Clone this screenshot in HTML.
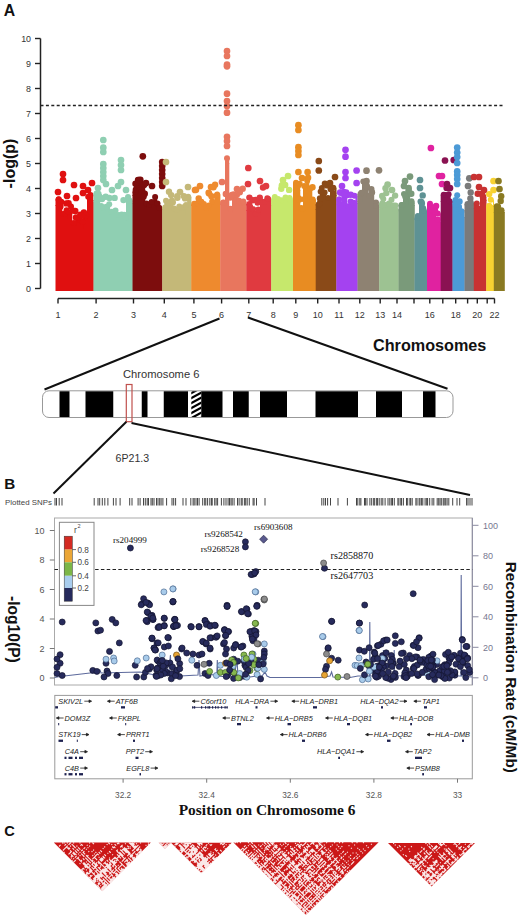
<!DOCTYPE html>
<html><head><meta charset="utf-8"><style>html,body{margin:0;padding:0;background:#fff;}svg{display:block}</style></head>
<body><svg width="520" height="922" viewBox="0 0 520 922">
<rect width="520" height="922" fill="#fff"/>
<text x="3.8" y="16.4" font-family='"Liberation Sans", sans-serif' font-weight="bold" font-size="15.8" fill="#111">A</text>
<line x1="40.5" y1="38.5" x2="40.5" y2="288.5" stroke="#222" stroke-width="1.5"/>
<line x1="35" y1="288.5" x2="40.5" y2="288.5" stroke="#222" stroke-width="1.4"/>
<text x="31" y="291.6" text-anchor="end" font-family='"Liberation Sans", sans-serif' font-size="8.9" fill="#333">0</text>
<line x1="35" y1="263.5" x2="40.5" y2="263.5" stroke="#222" stroke-width="1.4"/>
<text x="31" y="266.6" text-anchor="end" font-family='"Liberation Sans", sans-serif' font-size="8.9" fill="#333">1</text>
<line x1="35" y1="238.5" x2="40.5" y2="238.5" stroke="#222" stroke-width="1.4"/>
<text x="31" y="241.6" text-anchor="end" font-family='"Liberation Sans", sans-serif' font-size="8.9" fill="#333">2</text>
<line x1="35" y1="213.5" x2="40.5" y2="213.5" stroke="#222" stroke-width="1.4"/>
<text x="31" y="216.6" text-anchor="end" font-family='"Liberation Sans", sans-serif' font-size="8.9" fill="#333">3</text>
<line x1="35" y1="188.5" x2="40.5" y2="188.5" stroke="#222" stroke-width="1.4"/>
<text x="31" y="191.6" text-anchor="end" font-family='"Liberation Sans", sans-serif' font-size="8.9" fill="#333">4</text>
<line x1="35" y1="163.5" x2="40.5" y2="163.5" stroke="#222" stroke-width="1.4"/>
<text x="31" y="166.6" text-anchor="end" font-family='"Liberation Sans", sans-serif' font-size="8.9" fill="#333">5</text>
<line x1="35" y1="138.5" x2="40.5" y2="138.5" stroke="#222" stroke-width="1.4"/>
<text x="31" y="141.6" text-anchor="end" font-family='"Liberation Sans", sans-serif' font-size="8.9" fill="#333">6</text>
<line x1="35" y1="113.5" x2="40.5" y2="113.5" stroke="#222" stroke-width="1.4"/>
<text x="31" y="116.6" text-anchor="end" font-family='"Liberation Sans", sans-serif' font-size="8.9" fill="#333">7</text>
<line x1="35" y1="88.5" x2="40.5" y2="88.5" stroke="#222" stroke-width="1.4"/>
<text x="31" y="91.6" text-anchor="end" font-family='"Liberation Sans", sans-serif' font-size="8.9" fill="#333">8</text>
<line x1="35" y1="63.5" x2="40.5" y2="63.5" stroke="#222" stroke-width="1.4"/>
<text x="31" y="66.6" text-anchor="end" font-family='"Liberation Sans", sans-serif' font-size="8.9" fill="#333">9</text>
<line x1="35" y1="38.5" x2="40.5" y2="38.5" stroke="#222" stroke-width="1.4"/>
<text x="31" y="41.6" text-anchor="end" font-family='"Liberation Sans", sans-serif' font-size="8.9" fill="#333">10</text>
<text transform="translate(15,163.5) rotate(-90)" text-anchor="middle" font-family='"Liberation Sans", sans-serif' font-weight="bold" font-size="16" fill="#111">-log(p)</text>
<rect x="55.5" y="205.0" width="1.8" height="86.0" fill="#e01010"/>
<rect x="57.0" y="207.0" width="5.3" height="84.0" fill="#e01010"/>
<rect x="62.0" y="218.0" width="5.3" height="73.0" fill="#e01010"/>
<rect x="67.0" y="213.0" width="5.3" height="78.0" fill="#e01010"/>
<rect x="72.0" y="223.0" width="6.3" height="68.0" fill="#e01010"/>
<rect x="78.0" y="228.0" width="5.3" height="63.0" fill="#e01010"/>
<rect x="83.0" y="219.0" width="4.3" height="72.0" fill="#e01010"/>
<rect x="87.0" y="200.0" width="6.8" height="91.0" fill="#e01010"/>
<path d="M55.5,199.5h1.7V206.0h-1.7zM57.0,199.2h3.8V208.0h-3.8zM60.6,201.8h1.6V208.0h-1.6zM62.0,214.1h2.3V219.0h-2.3zM64.1,213.4h2.3V219.0h-2.3zM66.2,210.3h1.0V219.0h-1.0zM67.0,211.9h3.3V214.0h-3.3zM70.1,206.5h2.1V214.0h-2.1zM72.0,223.0h3.8V224.0h-3.8zM75.6,218.1h2.6V224.0h-2.6zM78.0,219.9h4.6V229.0h-4.6zM82.4,222.1h0.8V229.0h-0.8zM83.0,213.4h2.6V220.0h-2.6zM85.4,215.4h1.8V220.0h-1.8zM87.0,196.7h2.7V201.0h-2.7zM89.5,194.9h3.8V201.0h-3.8z" fill="#e01010"/>
<circle cx="58.5" cy="199.5" r="3" fill="#e01010"/>
<circle cx="58.8" cy="199.2" r="3" fill="#e01010"/>
<circle cx="61.3" cy="201.8" r="3" fill="#e01010"/>
<circle cx="63.1" cy="214.1" r="3" fill="#e01010"/>
<circle cx="65.2" cy="213.4" r="3" fill="#e01010"/>
<circle cx="66.6" cy="210.3" r="3" fill="#e01010"/>
<circle cx="68.5" cy="211.9" r="3" fill="#e01010"/>
<circle cx="71.0" cy="206.5" r="3" fill="#e01010"/>
<circle cx="73.8" cy="223.0" r="3" fill="#e01010"/>
<circle cx="76.8" cy="218.1" r="3" fill="#e01010"/>
<circle cx="80.2" cy="219.9" r="3" fill="#e01010"/>
<circle cx="82.7" cy="222.1" r="3" fill="#e01010"/>
<circle cx="84.2" cy="213.4" r="3" fill="#e01010"/>
<circle cx="86.2" cy="215.4" r="3" fill="#e01010"/>
<circle cx="88.2" cy="196.7" r="3" fill="#e01010"/>
<circle cx="90.5" cy="194.9" r="3" fill="#e01010"/>
<circle cx="76.0" cy="217.5" r="3.2" fill="#e01010"/>
<circle cx="60.4" cy="206.4" r="3.2" fill="#e01010"/>
<circle cx="80.3" cy="214.6" r="3.2" fill="#e01010"/>
<circle cx="68.6" cy="203.3" r="3.2" fill="#e01010"/>
<circle cx="73.0" cy="210.6" r="3.2" fill="#e01010"/>
<circle cx="83.9" cy="212.4" r="3.2" fill="#e01010"/>
<circle cx="66.3" cy="203.4" r="3.2" fill="#e01010"/>
<circle cx="75.3" cy="211.0" r="3.2" fill="#e01010"/>
<circle cx="81.8" cy="215.7" r="3.2" fill="#e01010"/>
<rect x="93.5" y="201.0" width="6.8" height="90.0" fill="#8fcfb2"/>
<rect x="100.0" y="210.0" width="10.3" height="81.0" fill="#8fcfb2"/>
<rect x="110.0" y="215.0" width="10.3" height="76.0" fill="#8fcfb2"/>
<rect x="120.0" y="217.0" width="6.3" height="74.0" fill="#8fcfb2"/>
<rect x="126.0" y="203.0" width="6.8" height="88.0" fill="#8fcfb2"/>
<path d="M93.5,193.6h4.7V202.0h-4.7zM98.0,199.3h2.2V202.0h-2.2zM100.0,205.9h2.6V211.0h-2.6zM102.4,207.5h2.3V211.0h-2.3zM104.5,206.7h4.1V211.0h-4.1zM108.4,204.3h1.8V211.0h-1.8zM110.0,211.8h3.9V216.0h-3.9zM113.7,210.6h3.6V216.0h-3.6zM117.2,215.0h3.0V216.0h-3.0zM120.0,214.5h3.4V218.0h-3.4zM123.2,214.8h2.4V218.0h-2.4zM125.3,217.4h0.9V218.0h-0.9zM126.0,197.1h4.3V204.0h-4.3zM130.1,200.5h2.6V204.0h-2.6z" fill="#8fcfb2"/>
<circle cx="96.5" cy="193.6" r="3" fill="#8fcfb2"/>
<circle cx="99.0" cy="199.3" r="3" fill="#8fcfb2"/>
<circle cx="101.2" cy="205.9" r="3" fill="#8fcfb2"/>
<circle cx="103.4" cy="207.5" r="3" fill="#8fcfb2"/>
<circle cx="106.4" cy="206.7" r="3" fill="#8fcfb2"/>
<circle cx="109.2" cy="204.3" r="3" fill="#8fcfb2"/>
<circle cx="111.9" cy="211.8" r="3" fill="#8fcfb2"/>
<circle cx="115.5" cy="210.6" r="3" fill="#8fcfb2"/>
<circle cx="118.6" cy="215.0" r="3" fill="#8fcfb2"/>
<circle cx="121.6" cy="214.5" r="3" fill="#8fcfb2"/>
<circle cx="124.3" cy="214.8" r="3" fill="#8fcfb2"/>
<circle cx="125.7" cy="217.4" r="3" fill="#8fcfb2"/>
<circle cx="128.0" cy="197.1" r="3" fill="#8fcfb2"/>
<circle cx="129.5" cy="200.5" r="3" fill="#8fcfb2"/>
<circle cx="97.2" cy="196.3" r="3.2" fill="#8fcfb2"/>
<circle cx="102.0" cy="199.1" r="3.2" fill="#8fcfb2"/>
<circle cx="98.4" cy="193.9" r="3.2" fill="#8fcfb2"/>
<circle cx="100.8" cy="198.0" r="3.2" fill="#8fcfb2"/>
<circle cx="109.4" cy="198.0" r="3.2" fill="#8fcfb2"/>
<circle cx="99.2" cy="196.4" r="3.2" fill="#8fcfb2"/>
<circle cx="114.6" cy="197.9" r="3.2" fill="#8fcfb2"/>
<circle cx="123.5" cy="200.1" r="3.2" fill="#8fcfb2"/>
<circle cx="105.7" cy="196.7" r="3.2" fill="#8fcfb2"/>
<rect x="132.5" y="195.0" width="3.8" height="96.0" fill="#7d0d0d"/>
<rect x="136.0" y="191.0" width="4.3" height="100.0" fill="#7d0d0d"/>
<rect x="140.0" y="190.0" width="5.3" height="101.0" fill="#7d0d0d"/>
<rect x="145.0" y="207.0" width="5.3" height="84.0" fill="#7d0d0d"/>
<rect x="150.0" y="205.0" width="8.3" height="86.0" fill="#7d0d0d"/>
<rect x="158.0" y="209.0" width="4.5" height="82.0" fill="#7d0d0d"/>
<path d="M132.5,191.7h3.1V196.0h-3.1zM135.4,189.5h0.8V196.0h-0.8zM136.0,185.7h2.6V192.0h-2.6zM138.4,186.5h1.8V192.0h-1.8zM140.0,183.9h3.7V191.0h-3.7zM143.5,185.3h1.7V191.0h-1.7zM145.0,203.6h3.1V208.0h-3.1zM147.9,204.7h2.3V208.0h-2.3zM150.0,202.1h3.5V206.0h-3.5zM153.3,197.0h3.9V206.0h-3.9zM157.0,203.5h1.2V206.0h-1.2zM158.0,207.7h4.4V210.0h-4.4z" fill="#7d0d0d"/>
<circle cx="135.5" cy="191.7" r="3" fill="#7d0d0d"/>
<circle cx="135.7" cy="189.5" r="3" fill="#7d0d0d"/>
<circle cx="137.2" cy="185.7" r="3" fill="#7d0d0d"/>
<circle cx="139.2" cy="186.5" r="3" fill="#7d0d0d"/>
<circle cx="141.7" cy="183.9" r="3" fill="#7d0d0d"/>
<circle cx="144.2" cy="185.3" r="3" fill="#7d0d0d"/>
<circle cx="146.5" cy="203.6" r="3" fill="#7d0d0d"/>
<circle cx="149.0" cy="204.7" r="3" fill="#7d0d0d"/>
<circle cx="151.6" cy="202.1" r="3" fill="#7d0d0d"/>
<circle cx="155.1" cy="197.0" r="3" fill="#7d0d0d"/>
<circle cx="157.5" cy="203.5" r="3" fill="#7d0d0d"/>
<circle cx="159.2" cy="207.7" r="3" fill="#7d0d0d"/>
<circle cx="144.8" cy="193.8" r="3.2" fill="#7d0d0d"/>
<circle cx="138.0" cy="179.9" r="3.2" fill="#7d0d0d"/>
<circle cx="137.0" cy="184.5" r="3.2" fill="#7d0d0d"/>
<circle cx="140.4" cy="179.7" r="3.2" fill="#7d0d0d"/>
<circle cx="143.6" cy="196.6" r="3.2" fill="#7d0d0d"/>
<circle cx="135.5" cy="183.8" r="3.2" fill="#7d0d0d"/>
<circle cx="137.9" cy="182.1" r="3.2" fill="#7d0d0d"/>
<rect x="162.2" y="208.0" width="13.1" height="83.0" fill="#c4b878"/>
<rect x="175.0" y="214.0" width="10.3" height="77.0" fill="#c4b878"/>
<rect x="185.0" y="205.0" width="6.5" height="86.0" fill="#c4b878"/>
<path d="M162.2,207.4h2.3V209.0h-2.3zM164.3,200.8h3.7V209.0h-3.7zM167.8,202.6h2.8V209.0h-2.8zM170.4,200.6h3.1V209.0h-3.1zM173.3,208.4h1.9V209.0h-1.9zM175.0,209.9h3.4V215.0h-3.4zM178.2,206.4h2.4V215.0h-2.4zM180.4,207.9h3.1V215.0h-3.1zM183.2,207.0h2.0V215.0h-2.0zM185.0,205.1h2.3V206.0h-2.3zM187.1,197.8h3.5V206.0h-3.5zM190.4,196.7h1.0V206.0h-1.0z" fill="#c4b878"/>
<circle cx="165.2" cy="207.4" r="3" fill="#c4b878"/>
<circle cx="166.0" cy="200.8" r="3" fill="#c4b878"/>
<circle cx="169.1" cy="202.6" r="3" fill="#c4b878"/>
<circle cx="171.9" cy="200.6" r="3" fill="#c4b878"/>
<circle cx="174.2" cy="208.4" r="3" fill="#c4b878"/>
<circle cx="176.6" cy="209.9" r="3" fill="#c4b878"/>
<circle cx="179.3" cy="206.4" r="3" fill="#c4b878"/>
<circle cx="181.8" cy="207.9" r="3" fill="#c4b878"/>
<circle cx="184.1" cy="207.0" r="3" fill="#c4b878"/>
<circle cx="186.0" cy="205.1" r="3" fill="#c4b878"/>
<circle cx="188.2" cy="197.8" r="3" fill="#c4b878"/>
<circle cx="188.2" cy="196.7" r="3" fill="#c4b878"/>
<circle cx="177.3" cy="196.2" r="3.2" fill="#c4b878"/>
<circle cx="185.1" cy="198.4" r="3.2" fill="#c4b878"/>
<circle cx="171.2" cy="195.1" r="3.2" fill="#c4b878"/>
<circle cx="169.0" cy="191.8" r="3.2" fill="#c4b878"/>
<circle cx="177.4" cy="197.8" r="3.2" fill="#c4b878"/>
<circle cx="172.8" cy="202.2" r="3.2" fill="#c4b878"/>
<circle cx="183.9" cy="196.1" r="3.2" fill="#c4b878"/>
<rect x="191.2" y="205.0" width="9.1" height="86.0" fill="#ee8a2e"/>
<rect x="200.0" y="210.0" width="10.3" height="81.0" fill="#ee8a2e"/>
<rect x="210.0" y="201.0" width="10.5" height="90.0" fill="#ee8a2e"/>
<path d="M191.2,203.8h4.3V206.0h-4.3zM195.3,203.2h4.2V206.0h-4.2zM199.4,201.2h0.8V206.0h-0.8zM200.0,201.8h3.1V211.0h-3.1zM202.9,204.0h2.3V211.0h-2.3zM205.0,207.7h2.8V211.0h-2.8zM207.6,205.5h2.6V211.0h-2.6zM210.0,201.4h4.5V202.0h-4.5zM214.3,195.8h4.6V202.0h-4.6zM218.7,194.5h1.7V202.0h-1.7z" fill="#ee8a2e"/>
<circle cx="194.2" cy="203.8" r="3" fill="#ee8a2e"/>
<circle cx="197.4" cy="203.2" r="3" fill="#ee8a2e"/>
<circle cx="199.7" cy="201.2" r="3" fill="#ee8a2e"/>
<circle cx="201.4" cy="201.8" r="3" fill="#ee8a2e"/>
<circle cx="203.9" cy="204.0" r="3" fill="#ee8a2e"/>
<circle cx="206.3" cy="207.7" r="3" fill="#ee8a2e"/>
<circle cx="208.8" cy="205.5" r="3" fill="#ee8a2e"/>
<circle cx="212.2" cy="201.4" r="3" fill="#ee8a2e"/>
<circle cx="216.5" cy="195.8" r="3" fill="#ee8a2e"/>
<circle cx="217.2" cy="194.5" r="3" fill="#ee8a2e"/>
<circle cx="198.7" cy="198.4" r="3.2" fill="#ee8a2e"/>
<circle cx="208.6" cy="192.8" r="3.2" fill="#ee8a2e"/>
<circle cx="213.5" cy="187.2" r="3.2" fill="#ee8a2e"/>
<circle cx="209.2" cy="193.6" r="3.2" fill="#ee8a2e"/>
<circle cx="196.1" cy="189.7" r="3.2" fill="#ee8a2e"/>
<circle cx="215.1" cy="184.7" r="3.2" fill="#ee8a2e"/>
<circle cx="211.5" cy="196.2" r="3.2" fill="#ee8a2e"/>
<rect x="220.2" y="204.0" width="5.1" height="87.0" fill="#e8765e"/>
<rect x="225.0" y="163.0" width="4.3" height="128.0" fill="#e8765e"/>
<rect x="229.0" y="212.0" width="3.3" height="79.0" fill="#e8765e"/>
<rect x="232.0" y="202.0" width="8.3" height="89.0" fill="#e8765e"/>
<rect x="240.0" y="204.0" width="6.6" height="87.0" fill="#e8765e"/>
<path d="M220.2,202.6h2.6V205.0h-2.6zM222.6,202.7h2.6V205.0h-2.6zM225.0,158.2h4.2V164.0h-4.2zM229.0,208.8h3.2V213.0h-3.2zM232.0,195.0h4.0V203.0h-4.0zM235.8,194.9h2.5V203.0h-2.5zM238.1,200.8h2.1V203.0h-2.1zM240.0,202.9h2.6V205.0h-2.6zM242.4,201.4h4.1V205.0h-4.1z" fill="#e8765e"/>
<circle cx="223.2" cy="202.6" r="3" fill="#e8765e"/>
<circle cx="223.8" cy="202.7" r="3" fill="#e8765e"/>
<circle cx="227.0" cy="158.2" r="3" fill="#e8765e"/>
<circle cx="230.5" cy="208.8" r="3" fill="#e8765e"/>
<circle cx="233.9" cy="195.0" r="3" fill="#e8765e"/>
<circle cx="237.0" cy="194.9" r="3" fill="#e8765e"/>
<circle cx="239.1" cy="200.8" r="3" fill="#e8765e"/>
<circle cx="241.2" cy="202.9" r="3" fill="#e8765e"/>
<circle cx="243.3" cy="201.4" r="3" fill="#e8765e"/>
<circle cx="230.2" cy="197.6" r="3.2" fill="#e8765e"/>
<circle cx="225.8" cy="193.9" r="3.2" fill="#e8765e"/>
<circle cx="242.7" cy="188.8" r="3.2" fill="#e8765e"/>
<circle cx="233.8" cy="194.5" r="3.2" fill="#e8765e"/>
<circle cx="231.9" cy="195.0" r="3.2" fill="#e8765e"/>
<circle cx="239.8" cy="192.3" r="3.2" fill="#e8765e"/>
<rect x="246.3" y="210.0" width="6.0" height="81.0" fill="#e03a40"/>
<rect x="252.0" y="214.0" width="8.3" height="77.0" fill="#e03a40"/>
<rect x="260.0" y="202.0" width="8.3" height="89.0" fill="#e03a40"/>
<rect x="268.0" y="205.0" width="3.5" height="86.0" fill="#e03a40"/>
<path d="M246.3,204.1h2.8V211.0h-2.8zM248.9,206.8h2.8V211.0h-2.8zM252.0,209.3h2.8V215.0h-2.8zM254.6,213.7h2.5V215.0h-2.5zM257.0,209.6h3.1V215.0h-3.1zM260.0,201.6h3.7V203.0h-3.7zM263.5,201.8h3.3V203.0h-3.3zM266.5,198.3h1.7V203.0h-1.7zM268.0,199.1h3.4V206.0h-3.4z" fill="#e03a40"/>
<circle cx="249.3" cy="204.1" r="3" fill="#e03a40"/>
<circle cx="250.2" cy="206.8" r="3" fill="#e03a40"/>
<circle cx="253.3" cy="209.3" r="3" fill="#e03a40"/>
<circle cx="255.8" cy="213.7" r="3" fill="#e03a40"/>
<circle cx="258.4" cy="209.6" r="3" fill="#e03a40"/>
<circle cx="261.7" cy="201.6" r="3" fill="#e03a40"/>
<circle cx="265.0" cy="201.8" r="3" fill="#e03a40"/>
<circle cx="267.3" cy="198.3" r="3" fill="#e03a40"/>
<circle cx="268.2" cy="199.1" r="3" fill="#e03a40"/>
<circle cx="257.6" cy="202.5" r="3.2" fill="#e03a40"/>
<circle cx="249.4" cy="197.6" r="3.2" fill="#e03a40"/>
<circle cx="252.6" cy="200.2" r="3.2" fill="#e03a40"/>
<circle cx="263.0" cy="187.5" r="3.2" fill="#e03a40"/>
<circle cx="255.5" cy="199.9" r="3.2" fill="#e03a40"/>
<circle cx="259.8" cy="197.7" r="3.2" fill="#e03a40"/>
<rect x="271.2" y="203.0" width="9.1" height="88.0" fill="#c6e86c"/>
<rect x="280.0" y="202.0" width="13.3" height="89.0" fill="#c6e86c"/>
<path d="M271.2,199.5h2.5V204.0h-2.5zM273.5,197.0h2.8V204.0h-2.8zM276.1,199.1h4.1V204.0h-4.1zM280.0,200.3h3.6V203.0h-3.6zM283.4,197.5h4.5V203.0h-4.5zM287.7,198.0h3.7V203.0h-3.7zM291.2,199.7h2.0V203.0h-2.0z" fill="#c6e86c"/>
<circle cx="274.2" cy="199.5" r="3" fill="#c6e86c"/>
<circle cx="274.8" cy="197.0" r="3" fill="#c6e86c"/>
<circle cx="278.0" cy="199.1" r="3" fill="#c6e86c"/>
<circle cx="281.7" cy="200.3" r="3" fill="#c6e86c"/>
<circle cx="285.5" cy="197.5" r="3" fill="#c6e86c"/>
<circle cx="289.5" cy="198.0" r="3" fill="#c6e86c"/>
<circle cx="290.0" cy="199.7" r="3" fill="#c6e86c"/>
<circle cx="281.3" cy="188.7" r="3.2" fill="#c6e86c"/>
<circle cx="281.8" cy="185.5" r="3.2" fill="#c6e86c"/>
<circle cx="285.2" cy="185.0" r="3.2" fill="#c6e86c"/>
<circle cx="289.1" cy="189.9" r="3.2" fill="#c6e86c"/>
<circle cx="283.0" cy="184.5" r="3.2" fill="#c6e86c"/>
<rect x="293.0" y="190.0" width="7.3" height="101.0" fill="#e88c22"/>
<rect x="300.0" y="212.0" width="3.3" height="79.0" fill="#e88c22"/>
<rect x="303.0" y="188.0" width="9.3" height="103.0" fill="#e88c22"/>
<rect x="312.0" y="204.0" width="4.0" height="87.0" fill="#e88c22"/>
<path d="M293.0,182.7h4.3V191.0h-4.3zM297.1,185.5h2.5V191.0h-2.5zM299.4,183.7h0.8V191.0h-0.8zM300.0,208.0h2.4V213.0h-2.4zM302.2,208.7h1.0V213.0h-1.0zM303.0,185.9h2.6V189.0h-2.6zM305.4,180.8h3.9V189.0h-3.9zM309.0,188.2h3.2V189.0h-3.2zM312.0,200.9h2.7V205.0h-2.7zM314.5,199.5h1.4V205.0h-1.4z" fill="#e88c22"/>
<circle cx="296.0" cy="182.7" r="3" fill="#e88c22"/>
<circle cx="298.3" cy="185.5" r="3" fill="#e88c22"/>
<circle cx="299.7" cy="183.7" r="3" fill="#e88c22"/>
<circle cx="301.1" cy="208.0" r="3" fill="#e88c22"/>
<circle cx="302.6" cy="208.7" r="3" fill="#e88c22"/>
<circle cx="304.2" cy="185.9" r="3" fill="#e88c22"/>
<circle cx="307.2" cy="180.8" r="3" fill="#e88c22"/>
<circle cx="310.5" cy="188.2" r="3" fill="#e88c22"/>
<circle cx="312.7" cy="200.9" r="3" fill="#e88c22"/>
<circle cx="312.7" cy="199.5" r="3" fill="#e88c22"/>
<circle cx="312.5" cy="187.3" r="3.2" fill="#e88c22"/>
<circle cx="298.7" cy="198.5" r="3.2" fill="#e88c22"/>
<circle cx="304.6" cy="199.3" r="3.2" fill="#e88c22"/>
<circle cx="299.3" cy="199.5" r="3.2" fill="#e88c22"/>
<circle cx="308.1" cy="177.8" r="3.2" fill="#e88c22"/>
<rect x="315.7" y="209.0" width="4.6" height="82.0" fill="#8a4a18"/>
<rect x="320.0" y="192.0" width="6.3" height="99.0" fill="#8a4a18"/>
<rect x="326.0" y="201.0" width="4.3" height="90.0" fill="#8a4a18"/>
<rect x="330.0" y="195.0" width="6.6" height="96.0" fill="#8a4a18"/>
<path d="M315.7,204.5h3.6V210.0h-3.6zM319.1,203.5h1.1V210.0h-1.1zM320.0,188.1h3.8V193.0h-3.8zM323.6,192.4h2.4V193.0h-2.4zM326.0,197.9h4.2V202.0h-4.2zM330.0,188.9h2.5V196.0h-2.5zM332.3,193.5h2.3V196.0h-2.3zM334.4,187.7h2.1V196.0h-2.1z" fill="#8a4a18"/>
<circle cx="318.7" cy="204.5" r="3" fill="#8a4a18"/>
<circle cx="319.5" cy="203.5" r="3" fill="#8a4a18"/>
<circle cx="321.8" cy="188.1" r="3" fill="#8a4a18"/>
<circle cx="324.6" cy="192.4" r="3" fill="#8a4a18"/>
<circle cx="328.0" cy="197.9" r="3" fill="#8a4a18"/>
<circle cx="331.1" cy="188.9" r="3" fill="#8a4a18"/>
<circle cx="333.3" cy="193.5" r="3" fill="#8a4a18"/>
<circle cx="333.3" cy="187.7" r="3" fill="#8a4a18"/>
<circle cx="324.9" cy="183.7" r="3.2" fill="#8a4a18"/>
<circle cx="330.7" cy="188.9" r="3.2" fill="#8a4a18"/>
<circle cx="320.9" cy="191.6" r="3.2" fill="#8a4a18"/>
<circle cx="327.0" cy="185.4" r="3.2" fill="#8a4a18"/>
<circle cx="320.0" cy="198.5" r="3.2" fill="#8a4a18"/>
<rect x="336.3" y="204.0" width="6.0" height="87.0" fill="#a442f0"/>
<rect x="342.0" y="193.0" width="5.3" height="98.0" fill="#a442f0"/>
<rect x="347.0" y="207.0" width="5.3" height="84.0" fill="#a442f0"/>
<rect x="352.0" y="203.0" width="5.8" height="88.0" fill="#a442f0"/>
<path d="M336.3,199.3h3.9V205.0h-3.9zM340.0,203.9h2.2V205.0h-2.2zM342.0,191.7h3.8V194.0h-3.8zM345.6,192.2h1.6V194.0h-1.6zM347.0,206.3h2.4V208.0h-2.4zM349.2,201.6h3.0V208.0h-3.0zM352.0,202.8h3.6V204.0h-3.6zM355.4,195.7h2.3V204.0h-2.3z" fill="#a442f0"/>
<circle cx="339.3" cy="199.3" r="3" fill="#a442f0"/>
<circle cx="341.0" cy="203.9" r="3" fill="#a442f0"/>
<circle cx="343.8" cy="191.7" r="3" fill="#a442f0"/>
<circle cx="346.3" cy="192.2" r="3" fill="#a442f0"/>
<circle cx="348.1" cy="206.3" r="3" fill="#a442f0"/>
<circle cx="350.6" cy="201.6" r="3" fill="#a442f0"/>
<circle cx="353.7" cy="202.8" r="3" fill="#a442f0"/>
<circle cx="354.5" cy="195.7" r="3" fill="#a442f0"/>
<circle cx="347.3" cy="195.1" r="3.2" fill="#a442f0"/>
<circle cx="341.0" cy="192.7" r="3.2" fill="#a442f0"/>
<circle cx="340.1" cy="192.4" r="3.2" fill="#a442f0"/>
<circle cx="344.0" cy="194.6" r="3.2" fill="#a442f0"/>
<circle cx="350.8" cy="194.7" r="3.2" fill="#a442f0"/>
<rect x="357.5" y="201.0" width="4.8" height="90.0" fill="#8e8272"/>
<rect x="362.0" y="190.0" width="6.3" height="101.0" fill="#8e8272"/>
<rect x="368.0" y="200.0" width="6.3" height="91.0" fill="#8e8272"/>
<rect x="374.0" y="207.0" width="5.5" height="84.0" fill="#8e8272"/>
<path d="M357.5,194.1h3.5V202.0h-3.5zM360.8,192.7h1.4V202.0h-1.4zM362.0,181.6h2.8V191.0h-2.8zM364.6,186.5h3.6V191.0h-3.6zM368.0,195.8h2.7V201.0h-2.7zM370.5,192.5h3.7V201.0h-3.7zM374.0,202.4h4.2V208.0h-4.2zM378.0,206.0h1.4V208.0h-1.4z" fill="#8e8272"/>
<circle cx="360.5" cy="194.1" r="3" fill="#8e8272"/>
<circle cx="361.4" cy="192.7" r="3" fill="#8e8272"/>
<circle cx="363.3" cy="181.6" r="3" fill="#8e8272"/>
<circle cx="366.3" cy="186.5" r="3" fill="#8e8272"/>
<circle cx="369.2" cy="195.8" r="3" fill="#8e8272"/>
<circle cx="372.2" cy="192.5" r="3" fill="#8e8272"/>
<circle cx="376.0" cy="202.4" r="3" fill="#8e8272"/>
<circle cx="376.2" cy="206.0" r="3" fill="#8e8272"/>
<circle cx="366.7" cy="185.9" r="3.2" fill="#8e8272"/>
<circle cx="371.3" cy="189.1" r="3.2" fill="#8e8272"/>
<circle cx="365.9" cy="183.3" r="3.2" fill="#8e8272"/>
<circle cx="371.6" cy="191.9" r="3.2" fill="#8e8272"/>
<circle cx="366.9" cy="187.2" r="3.2" fill="#8e8272"/>
<rect x="379.2" y="209.0" width="3.1" height="82.0" fill="#9dc292"/>
<rect x="382.0" y="206.0" width="10.3" height="85.0" fill="#9dc292"/>
<rect x="392.0" y="210.0" width="6.8" height="81.0" fill="#9dc292"/>
<path d="M379.2,203.4h2.3V210.0h-2.3zM381.3,205.2h0.9V210.0h-0.9zM382.0,199.0h2.8V207.0h-2.8zM384.6,205.1h2.4V207.0h-2.4zM386.9,203.5h4.4V207.0h-4.4zM391.0,199.7h1.2V207.0h-1.2zM392.0,205.6h2.9V211.0h-2.9zM394.7,205.5h2.6V211.0h-2.6zM397.1,210.2h1.6V211.0h-1.6z" fill="#9dc292"/>
<circle cx="382.2" cy="203.4" r="3" fill="#9dc292"/>
<circle cx="382.2" cy="205.2" r="3" fill="#9dc292"/>
<circle cx="383.3" cy="199.0" r="3" fill="#9dc292"/>
<circle cx="385.7" cy="205.1" r="3" fill="#9dc292"/>
<circle cx="388.9" cy="203.5" r="3" fill="#9dc292"/>
<circle cx="391.5" cy="199.7" r="3" fill="#9dc292"/>
<circle cx="393.4" cy="205.6" r="3" fill="#9dc292"/>
<circle cx="395.5" cy="205.5" r="3" fill="#9dc292"/>
<circle cx="395.5" cy="210.2" r="3" fill="#9dc292"/>
<circle cx="395.1" cy="195.6" r="3.2" fill="#9dc292"/>
<circle cx="385.5" cy="188.3" r="3.2" fill="#9dc292"/>
<circle cx="386.3" cy="193.1" r="3.2" fill="#9dc292"/>
<circle cx="382.2" cy="195.9" r="3.2" fill="#9dc292"/>
<rect x="398.5" y="209.0" width="4.8" height="82.0" fill="#7a9a7a"/>
<rect x="403.0" y="200.0" width="7.3" height="91.0" fill="#7a9a7a"/>
<rect x="410.0" y="205.0" width="4.8" height="86.0" fill="#7a9a7a"/>
<path d="M398.5,205.0h3.4V210.0h-3.4zM401.7,205.0h1.5V210.0h-1.5zM403.0,193.9h2.2V201.0h-2.2zM405.0,195.1h2.4V201.0h-2.4zM407.2,191.7h2.3V201.0h-2.3zM409.3,193.6h0.9V201.0h-0.9zM410.0,201.3h3.7V206.0h-3.7zM413.5,202.4h1.2V206.0h-1.2z" fill="#7a9a7a"/>
<circle cx="401.5" cy="205.0" r="3" fill="#7a9a7a"/>
<circle cx="402.3" cy="205.0" r="3" fill="#7a9a7a"/>
<circle cx="404.0" cy="193.9" r="3" fill="#7a9a7a"/>
<circle cx="406.1" cy="195.1" r="3" fill="#7a9a7a"/>
<circle cx="408.3" cy="191.7" r="3" fill="#7a9a7a"/>
<circle cx="409.7" cy="193.6" r="3" fill="#7a9a7a"/>
<circle cx="411.5" cy="201.3" r="3" fill="#7a9a7a"/>
<circle cx="411.5" cy="202.4" r="3" fill="#7a9a7a"/>
<circle cx="408.7" cy="188.0" r="3.2" fill="#7a9a7a"/>
<circle cx="405.4" cy="196.4" r="3.2" fill="#7a9a7a"/>
<circle cx="411.3" cy="193.8" r="3.2" fill="#7a9a7a"/>
<circle cx="408.7" cy="189.9" r="3.2" fill="#7a9a7a"/>
<rect x="414.5" y="219.0" width="4.8" height="72.0" fill="#5e9294"/>
<rect x="419.0" y="205.0" width="3.3" height="86.0" fill="#5e9294"/>
<rect x="422.0" y="212.0" width="5.3" height="79.0" fill="#5e9294"/>
<path d="M414.5,218.0h2.3V220.0h-2.3zM416.6,216.1h2.6V220.0h-2.6zM419.0,201.4h3.2V206.0h-3.2zM422.0,208.2h2.5V213.0h-2.5zM424.3,211.0h2.9V213.0h-2.9z" fill="#5e9294"/>
<circle cx="417.5" cy="218.0" r="3" fill="#5e9294"/>
<circle cx="417.8" cy="216.1" r="3" fill="#5e9294"/>
<circle cx="420.5" cy="201.4" r="3" fill="#5e9294"/>
<circle cx="423.2" cy="208.2" r="3" fill="#5e9294"/>
<circle cx="424.0" cy="211.0" r="3" fill="#5e9294"/>
<circle cx="422.7" cy="195.4" r="3.2" fill="#5e9294"/>
<circle cx="421.3" cy="201.9" r="3.2" fill="#5e9294"/>
<circle cx="421.9" cy="203.5" r="3.2" fill="#5e9294"/>
<rect x="427.0" y="212.0" width="9.3" height="79.0" fill="#e022a0"/>
<rect x="436.0" y="222.0" width="5.0" height="69.0" fill="#e022a0"/>
<path d="M427.0,203.8h2.8V213.0h-2.8zM429.6,206.7h2.5V213.0h-2.5zM431.9,211.0h2.5V213.0h-2.5zM434.2,209.1h2.0V213.0h-2.0zM436.0,219.6h3.8V223.0h-3.8zM439.6,213.5h1.3V223.0h-1.3z" fill="#e022a0"/>
<circle cx="430.0" cy="203.8" r="3" fill="#e022a0"/>
<circle cx="430.7" cy="206.7" r="3" fill="#e022a0"/>
<circle cx="433.0" cy="211.0" r="3" fill="#e022a0"/>
<circle cx="435.1" cy="209.1" r="3" fill="#e022a0"/>
<circle cx="437.7" cy="219.6" r="3" fill="#e022a0"/>
<circle cx="437.7" cy="213.5" r="3" fill="#e022a0"/>
<circle cx="436.1" cy="206.0" r="3.2" fill="#e022a0"/>
<circle cx="433.9" cy="207.7" r="3.2" fill="#e022a0"/>
<circle cx="435.1" cy="211.5" r="3.2" fill="#e022a0"/>
<rect x="440.7" y="201.0" width="12.1" height="90.0" fill="#8a1252"/>
<path d="M440.7,194.8h4.0V202.0h-4.0zM444.5,194.9h2.4V202.0h-2.4zM446.7,194.3h4.0V202.0h-4.0zM450.6,201.3h2.1V202.0h-2.1z" fill="#8a1252"/>
<circle cx="443.7" cy="194.8" r="3" fill="#8a1252"/>
<circle cx="445.6" cy="194.9" r="3" fill="#8a1252"/>
<circle cx="448.6" cy="194.3" r="3" fill="#8a1252"/>
<circle cx="449.5" cy="201.3" r="3" fill="#8a1252"/>
<circle cx="446.6" cy="187.9" r="3.2" fill="#8a1252"/>
<circle cx="446.5" cy="185.5" r="3.2" fill="#8a1252"/>
<rect x="452.5" y="203.0" width="5.8" height="88.0" fill="#4c9ad6"/>
<rect x="458.0" y="217.0" width="6.8" height="74.0" fill="#4c9ad6"/>
<path d="M452.5,200.1h4.1V204.0h-4.1zM456.4,195.2h1.8V204.0h-1.8zM458.0,210.8h2.6V218.0h-2.6zM460.4,211.2h4.1V218.0h-4.1z" fill="#4c9ad6"/>
<circle cx="455.5" cy="200.1" r="3" fill="#4c9ad6"/>
<circle cx="457.2" cy="195.2" r="3" fill="#4c9ad6"/>
<circle cx="459.2" cy="210.8" r="3" fill="#4c9ad6"/>
<circle cx="461.5" cy="211.2" r="3" fill="#4c9ad6"/>
<circle cx="458.9" cy="206.9" r="3.2" fill="#4c9ad6"/>
<circle cx="455.9" cy="204.8" r="3.2" fill="#4c9ad6"/>
<circle cx="459.5" cy="201.5" r="3.2" fill="#4c9ad6"/>
<rect x="464.5" y="210.0" width="9.6" height="81.0" fill="#7a7a7a"/>
<path d="M464.5,204.1h3.9V211.0h-3.9zM468.2,205.7h3.5V211.0h-3.5zM471.5,202.6h2.5V211.0h-2.5z" fill="#7a7a7a"/>
<circle cx="467.5" cy="204.1" r="3" fill="#7a7a7a"/>
<circle cx="469.8" cy="205.7" r="3" fill="#7a7a7a"/>
<circle cx="470.8" cy="202.6" r="3" fill="#7a7a7a"/>
<circle cx="470.4" cy="198.4" r="3.2" fill="#7a7a7a"/>
<circle cx="470.7" cy="192.5" r="3.2" fill="#7a7a7a"/>
<rect x="473.8" y="208.0" width="6.5" height="83.0" fill="#c83232"/>
<rect x="480.0" y="200.0" width="6.5" height="91.0" fill="#c83232"/>
<path d="M473.8,203.6h2.2V209.0h-2.2zM475.8,208.2h4.2V209.0h-4.2zM480.0,193.9h3.3V201.0h-3.3zM483.1,200.0h2.7V201.0h-2.7zM485.6,196.7h0.8V201.0h-0.8z" fill="#c83232"/>
<circle cx="476.8" cy="203.6" r="3" fill="#c83232"/>
<circle cx="477.9" cy="208.2" r="3" fill="#c83232"/>
<circle cx="481.6" cy="193.9" r="3" fill="#c83232"/>
<circle cx="483.2" cy="200.0" r="3" fill="#c83232"/>
<circle cx="483.2" cy="196.7" r="3" fill="#c83232"/>
<circle cx="477.7" cy="193.8" r="3.2" fill="#c83232"/>
<circle cx="482.9" cy="196.9" r="3.2" fill="#c83232"/>
<circle cx="482.0" cy="193.9" r="3.2" fill="#c83232"/>
<rect x="486.2" y="208.0" width="7.9" height="83.0" fill="#f8d232"/>
<path d="M486.2,205.8h4.4V209.0h-4.4zM490.4,207.6h2.8V209.0h-2.8zM493.0,199.7h1.0V209.0h-1.0z" fill="#f8d232"/>
<circle cx="489.2" cy="205.8" r="3" fill="#f8d232"/>
<circle cx="490.8" cy="207.6" r="3" fill="#f8d232"/>
<circle cx="490.8" cy="199.7" r="3" fill="#f8d232"/>
<circle cx="489.2" cy="194.1" r="3.2" fill="#f8d232"/>
<rect x="493.8" y="212.0" width="11.0" height="79.0" fill="#8a7a22"/>
<path d="M493.8,206.2h3.3V213.0h-3.3zM496.9,206.6h2.6V213.0h-2.6zM499.3,211.1h3.0V213.0h-3.0zM502.1,210.3h2.2V213.0h-2.2z" fill="#8a7a22"/>
<circle cx="496.8" cy="206.2" r="3" fill="#8a7a22"/>
<circle cx="498.1" cy="206.6" r="3" fill="#8a7a22"/>
<circle cx="500.7" cy="211.1" r="3" fill="#8a7a22"/>
<circle cx="501.5" cy="210.3" r="3" fill="#8a7a22"/>
<circle cx="500.7" cy="201.0" r="3.2" fill="#8a7a22"/>
<circle cx="501.2" cy="196.3" r="3.2" fill="#8a7a22"/>
<circle cx="63" cy="174" r="3.35" fill="#e01010"/>
<circle cx="63" cy="180" r="3.35" fill="#e01010"/>
<circle cx="74" cy="185" r="3.35" fill="#e01010"/>
<circle cx="83" cy="186" r="3.35" fill="#e01010"/>
<circle cx="83" cy="193" r="3.35" fill="#e01010"/>
<circle cx="92" cy="183" r="3.35" fill="#e01010"/>
<circle cx="67" cy="196" r="3.35" fill="#e01010"/>
<circle cx="76" cy="198" r="3.35" fill="#e01010"/>
<circle cx="58" cy="192" r="3.35" fill="#e01010"/>
<circle cx="88" cy="190" r="3.35" fill="#e01010"/>
<circle cx="103.3" cy="140" r="3.35" fill="#8fcfb2"/>
<circle cx="103.3" cy="147.7" r="3.35" fill="#8fcfb2"/>
<circle cx="103.3" cy="152" r="3.35" fill="#8fcfb2"/>
<circle cx="103.3" cy="164" r="3.35" fill="#8fcfb2"/>
<circle cx="103.3" cy="168" r="3.35" fill="#8fcfb2"/>
<circle cx="103.3" cy="172" r="3.35" fill="#8fcfb2"/>
<circle cx="103.3" cy="176" r="3.35" fill="#8fcfb2"/>
<circle cx="103.3" cy="180" r="3.35" fill="#8fcfb2"/>
<circle cx="106" cy="184" r="3.35" fill="#8fcfb2"/>
<circle cx="121" cy="160" r="3.35" fill="#8fcfb2"/>
<circle cx="121" cy="165" r="3.35" fill="#8fcfb2"/>
<circle cx="121" cy="170" r="3.35" fill="#8fcfb2"/>
<circle cx="121" cy="182" r="3.35" fill="#8fcfb2"/>
<circle cx="118" cy="186" r="3.35" fill="#8fcfb2"/>
<circle cx="112" cy="190" r="3.35" fill="#8fcfb2"/>
<circle cx="126" cy="190" r="3.35" fill="#8fcfb2"/>
<circle cx="98" cy="188" r="3.35" fill="#8fcfb2"/>
<circle cx="142.8" cy="156.3" r="3.35" fill="#7d0d0d"/>
<circle cx="162.2" cy="162" r="3.35" fill="#7d0d0d"/>
<circle cx="162.2" cy="166" r="3.35" fill="#7d0d0d"/>
<circle cx="162.2" cy="170" r="3.35" fill="#7d0d0d"/>
<circle cx="162.2" cy="174" r="3.35" fill="#7d0d0d"/>
<circle cx="162.2" cy="178" r="3.35" fill="#7d0d0d"/>
<circle cx="162.2" cy="182" r="3.35" fill="#7d0d0d"/>
<circle cx="162.2" cy="186" r="3.35" fill="#7d0d0d"/>
<circle cx="139" cy="180" r="3.35" fill="#7d0d0d"/>
<circle cx="146" cy="183" r="3.35" fill="#7d0d0d"/>
<circle cx="152" cy="186" r="3.35" fill="#7d0d0d"/>
<circle cx="166" cy="162" r="3.35" fill="#c4b878"/>
<circle cx="166" cy="182" r="3.35" fill="#c4b878"/>
<circle cx="188" cy="187" r="3.35" fill="#c4b878"/>
<circle cx="180" cy="192" r="3.35" fill="#c4b878"/>
<circle cx="200" cy="186" r="3.35" fill="#ee8a2e"/>
<circle cx="211" cy="187" r="3.35" fill="#ee8a2e"/>
<circle cx="195" cy="190" r="3.35" fill="#ee8a2e"/>
<circle cx="227" cy="51.1" r="3.35" fill="#e8765e"/>
<circle cx="227" cy="56" r="3.35" fill="#e8765e"/>
<circle cx="227" cy="64.6" r="3.35" fill="#e8765e"/>
<circle cx="227" cy="66.3" r="3.35" fill="#e8765e"/>
<circle cx="227" cy="93.7" r="3.35" fill="#e8765e"/>
<circle cx="227" cy="101" r="3.35" fill="#e8765e"/>
<circle cx="227" cy="106" r="3.35" fill="#e8765e"/>
<circle cx="227" cy="112.7" r="3.35" fill="#e8765e"/>
<circle cx="227" cy="136.8" r="3.35" fill="#e8765e"/>
<circle cx="227" cy="141" r="3.35" fill="#e8765e"/>
<circle cx="227" cy="146" r="3.35" fill="#e8765e"/>
<circle cx="222" cy="182" r="3.35" fill="#e8765e"/>
<circle cx="237" cy="189" r="3.35" fill="#e8765e"/>
<circle cx="248.3" cy="168" r="3.35" fill="#e03a40"/>
<circle cx="260" cy="181" r="3.35" fill="#e03a40"/>
<circle cx="248" cy="184" r="3.35" fill="#e03a40"/>
<circle cx="266" cy="186" r="3.35" fill="#e03a40"/>
<circle cx="283" cy="180" r="3.35" fill="#c6e86c"/>
<circle cx="288" cy="176" r="3.35" fill="#c6e86c"/>
<circle cx="298.4" cy="125.2" r="3.35" fill="#e88c22"/>
<circle cx="298.4" cy="130" r="3.35" fill="#e88c22"/>
<circle cx="298.4" cy="147.2" r="3.35" fill="#e88c22"/>
<circle cx="298.4" cy="151" r="3.35" fill="#e88c22"/>
<circle cx="298.4" cy="155" r="3.35" fill="#e88c22"/>
<circle cx="298.4" cy="172" r="3.35" fill="#e88c22"/>
<circle cx="307.6" cy="172" r="3.35" fill="#e88c22"/>
<circle cx="302" cy="178" r="3.35" fill="#e88c22"/>
<circle cx="318.8" cy="161" r="3.35" fill="#8a4a18"/>
<circle cx="318.8" cy="170.5" r="3.35" fill="#8a4a18"/>
<circle cx="335" cy="177" r="3.35" fill="#8a4a18"/>
<circle cx="330" cy="183" r="3.35" fill="#8a4a18"/>
<circle cx="345.5" cy="149.8" r="3.35" fill="#a442f0"/>
<circle cx="345.5" cy="156.7" r="3.35" fill="#a442f0"/>
<circle cx="345.5" cy="172" r="3.35" fill="#a442f0"/>
<circle cx="345.5" cy="178" r="3.35" fill="#a442f0"/>
<circle cx="356.6" cy="170.5" r="3.35" fill="#a442f0"/>
<circle cx="356.6" cy="183" r="3.35" fill="#a442f0"/>
<circle cx="342" cy="186" r="3.35" fill="#a442f0"/>
<circle cx="366.5" cy="170.7" r="3.35" fill="#8e8272"/>
<circle cx="379" cy="170.3" r="3.35" fill="#8e8272"/>
<circle cx="366.5" cy="181" r="3.35" fill="#8e8272"/>
<circle cx="366" cy="186" r="3.35" fill="#8e8272"/>
<circle cx="387.6" cy="184.5" r="3.35" fill="#9dc292"/>
<circle cx="392" cy="190" r="3.35" fill="#9dc292"/>
<circle cx="410" cy="176.6" r="3.35" fill="#7a9a7a"/>
<circle cx="405" cy="181" r="3.35" fill="#7a9a7a"/>
<circle cx="404" cy="186" r="3.35" fill="#7a9a7a"/>
<circle cx="420" cy="180" r="3.35" fill="#5e9294"/>
<circle cx="420" cy="188" r="3.35" fill="#5e9294"/>
<circle cx="430.9" cy="148" r="3.35" fill="#e022a0"/>
<circle cx="439" cy="176" r="3.35" fill="#e022a0"/>
<circle cx="442" cy="176" r="3.35" fill="#e022a0"/>
<circle cx="442" cy="184" r="3.35" fill="#e022a0"/>
<circle cx="445" cy="160.5" r="3.35" fill="#8a1252"/>
<circle cx="453.7" cy="160" r="3.35" fill="#8a1252"/>
<circle cx="447" cy="184" r="3.35" fill="#8a1252"/>
<circle cx="450" cy="188" r="3.35" fill="#8a1252"/>
<circle cx="457.2" cy="147.5" r="3.35" fill="#4c9ad6"/>
<circle cx="457.2" cy="152.5" r="3.35" fill="#4c9ad6"/>
<circle cx="457.2" cy="157" r="3.35" fill="#4c9ad6"/>
<circle cx="457.2" cy="163" r="3.35" fill="#4c9ad6"/>
<circle cx="457.2" cy="171.4" r="3.35" fill="#4c9ad6"/>
<circle cx="457.2" cy="175" r="3.35" fill="#4c9ad6"/>
<circle cx="457.2" cy="179" r="3.35" fill="#4c9ad6"/>
<circle cx="457.2" cy="184" r="3.35" fill="#4c9ad6"/>
<circle cx="469.3" cy="178.3" r="3.35" fill="#7a7a7a"/>
<circle cx="468" cy="186" r="3.35" fill="#7a7a7a"/>
<circle cx="474" cy="177" r="3.35" fill="#c83232"/>
<circle cx="479" cy="177" r="3.35" fill="#c83232"/>
<circle cx="479" cy="187" r="3.35" fill="#c83232"/>
<circle cx="484" cy="190" r="3.35" fill="#c83232"/>
<circle cx="493.5" cy="181" r="3.35" fill="#f8d232"/>
<circle cx="493.5" cy="190" r="3.35" fill="#f8d232"/>
<circle cx="498.5" cy="181" r="3.35" fill="#8a7a22"/>
<circle cx="499.5" cy="189" r="3.35" fill="#8a7a22"/>
<line x1="40.5" y1="105.5" x2="504" y2="105.5" stroke="#222" stroke-width="1.5" stroke-dasharray="3,2.4"/>
<line x1="58" y1="298.5" x2="494.6" y2="298.5" stroke="#222" stroke-width="1.5"/>
<line x1="58" y1="298.5" x2="58" y2="303.5" stroke="#222" stroke-width="1.4"/>
<text x="58" y="318" text-anchor="middle" font-family='"Liberation Sans", sans-serif' font-size="9" fill="#333">1</text>
<line x1="96.1" y1="298.5" x2="96.1" y2="303.5" stroke="#222" stroke-width="1.4"/>
<text x="96.1" y="318" text-anchor="middle" font-family='"Liberation Sans", sans-serif' font-size="9" fill="#333">2</text>
<line x1="133.5" y1="298.5" x2="133.5" y2="303.5" stroke="#222" stroke-width="1.4"/>
<text x="133.5" y="318" text-anchor="middle" font-family='"Liberation Sans", sans-serif' font-size="9" fill="#333">3</text>
<line x1="164.3" y1="298.5" x2="164.3" y2="303.5" stroke="#222" stroke-width="1.4"/>
<text x="164.3" y="318" text-anchor="middle" font-family='"Liberation Sans", sans-serif' font-size="9" fill="#333">4</text>
<line x1="193.9" y1="298.5" x2="193.9" y2="303.5" stroke="#222" stroke-width="1.4"/>
<text x="193.9" y="318" text-anchor="middle" font-family='"Liberation Sans", sans-serif' font-size="9" fill="#333">5</text>
<line x1="221.6" y1="298.5" x2="221.6" y2="303.5" stroke="#222" stroke-width="1.4"/>
<text x="221.6" y="318" text-anchor="middle" font-family='"Liberation Sans", sans-serif' font-size="9" fill="#333">6</text>
<line x1="248.8" y1="298.5" x2="248.8" y2="303.5" stroke="#222" stroke-width="1.4"/>
<text x="248.8" y="318" text-anchor="middle" font-family='"Liberation Sans", sans-serif' font-size="9" fill="#333">7</text>
<line x1="273.2" y1="298.5" x2="273.2" y2="303.5" stroke="#222" stroke-width="1.4"/>
<text x="273.2" y="318" text-anchor="middle" font-family='"Liberation Sans", sans-serif' font-size="9" fill="#333">8</text>
<line x1="295.8" y1="298.5" x2="295.8" y2="303.5" stroke="#222" stroke-width="1.4"/>
<text x="295.8" y="318" text-anchor="middle" font-family='"Liberation Sans", sans-serif' font-size="9" fill="#333">9</text>
<line x1="317.7" y1="298.5" x2="317.7" y2="303.5" stroke="#222" stroke-width="1.4"/>
<text x="317.7" y="318" text-anchor="middle" font-family='"Liberation Sans", sans-serif' font-size="9" fill="#333">10</text>
<line x1="339" y1="298.5" x2="339" y2="303.5" stroke="#222" stroke-width="1.4"/>
<text x="339" y="318" text-anchor="middle" font-family='"Liberation Sans", sans-serif' font-size="9" fill="#333">11</text>
<line x1="359.8" y1="298.5" x2="359.8" y2="303.5" stroke="#222" stroke-width="1.4"/>
<text x="359.8" y="318" text-anchor="middle" font-family='"Liberation Sans", sans-serif' font-size="9" fill="#333">12</text>
<line x1="380.2" y1="298.5" x2="380.2" y2="303.5" stroke="#222" stroke-width="1.4"/>
<text x="380.2" y="318" text-anchor="middle" font-family='"Liberation Sans", sans-serif' font-size="9" fill="#333">13</text>
<line x1="397" y1="298.5" x2="397" y2="303.5" stroke="#222" stroke-width="1.4"/>
<text x="397" y="318" text-anchor="middle" font-family='"Liberation Sans", sans-serif' font-size="9" fill="#333">14</text>
<line x1="414" y1="298.5" x2="414" y2="303.5" stroke="#222" stroke-width="1.4"/>
<line x1="429.8" y1="298.5" x2="429.8" y2="303.5" stroke="#222" stroke-width="1.4"/>
<text x="429.8" y="318" text-anchor="middle" font-family='"Liberation Sans", sans-serif' font-size="9" fill="#333">16</text>
<line x1="442.8" y1="298.5" x2="442.8" y2="303.5" stroke="#222" stroke-width="1.4"/>
<line x1="455.7" y1="298.5" x2="455.7" y2="303.5" stroke="#222" stroke-width="1.4"/>
<text x="455.7" y="318" text-anchor="middle" font-family='"Liberation Sans", sans-serif' font-size="9" fill="#333">18</text>
<line x1="467.6" y1="298.5" x2="467.6" y2="303.5" stroke="#222" stroke-width="1.4"/>
<line x1="477.3" y1="298.5" x2="477.3" y2="303.5" stroke="#222" stroke-width="1.4"/>
<text x="477.3" y="318" text-anchor="middle" font-family='"Liberation Sans", sans-serif' font-size="9" fill="#333">20</text>
<line x1="487.2" y1="298.5" x2="487.2" y2="303.5" stroke="#222" stroke-width="1.4"/>
<line x1="494.5" y1="298.5" x2="494.5" y2="303.5" stroke="#222" stroke-width="1.4"/>
<text x="494.5" y="318" text-anchor="middle" font-family='"Liberation Sans", sans-serif' font-size="9" fill="#333">22</text>
<text x="373" y="351.2" font-family='"Liberation Sans", sans-serif' font-weight="bold" font-size="16.2" fill="#111">Chromosomes</text>
<line x1="219.5" y1="318.5" x2="44.5" y2="389.5" stroke="#111" stroke-width="2"/>
<line x1="248" y1="317.5" x2="447.5" y2="388.8" stroke="#111" stroke-width="2"/>
<text x="123" y="378.2" font-family='"Liberation Sans", sans-serif' font-size="11.2" fill="#333">Chromosome 6</text>
<rect x="42.5" y="390.8" width="410.5" height="26.7" rx="6.5" ry="6.5" fill="#fff" stroke="#999" stroke-width="1"/>
<rect x="59.5" y="391.3" width="10.00" height="25.7" fill="#000"/>
<rect x="85.5" y="391.3" width="27.75" height="25.7" fill="#000"/>
<rect x="141.75" y="391.3" width="5.75" height="25.7" fill="#000"/>
<rect x="163.75" y="391.3" width="24.25" height="25.7" fill="#000"/>
<rect x="201.25" y="391.3" width="21.25" height="25.7" fill="#000"/>
<rect x="233" y="391.3" width="15.75" height="25.7" fill="#000"/>
<rect x="260" y="391.3" width="27.00" height="25.7" fill="#000"/>
<rect x="315.5" y="391.3" width="42.50" height="25.7" fill="#000"/>
<rect x="376" y="391.3" width="26.00" height="25.7" fill="#000"/>
<rect x="423" y="391.3" width="12.50" height="25.7" fill="#000"/>
<defs><clipPath id="cen"><rect x="191.3" y="391.3" width="10" height="25.7"/></clipPath></defs>
<g clip-path="url(#cen)"><line x1="189" y1="384.3" x2="204" y2="376.3" stroke="#000" stroke-width="2.2"/><line x1="189" y1="389.3" x2="204" y2="381.3" stroke="#000" stroke-width="2.2"/><line x1="189" y1="394.3" x2="204" y2="386.3" stroke="#000" stroke-width="2.2"/><line x1="189" y1="399.3" x2="204" y2="391.3" stroke="#000" stroke-width="2.2"/><line x1="189" y1="404.3" x2="204" y2="396.3" stroke="#000" stroke-width="2.2"/><line x1="189" y1="409.3" x2="204" y2="401.3" stroke="#000" stroke-width="2.2"/><line x1="189" y1="414.3" x2="204" y2="406.3" stroke="#000" stroke-width="2.2"/><line x1="189" y1="419.3" x2="204" y2="411.3" stroke="#000" stroke-width="2.2"/><line x1="189" y1="424.3" x2="204" y2="416.3" stroke="#000" stroke-width="2.2"/><line x1="189" y1="429.3" x2="204" y2="421.3" stroke="#000" stroke-width="2.2"/><line x1="189" y1="434.3" x2="204" y2="426.3" stroke="#000" stroke-width="2.2"/></g>
<rect x="126.3" y="384.5" width="5.7" height="37.2" fill="none" stroke="#c0504d" stroke-width="1.2"/>
<line x1="126.4" y1="421.7" x2="53.5" y2="493.5" stroke="#111" stroke-width="2"/>
<line x1="131.5" y1="423" x2="470" y2="495" stroke="#111" stroke-width="2"/>
<text x="115.6" y="461.5" font-family='"Liberation Sans", sans-serif' font-size="10.6" fill="#333">6P21.3</text>
<text x="4.3" y="489.4" font-family='"Liberation Sans", sans-serif' font-weight="bold" font-size="15.2" fill="#111">B</text>
<text x="5" y="505" font-family='"Liberation Sans", sans-serif' font-size="7.9" fill="#444">Plotted SNPs</text>
<line x1="55.0" y1="498" x2="55.0" y2="505.5" stroke="#3a3a3a" stroke-width="0.95"/>
<line x1="56.5" y1="498" x2="56.5" y2="505.5" stroke="#3a3a3a" stroke-width="0.95"/>
<line x1="59.2" y1="498" x2="59.2" y2="505.5" stroke="#3a3a3a" stroke-width="0.95"/>
<line x1="62.0" y1="498" x2="62.0" y2="505.5" stroke="#3a3a3a" stroke-width="0.95"/>
<line x1="94.2" y1="498" x2="94.2" y2="505.5" stroke="#3a3a3a" stroke-width="0.95"/>
<line x1="98.0" y1="498" x2="98.0" y2="505.5" stroke="#3a3a3a" stroke-width="0.95"/>
<line x1="99.7" y1="498" x2="99.7" y2="505.5" stroke="#3a3a3a" stroke-width="0.95"/>
<line x1="102.3" y1="498" x2="102.3" y2="505.5" stroke="#3a3a3a" stroke-width="0.95"/>
<line x1="104.8" y1="498" x2="104.8" y2="505.5" stroke="#3a3a3a" stroke-width="0.95"/>
<line x1="107.9" y1="498" x2="107.9" y2="505.5" stroke="#3a3a3a" stroke-width="0.95"/>
<line x1="113.4" y1="498" x2="113.4" y2="505.5" stroke="#3a3a3a" stroke-width="0.95"/>
<line x1="116.0" y1="498" x2="116.0" y2="505.5" stroke="#3a3a3a" stroke-width="0.95"/>
<line x1="120.1" y1="498" x2="120.1" y2="505.5" stroke="#3a3a3a" stroke-width="0.95"/>
<line x1="129.7" y1="498" x2="129.7" y2="505.5" stroke="#3a3a3a" stroke-width="0.95"/>
<line x1="132.0" y1="498" x2="132.0" y2="505.5" stroke="#3a3a3a" stroke-width="0.95"/>
<line x1="138.1" y1="498" x2="138.1" y2="505.5" stroke="#3a3a3a" stroke-width="0.95"/>
<line x1="140.1" y1="498" x2="140.1" y2="505.5" stroke="#3a3a3a" stroke-width="0.95"/>
<line x1="143.5" y1="498" x2="143.5" y2="505.5" stroke="#3a3a3a" stroke-width="0.95"/>
<line x1="145.3" y1="498" x2="145.3" y2="505.5" stroke="#3a3a3a" stroke-width="0.95"/>
<line x1="147.2" y1="498" x2="147.2" y2="505.5" stroke="#3a3a3a" stroke-width="0.95"/>
<line x1="148.5" y1="498" x2="148.5" y2="505.5" stroke="#3a3a3a" stroke-width="0.95"/>
<line x1="151.0" y1="498" x2="151.0" y2="505.5" stroke="#3a3a3a" stroke-width="0.95"/>
<line x1="152.3" y1="498" x2="152.3" y2="505.5" stroke="#3a3a3a" stroke-width="0.95"/>
<line x1="154.0" y1="498" x2="154.0" y2="505.5" stroke="#3a3a3a" stroke-width="0.95"/>
<line x1="156.5" y1="498" x2="156.5" y2="505.5" stroke="#3a3a3a" stroke-width="0.95"/>
<line x1="158.0" y1="498" x2="158.0" y2="505.5" stroke="#3a3a3a" stroke-width="0.95"/>
<line x1="159.7" y1="498" x2="159.7" y2="505.5" stroke="#3a3a3a" stroke-width="0.95"/>
<line x1="161.1" y1="498" x2="161.1" y2="505.5" stroke="#3a3a3a" stroke-width="0.95"/>
<line x1="162.9" y1="498" x2="162.9" y2="505.5" stroke="#3a3a3a" stroke-width="0.95"/>
<line x1="166.6" y1="498" x2="166.6" y2="505.5" stroke="#3a3a3a" stroke-width="0.95"/>
<line x1="172.0" y1="498" x2="172.0" y2="505.5" stroke="#3a3a3a" stroke-width="0.95"/>
<line x1="173.7" y1="498" x2="173.7" y2="505.5" stroke="#3a3a3a" stroke-width="0.95"/>
<line x1="175.6" y1="498" x2="175.6" y2="505.5" stroke="#3a3a3a" stroke-width="0.95"/>
<line x1="183.0" y1="498" x2="183.0" y2="505.5" stroke="#3a3a3a" stroke-width="0.95"/>
<line x1="186.0" y1="498" x2="186.0" y2="505.5" stroke="#3a3a3a" stroke-width="0.95"/>
<line x1="190.8" y1="498" x2="190.8" y2="505.5" stroke="#3a3a3a" stroke-width="0.95"/>
<line x1="193.1" y1="498" x2="193.1" y2="505.5" stroke="#3a3a3a" stroke-width="0.95"/>
<line x1="194.2" y1="498" x2="194.2" y2="505.5" stroke="#3a3a3a" stroke-width="0.95"/>
<line x1="196.0" y1="498" x2="196.0" y2="505.5" stroke="#3a3a3a" stroke-width="0.95"/>
<line x1="197.5" y1="498" x2="197.5" y2="505.5" stroke="#3a3a3a" stroke-width="0.95"/>
<line x1="199.1" y1="498" x2="199.1" y2="505.5" stroke="#3a3a3a" stroke-width="0.95"/>
<line x1="202.7" y1="498" x2="202.7" y2="505.5" stroke="#3a3a3a" stroke-width="0.95"/>
<line x1="204.7" y1="498" x2="204.7" y2="505.5" stroke="#3a3a3a" stroke-width="0.95"/>
<line x1="205.8" y1="498" x2="205.8" y2="505.5" stroke="#3a3a3a" stroke-width="0.95"/>
<line x1="207.6" y1="498" x2="207.6" y2="505.5" stroke="#3a3a3a" stroke-width="0.95"/>
<line x1="209.8" y1="498" x2="209.8" y2="505.5" stroke="#3a3a3a" stroke-width="0.95"/>
<line x1="211.4" y1="498" x2="211.4" y2="505.5" stroke="#3a3a3a" stroke-width="0.95"/>
<line x1="212.2" y1="498" x2="212.2" y2="505.5" stroke="#3a3a3a" stroke-width="0.95"/>
<line x1="214.7" y1="498" x2="214.7" y2="505.5" stroke="#3a3a3a" stroke-width="0.95"/>
<line x1="216.1" y1="498" x2="216.1" y2="505.5" stroke="#3a3a3a" stroke-width="0.95"/>
<line x1="217.6" y1="498" x2="217.6" y2="505.5" stroke="#3a3a3a" stroke-width="0.95"/>
<line x1="221.4" y1="498" x2="221.4" y2="505.5" stroke="#3a3a3a" stroke-width="0.95"/>
<line x1="223.9" y1="498" x2="223.9" y2="505.5" stroke="#3a3a3a" stroke-width="0.95"/>
<line x1="226.0" y1="498" x2="226.0" y2="505.5" stroke="#3a3a3a" stroke-width="0.95"/>
<line x1="228.1" y1="498" x2="228.1" y2="505.5" stroke="#3a3a3a" stroke-width="0.95"/>
<line x1="229.5" y1="498" x2="229.5" y2="505.5" stroke="#3a3a3a" stroke-width="0.95"/>
<line x1="231.0" y1="498" x2="231.0" y2="505.5" stroke="#3a3a3a" stroke-width="0.95"/>
<line x1="232.2" y1="498" x2="232.2" y2="505.5" stroke="#3a3a3a" stroke-width="0.95"/>
<line x1="234.1" y1="498" x2="234.1" y2="505.5" stroke="#3a3a3a" stroke-width="0.95"/>
<line x1="237.5" y1="498" x2="237.5" y2="505.5" stroke="#3a3a3a" stroke-width="0.95"/>
<line x1="239.1" y1="498" x2="239.1" y2="505.5" stroke="#3a3a3a" stroke-width="0.95"/>
<line x1="241.2" y1="498" x2="241.2" y2="505.5" stroke="#3a3a3a" stroke-width="0.95"/>
<line x1="242.2" y1="498" x2="242.2" y2="505.5" stroke="#3a3a3a" stroke-width="0.95"/>
<line x1="244.4" y1="498" x2="244.4" y2="505.5" stroke="#3a3a3a" stroke-width="0.95"/>
<line x1="245.7" y1="498" x2="245.7" y2="505.5" stroke="#3a3a3a" stroke-width="0.95"/>
<line x1="247.2" y1="498" x2="247.2" y2="505.5" stroke="#3a3a3a" stroke-width="0.95"/>
<line x1="249.3" y1="498" x2="249.3" y2="505.5" stroke="#3a3a3a" stroke-width="0.95"/>
<line x1="253.1" y1="498" x2="253.1" y2="505.5" stroke="#3a3a3a" stroke-width="0.95"/>
<line x1="254.1" y1="498" x2="254.1" y2="505.5" stroke="#3a3a3a" stroke-width="0.95"/>
<line x1="256.5" y1="498" x2="256.5" y2="505.5" stroke="#3a3a3a" stroke-width="0.95"/>
<line x1="265.0" y1="498" x2="265.0" y2="505.5" stroke="#3a3a3a" stroke-width="0.95"/>
<line x1="321.8" y1="498" x2="321.8" y2="505.5" stroke="#3a3a3a" stroke-width="0.95"/>
<line x1="323.8" y1="498" x2="323.8" y2="505.5" stroke="#3a3a3a" stroke-width="0.95"/>
<line x1="325.5" y1="498" x2="325.5" y2="505.5" stroke="#3a3a3a" stroke-width="0.95"/>
<line x1="327.6" y1="498" x2="327.6" y2="505.5" stroke="#3a3a3a" stroke-width="0.95"/>
<line x1="330.5" y1="498" x2="330.5" y2="505.5" stroke="#3a3a3a" stroke-width="0.95"/>
<line x1="338.0" y1="498" x2="338.0" y2="505.5" stroke="#3a3a3a" stroke-width="0.95"/>
<line x1="347.4" y1="498" x2="347.4" y2="505.5" stroke="#3a3a3a" stroke-width="0.95"/>
<line x1="356.5" y1="498" x2="356.5" y2="505.5" stroke="#3a3a3a" stroke-width="0.95"/>
<line x1="357.8" y1="498" x2="357.8" y2="505.5" stroke="#3a3a3a" stroke-width="0.95"/>
<line x1="359.8" y1="498" x2="359.8" y2="505.5" stroke="#3a3a3a" stroke-width="0.95"/>
<line x1="360.9" y1="498" x2="360.9" y2="505.5" stroke="#3a3a3a" stroke-width="0.95"/>
<line x1="364.5" y1="498" x2="364.5" y2="505.5" stroke="#3a3a3a" stroke-width="0.95"/>
<line x1="365.4" y1="498" x2="365.4" y2="505.5" stroke="#3a3a3a" stroke-width="0.95"/>
<line x1="367.0" y1="498" x2="367.0" y2="505.5" stroke="#3a3a3a" stroke-width="0.95"/>
<line x1="369.9" y1="498" x2="369.9" y2="505.5" stroke="#3a3a3a" stroke-width="0.95"/>
<line x1="371.7" y1="498" x2="371.7" y2="505.5" stroke="#3a3a3a" stroke-width="0.95"/>
<line x1="373.7" y1="498" x2="373.7" y2="505.5" stroke="#3a3a3a" stroke-width="0.95"/>
<line x1="374.7" y1="498" x2="374.7" y2="505.5" stroke="#3a3a3a" stroke-width="0.95"/>
<line x1="376.7" y1="498" x2="376.7" y2="505.5" stroke="#3a3a3a" stroke-width="0.95"/>
<line x1="377.4" y1="498" x2="377.4" y2="505.5" stroke="#3a3a3a" stroke-width="0.95"/>
<line x1="379.2" y1="498" x2="379.2" y2="505.5" stroke="#3a3a3a" stroke-width="0.95"/>
<line x1="381.2" y1="498" x2="381.2" y2="505.5" stroke="#3a3a3a" stroke-width="0.95"/>
<line x1="382.8" y1="498" x2="382.8" y2="505.5" stroke="#3a3a3a" stroke-width="0.95"/>
<line x1="385.1" y1="498" x2="385.1" y2="505.5" stroke="#3a3a3a" stroke-width="0.95"/>
<line x1="388.0" y1="498" x2="388.0" y2="505.5" stroke="#3a3a3a" stroke-width="0.95"/>
<line x1="389.8" y1="498" x2="389.8" y2="505.5" stroke="#3a3a3a" stroke-width="0.95"/>
<line x1="391.3" y1="498" x2="391.3" y2="505.5" stroke="#3a3a3a" stroke-width="0.95"/>
<line x1="392.5" y1="498" x2="392.5" y2="505.5" stroke="#3a3a3a" stroke-width="0.95"/>
<line x1="394.3" y1="498" x2="394.3" y2="505.5" stroke="#3a3a3a" stroke-width="0.95"/>
<line x1="397.9" y1="498" x2="397.9" y2="505.5" stroke="#3a3a3a" stroke-width="0.95"/>
<line x1="398.9" y1="498" x2="398.9" y2="505.5" stroke="#3a3a3a" stroke-width="0.95"/>
<line x1="400.8" y1="498" x2="400.8" y2="505.5" stroke="#3a3a3a" stroke-width="0.95"/>
<line x1="401.6" y1="498" x2="401.6" y2="505.5" stroke="#3a3a3a" stroke-width="0.95"/>
<line x1="403.4" y1="498" x2="403.4" y2="505.5" stroke="#3a3a3a" stroke-width="0.95"/>
<line x1="406.5" y1="498" x2="406.5" y2="505.5" stroke="#3a3a3a" stroke-width="0.95"/>
<line x1="407.7" y1="498" x2="407.7" y2="505.5" stroke="#3a3a3a" stroke-width="0.95"/>
<line x1="409.9" y1="498" x2="409.9" y2="505.5" stroke="#3a3a3a" stroke-width="0.95"/>
<line x1="410.7" y1="498" x2="410.7" y2="505.5" stroke="#3a3a3a" stroke-width="0.95"/>
<line x1="412.2" y1="498" x2="412.2" y2="505.5" stroke="#3a3a3a" stroke-width="0.95"/>
<line x1="415.9" y1="498" x2="415.9" y2="505.5" stroke="#3a3a3a" stroke-width="0.95"/>
<line x1="417.0" y1="498" x2="417.0" y2="505.5" stroke="#3a3a3a" stroke-width="0.95"/>
<line x1="419.1" y1="498" x2="419.1" y2="505.5" stroke="#3a3a3a" stroke-width="0.95"/>
<line x1="420.0" y1="498" x2="420.0" y2="505.5" stroke="#3a3a3a" stroke-width="0.95"/>
<line x1="421.6" y1="498" x2="421.6" y2="505.5" stroke="#3a3a3a" stroke-width="0.95"/>
<line x1="422.8" y1="498" x2="422.8" y2="505.5" stroke="#3a3a3a" stroke-width="0.95"/>
<line x1="425.1" y1="498" x2="425.1" y2="505.5" stroke="#3a3a3a" stroke-width="0.95"/>
<line x1="426.7" y1="498" x2="426.7" y2="505.5" stroke="#3a3a3a" stroke-width="0.95"/>
<line x1="427.6" y1="498" x2="427.6" y2="505.5" stroke="#3a3a3a" stroke-width="0.95"/>
<line x1="429.7" y1="498" x2="429.7" y2="505.5" stroke="#3a3a3a" stroke-width="0.95"/>
<line x1="432.1" y1="498" x2="432.1" y2="505.5" stroke="#3a3a3a" stroke-width="0.95"/>
<line x1="433.8" y1="498" x2="433.8" y2="505.5" stroke="#3a3a3a" stroke-width="0.95"/>
<line x1="437.2" y1="498" x2="437.2" y2="505.5" stroke="#3a3a3a" stroke-width="0.95"/>
<line x1="438.7" y1="498" x2="438.7" y2="505.5" stroke="#3a3a3a" stroke-width="0.95"/>
<line x1="440.0" y1="498" x2="440.0" y2="505.5" stroke="#3a3a3a" stroke-width="0.95"/>
<line x1="441.3" y1="498" x2="441.3" y2="505.5" stroke="#3a3a3a" stroke-width="0.95"/>
<line x1="443.2" y1="498" x2="443.2" y2="505.5" stroke="#3a3a3a" stroke-width="0.95"/>
<line x1="444.2" y1="498" x2="444.2" y2="505.5" stroke="#3a3a3a" stroke-width="0.95"/>
<line x1="445.7" y1="498" x2="445.7" y2="505.5" stroke="#3a3a3a" stroke-width="0.95"/>
<line x1="447.1" y1="498" x2="447.1" y2="505.5" stroke="#3a3a3a" stroke-width="0.95"/>
<line x1="448.8" y1="498" x2="448.8" y2="505.5" stroke="#3a3a3a" stroke-width="0.95"/>
<line x1="452.7" y1="498" x2="452.7" y2="505.5" stroke="#3a3a3a" stroke-width="0.95"/>
<line x1="457.0" y1="498" x2="457.0" y2="505.5" stroke="#3a3a3a" stroke-width="0.95"/>
<line x1="459.7" y1="498" x2="459.7" y2="505.5" stroke="#3a3a3a" stroke-width="0.95"/>
<line x1="466.6" y1="498" x2="466.6" y2="505.5" stroke="#3a3a3a" stroke-width="0.95"/>
<line x1="468.0" y1="498" x2="468.0" y2="505.5" stroke="#3a3a3a" stroke-width="0.95"/>
<line x1="470.0" y1="498" x2="470.0" y2="505.5" stroke="#3a3a3a" stroke-width="0.95"/>
<line x1="472.0" y1="498" x2="472.0" y2="505.5" stroke="#3a3a3a" stroke-width="0.95"/>
<rect x="54.5" y="518" width="417.8" height="167" fill="none" stroke="#aaa" stroke-width="1"/>
<line x1="49.8" y1="678.0" x2="54.5" y2="678.0" stroke="#777" stroke-width="1"/>
<text x="44.6" y="681.2" text-anchor="end" font-family='"Liberation Sans", sans-serif' font-size="9" fill="#555">0</text>
<line x1="49.8" y1="648.5" x2="54.5" y2="648.5" stroke="#777" stroke-width="1"/>
<text x="44.6" y="651.7" text-anchor="end" font-family='"Liberation Sans", sans-serif' font-size="9" fill="#555">2</text>
<line x1="49.8" y1="619.0" x2="54.5" y2="619.0" stroke="#777" stroke-width="1"/>
<text x="44.6" y="622.2" text-anchor="end" font-family='"Liberation Sans", sans-serif' font-size="9" fill="#555">4</text>
<line x1="49.8" y1="589.5" x2="54.5" y2="589.5" stroke="#777" stroke-width="1"/>
<text x="44.6" y="592.7" text-anchor="end" font-family='"Liberation Sans", sans-serif' font-size="9" fill="#555">6</text>
<line x1="49.8" y1="560.0" x2="54.5" y2="560.0" stroke="#777" stroke-width="1"/>
<text x="44.6" y="563.2" text-anchor="end" font-family='"Liberation Sans", sans-serif' font-size="9" fill="#555">8</text>
<line x1="49.8" y1="530.5" x2="54.5" y2="530.5" stroke="#777" stroke-width="1"/>
<text x="44.6" y="533.7" text-anchor="end" font-family='"Liberation Sans", sans-serif' font-size="9" fill="#555">10</text>
<line x1="472.3" y1="518" x2="472.3" y2="685" stroke="#8a8aa0" stroke-width="1"/>
<line x1="472.3" y1="677.8" x2="478.5" y2="677.8" stroke="#8a8aa0" stroke-width="1"/>
<text x="483" y="681.0" font-family='"Liberation Sans", sans-serif' font-size="9" fill="#777790">0</text>
<line x1="472.3" y1="647.3" x2="478.5" y2="647.3" stroke="#8a8aa0" stroke-width="1"/>
<text x="483" y="650.5" font-family='"Liberation Sans", sans-serif' font-size="9" fill="#777790">20</text>
<line x1="472.3" y1="616.8" x2="478.5" y2="616.8" stroke="#8a8aa0" stroke-width="1"/>
<text x="483" y="620.0" font-family='"Liberation Sans", sans-serif' font-size="9" fill="#777790">40</text>
<line x1="472.3" y1="586.3" x2="478.5" y2="586.3" stroke="#8a8aa0" stroke-width="1"/>
<text x="483" y="589.5" font-family='"Liberation Sans", sans-serif' font-size="9" fill="#777790">60</text>
<line x1="472.3" y1="555.8" x2="478.5" y2="555.8" stroke="#8a8aa0" stroke-width="1"/>
<text x="483" y="559.0" font-family='"Liberation Sans", sans-serif' font-size="9" fill="#777790">80</text>
<line x1="472.3" y1="525.3" x2="478.5" y2="525.3" stroke="#8a8aa0" stroke-width="1"/>
<text x="483" y="528.5" font-family='"Liberation Sans", sans-serif' font-size="9" fill="#777790">100</text>
<text transform="translate(7.5,629.4) rotate(90)" text-anchor="middle" font-family='"Liberation Sans", sans-serif' font-weight="bold" font-size="15.6" fill="#111">-log10(P)</text>
<text transform="translate(505.5,667.3) rotate(90)" text-anchor="middle" font-family='"Liberation Sans", sans-serif' font-weight="bold" font-size="15.4" fill="#111">Recombination Rate (cM/Mb)</text>
<line x1="54.5" y1="569.5" x2="472.3" y2="569.5" stroke="#222" stroke-width="1.1" stroke-dasharray="3.5,2.3"/>
<polyline fill="none" stroke="#5d6a9c" stroke-width="1.1" points="54.5,677.5 60,676.5 90,673 95,672.5 96,670 100,670 101,673 140,672 155,675 165,673 169,672 170.4,655 171.2,672 175,670 180,676 198,675 199,660 200,676 210,674 216.8,676 217.3,660 217.8,676 228,677 235,672 237,660 238,676 245,672 250,677 257,676 262,676 265,672 267,676 270,677.5 320,677.5 330,676 331.6,672 333,677 350,677.5 358,676 369.5,676 369.8,622 370.2,676 383.2,676 383.4,650 383.7,676 394,676 394.2,650 394.5,676 420,675 440,676 460.9,676 461.2,575 461.6,676 472,677"/>
<circle cx="62.2" cy="622.0" r="3" fill="#272b5c" stroke="#141630" stroke-width="0.7"/>
<circle cx="95.8" cy="622.9" r="3" fill="#272b5c" stroke="#141630" stroke-width="0.7"/>
<circle cx="97.9" cy="631.0" r="3" fill="#272b5c" stroke="#141630" stroke-width="0.7"/>
<circle cx="100.5" cy="630.2" r="3" fill="#272b5c" stroke="#141630" stroke-width="0.7"/>
<circle cx="112.2" cy="619.4" r="3" fill="#272b5c" stroke="#141630" stroke-width="0.7"/>
<circle cx="115.8" cy="622.9" r="3" fill="#272b5c" stroke="#141630" stroke-width="0.7"/>
<circle cx="119.3" cy="642.9" r="3" fill="#272b5c" stroke="#141630" stroke-width="0.7"/>
<circle cx="109.5" cy="651.4" r="3" fill="#272b5c" stroke="#141630" stroke-width="0.7"/>
<circle cx="106.0" cy="663.3" r="3" fill="#272b5c" stroke="#141630" stroke-width="0.7"/>
<circle cx="135.2" cy="665.3" r="3" fill="#272b5c" stroke="#141630" stroke-width="0.7"/>
<circle cx="60.1" cy="654.7" r="3" fill="#272b5c" stroke="#141630" stroke-width="0.7"/>
<circle cx="60.1" cy="663.3" r="3" fill="#272b5c" stroke="#141630" stroke-width="0.7"/>
<circle cx="57.0" cy="659.0" r="3" fill="#272b5c" stroke="#141630" stroke-width="0.7"/>
<circle cx="57.0" cy="667.3" r="3" fill="#272b5c" stroke="#141630" stroke-width="0.7"/>
<circle cx="57.0" cy="673.5" r="3" fill="#272b5c" stroke="#141630" stroke-width="0.7"/>
<circle cx="62.2" cy="675.5" r="3" fill="#272b5c" stroke="#141630" stroke-width="0.7"/>
<circle cx="92.8" cy="670.4" r="3" fill="#272b5c" stroke="#141630" stroke-width="0.7"/>
<circle cx="96.9" cy="671.4" r="3" fill="#272b5c" stroke="#141630" stroke-width="0.7"/>
<circle cx="107.0" cy="671.0" r="3" fill="#272b5c" stroke="#141630" stroke-width="0.7"/>
<circle cx="108.0" cy="673.5" r="3" fill="#272b5c" stroke="#141630" stroke-width="0.7"/>
<circle cx="104.0" cy="677.0" r="3" fill="#272b5c" stroke="#141630" stroke-width="0.7"/>
<circle cx="116.8" cy="675.5" r="3" fill="#272b5c" stroke="#141630" stroke-width="0.7"/>
<circle cx="136.6" cy="677.0" r="3" fill="#272b5c" stroke="#141630" stroke-width="0.7"/>
<circle cx="143.8" cy="677.0" r="3" fill="#272b5c" stroke="#141630" stroke-width="0.7"/>
<circle cx="145.4" cy="672.4" r="3" fill="#272b5c" stroke="#141630" stroke-width="0.7"/>
<circle cx="156.0" cy="675.5" r="3" fill="#272b5c" stroke="#141630" stroke-width="0.7"/>
<circle cx="141.8" cy="604.0" r="3" fill="#272b5c" stroke="#141630" stroke-width="0.7"/>
<circle cx="147.9" cy="603.0" r="3" fill="#272b5c" stroke="#141630" stroke-width="0.7"/>
<circle cx="148.9" cy="604.0" r="3" fill="#272b5c" stroke="#141630" stroke-width="0.7"/>
<circle cx="147.9" cy="612.7" r="3" fill="#272b5c" stroke="#141630" stroke-width="0.7"/>
<circle cx="152.0" cy="616.3" r="3" fill="#272b5c" stroke="#141630" stroke-width="0.7"/>
<circle cx="146.9" cy="620.4" r="3" fill="#272b5c" stroke="#141630" stroke-width="0.7"/>
<circle cx="153.0" cy="619.4" r="3" fill="#272b5c" stroke="#141630" stroke-width="0.7"/>
<circle cx="158.0" cy="627.5" r="3" fill="#272b5c" stroke="#141630" stroke-width="0.7"/>
<circle cx="152.0" cy="638.4" r="3" fill="#272b5c" stroke="#141630" stroke-width="0.7"/>
<circle cx="157.0" cy="642.9" r="3" fill="#272b5c" stroke="#141630" stroke-width="0.7"/>
<circle cx="154.0" cy="648.0" r="3" fill="#272b5c" stroke="#141630" stroke-width="0.7"/>
<circle cx="155.6" cy="650.0" r="3" fill="#272b5c" stroke="#141630" stroke-width="0.7"/>
<circle cx="172.9" cy="602.0" r="3" fill="#272b5c" stroke="#141630" stroke-width="0.7"/>
<circle cx="227.1" cy="606.5" r="3" fill="#272b5c" stroke="#141630" stroke-width="0.7"/>
<circle cx="241.8" cy="611.8" r="3" fill="#272b5c" stroke="#141630" stroke-width="0.7"/>
<circle cx="246.9" cy="609.2" r="3" fill="#272b5c" stroke="#141630" stroke-width="0.7"/>
<circle cx="248.4" cy="613.9" r="3" fill="#272b5c" stroke="#141630" stroke-width="0.7"/>
<circle cx="152.0" cy="615.3" r="3" fill="#272b5c" stroke="#141630" stroke-width="0.7"/>
<circle cx="153.0" cy="619.4" r="3" fill="#272b5c" stroke="#141630" stroke-width="0.7"/>
<circle cx="164.3" cy="618.4" r="3" fill="#272b5c" stroke="#141630" stroke-width="0.7"/>
<circle cx="174.5" cy="619.4" r="3" fill="#272b5c" stroke="#141630" stroke-width="0.7"/>
<circle cx="175.5" cy="624.5" r="3" fill="#272b5c" stroke="#141630" stroke-width="0.7"/>
<circle cx="159.2" cy="626.5" r="3" fill="#272b5c" stroke="#141630" stroke-width="0.7"/>
<circle cx="164.3" cy="625.5" r="3" fill="#272b5c" stroke="#141630" stroke-width="0.7"/>
<circle cx="173.5" cy="626.5" r="3" fill="#272b5c" stroke="#141630" stroke-width="0.7"/>
<circle cx="190.8" cy="626.5" r="3" fill="#272b5c" stroke="#141630" stroke-width="0.7"/>
<circle cx="199.0" cy="626.5" r="3" fill="#272b5c" stroke="#141630" stroke-width="0.7"/>
<circle cx="205.0" cy="620.4" r="3" fill="#272b5c" stroke="#141630" stroke-width="0.7"/>
<circle cx="207.0" cy="623.5" r="3" fill="#272b5c" stroke="#141630" stroke-width="0.7"/>
<circle cx="211.0" cy="625.5" r="3" fill="#272b5c" stroke="#141630" stroke-width="0.7"/>
<circle cx="215.3" cy="625.5" r="3" fill="#272b5c" stroke="#141630" stroke-width="0.7"/>
<circle cx="224.5" cy="629.6" r="3" fill="#272b5c" stroke="#141630" stroke-width="0.7"/>
<circle cx="228.6" cy="631.6" r="3" fill="#272b5c" stroke="#141630" stroke-width="0.7"/>
<circle cx="225.5" cy="635.7" r="3" fill="#272b5c" stroke="#141630" stroke-width="0.7"/>
<circle cx="211.2" cy="637.8" r="3" fill="#272b5c" stroke="#141630" stroke-width="0.7"/>
<circle cx="216.3" cy="636.7" r="3" fill="#272b5c" stroke="#141630" stroke-width="0.7"/>
<circle cx="152.0" cy="638.8" r="3" fill="#272b5c" stroke="#141630" stroke-width="0.7"/>
<circle cx="168.4" cy="637.8" r="3" fill="#272b5c" stroke="#141630" stroke-width="0.7"/>
<circle cx="158.2" cy="642.9" r="3" fill="#272b5c" stroke="#141630" stroke-width="0.7"/>
<circle cx="154.0" cy="648.0" r="3" fill="#272b5c" stroke="#141630" stroke-width="0.7"/>
<circle cx="155.0" cy="650.0" r="3" fill="#272b5c" stroke="#141630" stroke-width="0.7"/>
<circle cx="164.3" cy="647.0" r="3" fill="#272b5c" stroke="#141630" stroke-width="0.7"/>
<circle cx="168.4" cy="646.0" r="3" fill="#272b5c" stroke="#141630" stroke-width="0.7"/>
<circle cx="203.0" cy="641.8" r="3" fill="#272b5c" stroke="#141630" stroke-width="0.7"/>
<circle cx="206.0" cy="643.9" r="3" fill="#272b5c" stroke="#141630" stroke-width="0.7"/>
<circle cx="210.2" cy="649.0" r="3" fill="#272b5c" stroke="#141630" stroke-width="0.7"/>
<circle cx="223.5" cy="643.9" r="3" fill="#272b5c" stroke="#141630" stroke-width="0.7"/>
<circle cx="226.5" cy="649.0" r="3" fill="#272b5c" stroke="#141630" stroke-width="0.7"/>
<circle cx="225.5" cy="654.0" r="3" fill="#272b5c" stroke="#141630" stroke-width="0.7"/>
<circle cx="181.6" cy="649.0" r="3" fill="#272b5c" stroke="#141630" stroke-width="0.7"/>
<circle cx="186.7" cy="653.0" r="3" fill="#272b5c" stroke="#141630" stroke-width="0.7"/>
<circle cx="192.9" cy="654.0" r="3" fill="#272b5c" stroke="#141630" stroke-width="0.7"/>
<circle cx="199.0" cy="655.0" r="3" fill="#272b5c" stroke="#141630" stroke-width="0.7"/>
<circle cx="202.0" cy="654.0" r="3" fill="#272b5c" stroke="#141630" stroke-width="0.7"/>
<circle cx="233.7" cy="648.0" r="3" fill="#272b5c" stroke="#141630" stroke-width="0.7"/>
<circle cx="235.7" cy="644.5" r="3" fill="#272b5c" stroke="#141630" stroke-width="0.7"/>
<circle cx="240.8" cy="647.0" r="3" fill="#272b5c" stroke="#141630" stroke-width="0.7"/>
<circle cx="242.9" cy="646.0" r="3" fill="#272b5c" stroke="#141630" stroke-width="0.7"/>
<circle cx="251.0" cy="631.6" r="3" fill="#272b5c" stroke="#141630" stroke-width="0.7"/>
<circle cx="252.0" cy="636.7" r="3" fill="#272b5c" stroke="#141630" stroke-width="0.7"/>
<circle cx="253.0" cy="640.8" r="3" fill="#272b5c" stroke="#141630" stroke-width="0.7"/>
<circle cx="197.0" cy="665.3" r="3" fill="#272b5c" stroke="#141630" stroke-width="0.7"/>
<circle cx="209.2" cy="663.3" r="3" fill="#272b5c" stroke="#141630" stroke-width="0.7"/>
<circle cx="233.7" cy="659.2" r="3" fill="#272b5c" stroke="#141630" stroke-width="0.7"/>
<circle cx="237.8" cy="661.2" r="3" fill="#272b5c" stroke="#141630" stroke-width="0.7"/>
<circle cx="158.0" cy="661.0" r="3" fill="#272b5c" stroke="#141630" stroke-width="0.7"/>
<circle cx="162.0" cy="663.0" r="3" fill="#272b5c" stroke="#141630" stroke-width="0.7"/>
<circle cx="166.0" cy="665.0" r="3" fill="#272b5c" stroke="#141630" stroke-width="0.7"/>
<circle cx="170.0" cy="663.0" r="3" fill="#272b5c" stroke="#141630" stroke-width="0.7"/>
<circle cx="172.5" cy="667.0" r="3" fill="#272b5c" stroke="#141630" stroke-width="0.7"/>
<circle cx="205.0" cy="673.5" r="3" fill="#272b5c" stroke="#141630" stroke-width="0.7"/>
<circle cx="208.0" cy="675.5" r="3" fill="#272b5c" stroke="#141630" stroke-width="0.7"/>
<circle cx="231.6" cy="671.4" r="3" fill="#272b5c" stroke="#141630" stroke-width="0.7"/>
<circle cx="235.7" cy="675.5" r="3" fill="#272b5c" stroke="#141630" stroke-width="0.7"/>
<circle cx="239.8" cy="677.6" r="3" fill="#272b5c" stroke="#141630" stroke-width="0.7"/>
<circle cx="245.0" cy="676.5" r="3" fill="#272b5c" stroke="#141630" stroke-width="0.7"/>
<circle cx="227.5" cy="675.5" r="3" fill="#272b5c" stroke="#141630" stroke-width="0.7"/>
<circle cx="244.9" cy="665.3" r="3" fill="#272b5c" stroke="#141630" stroke-width="0.7"/>
<circle cx="246.0" cy="667.3" r="3" fill="#272b5c" stroke="#141630" stroke-width="0.7"/>
<circle cx="257.1" cy="606.1" r="3" fill="#272b5c" stroke="#141630" stroke-width="0.7"/>
<circle cx="254.0" cy="630.6" r="3" fill="#272b5c" stroke="#141630" stroke-width="0.7"/>
<circle cx="256.0" cy="631.6" r="3" fill="#272b5c" stroke="#141630" stroke-width="0.7"/>
<circle cx="252.0" cy="635.7" r="3" fill="#272b5c" stroke="#141630" stroke-width="0.7"/>
<circle cx="254.0" cy="638.8" r="3" fill="#272b5c" stroke="#141630" stroke-width="0.7"/>
<circle cx="264.3" cy="651.0" r="3" fill="#272b5c" stroke="#141630" stroke-width="0.7"/>
<circle cx="264.3" cy="654.0" r="3" fill="#272b5c" stroke="#141630" stroke-width="0.7"/>
<circle cx="258.2" cy="660.2" r="3" fill="#272b5c" stroke="#141630" stroke-width="0.7"/>
<circle cx="331.6" cy="621.4" r="3" fill="#272b5c" stroke="#141630" stroke-width="0.7"/>
<circle cx="328.0" cy="648.6" r="3" fill="#272b5c" stroke="#141630" stroke-width="0.7"/>
<circle cx="331.6" cy="658.2" r="3" fill="#272b5c" stroke="#141630" stroke-width="0.7"/>
<circle cx="338.2" cy="660.2" r="3" fill="#272b5c" stroke="#141630" stroke-width="0.7"/>
<circle cx="326.5" cy="666.3" r="3" fill="#272b5c" stroke="#141630" stroke-width="0.7"/>
<circle cx="325.5" cy="669.4" r="3" fill="#272b5c" stroke="#141630" stroke-width="0.7"/>
<circle cx="359.5" cy="623.1" r="3" fill="#272b5c" stroke="#141630" stroke-width="0.7"/>
<circle cx="395.3" cy="635.8" r="3" fill="#272b5c" stroke="#141630" stroke-width="0.7"/>
<circle cx="395.3" cy="643.4" r="3" fill="#272b5c" stroke="#141630" stroke-width="0.7"/>
<circle cx="401.3" cy="641.8" r="3" fill="#272b5c" stroke="#141630" stroke-width="0.7"/>
<circle cx="385.8" cy="640.0" r="3" fill="#272b5c" stroke="#141630" stroke-width="0.7"/>
<circle cx="381.0" cy="644.2" r="3" fill="#272b5c" stroke="#141630" stroke-width="0.7"/>
<circle cx="377.4" cy="645.8" r="3" fill="#272b5c" stroke="#141630" stroke-width="0.7"/>
<circle cx="419.2" cy="637.7" r="3" fill="#272b5c" stroke="#141630" stroke-width="0.7"/>
<circle cx="413.2" cy="645.3" r="3" fill="#272b5c" stroke="#141630" stroke-width="0.7"/>
<circle cx="418.0" cy="647.7" r="3" fill="#272b5c" stroke="#141630" stroke-width="0.7"/>
<circle cx="359.5" cy="650.0" r="3" fill="#272b5c" stroke="#141630" stroke-width="0.7"/>
<circle cx="364.3" cy="651.3" r="3" fill="#272b5c" stroke="#141630" stroke-width="0.7"/>
<circle cx="369.1" cy="647.7" r="3" fill="#272b5c" stroke="#141630" stroke-width="0.7"/>
<circle cx="462.2" cy="639.4" r="3" fill="#272b5c" stroke="#141630" stroke-width="0.7"/>
<circle cx="467.0" cy="646.5" r="3" fill="#272b5c" stroke="#141630" stroke-width="0.7"/>
<circle cx="445.5" cy="654.4" r="3" fill="#272b5c" stroke="#141630" stroke-width="0.7"/>
<circle cx="431.0" cy="656.0" r="3" fill="#272b5c" stroke="#141630" stroke-width="0.7"/>
<circle cx="428.8" cy="657.3" r="3" fill="#272b5c" stroke="#141630" stroke-width="0.7"/>
<circle cx="130.4" cy="548.0" r="3" fill="#272b5c" stroke="#141630" stroke-width="0.7"/>
<circle cx="173.1" cy="601.6" r="3" fill="#272b5c" stroke="#141630" stroke-width="0.7"/>
<circle cx="143.6" cy="598.7" r="3" fill="#272b5c" stroke="#141630" stroke-width="0.7"/>
<circle cx="141.2" cy="604.8" r="3" fill="#272b5c" stroke="#141630" stroke-width="0.7"/>
<circle cx="149.6" cy="604.8" r="3" fill="#272b5c" stroke="#141630" stroke-width="0.7"/>
<circle cx="146.0" cy="602.4" r="3" fill="#272b5c" stroke="#141630" stroke-width="0.7"/>
<circle cx="147.2" cy="612.0" r="3" fill="#272b5c" stroke="#141630" stroke-width="0.7"/>
<circle cx="150.9" cy="616.2" r="3" fill="#272b5c" stroke="#141630" stroke-width="0.7"/>
<circle cx="152.8" cy="618.1" r="3" fill="#272b5c" stroke="#141630" stroke-width="0.7"/>
<circle cx="147.2" cy="621.7" r="3" fill="#272b5c" stroke="#141630" stroke-width="0.7"/>
<circle cx="146.0" cy="620.5" r="3" fill="#272b5c" stroke="#141630" stroke-width="0.7"/>
<circle cx="164.2" cy="618.1" r="3" fill="#272b5c" stroke="#141630" stroke-width="0.7"/>
<circle cx="159.3" cy="627.3" r="3" fill="#272b5c" stroke="#141630" stroke-width="0.7"/>
<circle cx="164.2" cy="625.9" r="3" fill="#272b5c" stroke="#141630" stroke-width="0.7"/>
<circle cx="175.0" cy="619.3" r="3" fill="#272b5c" stroke="#141630" stroke-width="0.7"/>
<circle cx="173.9" cy="626.6" r="3" fill="#272b5c" stroke="#141630" stroke-width="0.7"/>
<circle cx="177.5" cy="625.4" r="3" fill="#272b5c" stroke="#141630" stroke-width="0.7"/>
<circle cx="152.0" cy="638.0" r="3" fill="#272b5c" stroke="#141630" stroke-width="0.7"/>
<circle cx="167.8" cy="637.5" r="3" fill="#272b5c" stroke="#141630" stroke-width="0.7"/>
<circle cx="245.4" cy="541.8" r="3" fill="#272b5c" stroke="#141630" stroke-width="0.7"/>
<circle cx="245.4" cy="546.9" r="3" fill="#272b5c" stroke="#141630" stroke-width="0.7"/>
<circle cx="255.8" cy="571.6" r="3" fill="#272b5c" stroke="#141630" stroke-width="0.7"/>
<circle cx="251.9" cy="574.6" r="3" fill="#272b5c" stroke="#141630" stroke-width="0.7"/>
<circle cx="254.0" cy="574.0" r="3" fill="#272b5c" stroke="#141630" stroke-width="0.7"/>
<circle cx="251.1" cy="574.4" r="3" fill="#272b5c" stroke="#141630" stroke-width="0.7"/>
<circle cx="254.7" cy="572.9" r="3" fill="#272b5c" stroke="#141630" stroke-width="0.7"/>
<circle cx="227.0" cy="605.3" r="3" fill="#272b5c" stroke="#141630" stroke-width="0.7"/>
<circle cx="257.0" cy="605.3" r="3" fill="#272b5c" stroke="#141630" stroke-width="0.7"/>
<circle cx="324.5" cy="568.3" r="3" fill="#272b5c" stroke="#141630" stroke-width="0.7"/>
<circle cx="413.2" cy="593.7" r="3" fill="#272b5c" stroke="#141630" stroke-width="0.7"/>
<circle cx="364.7" cy="605.0" r="3" fill="#272b5c" stroke="#141630" stroke-width="0.7"/>
<circle cx="172.9" cy="601.5" r="3" fill="#272b5c" stroke="#141630" stroke-width="0.7"/>
<circle cx="256.7" cy="606.3" r="3" fill="#272b5c" stroke="#141630" stroke-width="0.7"/>
<circle cx="227.1" cy="606.3" r="3" fill="#272b5c" stroke="#141630" stroke-width="0.7"/>
<circle cx="241.4" cy="611.6" r="3" fill="#272b5c" stroke="#141630" stroke-width="0.7"/>
<circle cx="246.3" cy="608.7" r="3" fill="#272b5c" stroke="#141630" stroke-width="0.7"/>
<circle cx="247.5" cy="613.6" r="3" fill="#272b5c" stroke="#141630" stroke-width="0.7"/>
<circle cx="174.8" cy="619.6" r="3" fill="#272b5c" stroke="#141630" stroke-width="0.7"/>
<circle cx="173.6" cy="626.2" r="3" fill="#272b5c" stroke="#141630" stroke-width="0.7"/>
<circle cx="176.0" cy="625.7" r="3" fill="#272b5c" stroke="#141630" stroke-width="0.7"/>
<circle cx="191.3" cy="626.9" r="3" fill="#272b5c" stroke="#141630" stroke-width="0.7"/>
<circle cx="199.0" cy="626.9" r="3" fill="#272b5c" stroke="#141630" stroke-width="0.7"/>
<circle cx="205.1" cy="620.8" r="3" fill="#272b5c" stroke="#141630" stroke-width="0.7"/>
<circle cx="206.3" cy="624.5" r="3" fill="#272b5c" stroke="#141630" stroke-width="0.7"/>
<circle cx="210.0" cy="626.2" r="3" fill="#272b5c" stroke="#141630" stroke-width="0.7"/>
<circle cx="214.8" cy="625.2" r="3" fill="#272b5c" stroke="#141630" stroke-width="0.7"/>
<circle cx="224.5" cy="630.0" r="3" fill="#272b5c" stroke="#141630" stroke-width="0.7"/>
<circle cx="228.1" cy="631.7" r="3" fill="#272b5c" stroke="#141630" stroke-width="0.7"/>
<circle cx="225.7" cy="635.4" r="3" fill="#272b5c" stroke="#141630" stroke-width="0.7"/>
<circle cx="249.9" cy="631.7" r="3" fill="#272b5c" stroke="#141630" stroke-width="0.7"/>
<circle cx="254.7" cy="631.0" r="3" fill="#272b5c" stroke="#141630" stroke-width="0.7"/>
<circle cx="256.0" cy="634.9" r="3" fill="#272b5c" stroke="#141630" stroke-width="0.7"/>
<circle cx="252.3" cy="639.0" r="3" fill="#272b5c" stroke="#141630" stroke-width="0.7"/>
<circle cx="210.0" cy="637.8" r="3" fill="#272b5c" stroke="#141630" stroke-width="0.7"/>
<circle cx="216.0" cy="637.3" r="3" fill="#272b5c" stroke="#141630" stroke-width="0.7"/>
<circle cx="217.2" cy="635.9" r="3" fill="#272b5c" stroke="#141630" stroke-width="0.7"/>
<circle cx="202.7" cy="641.4" r="3" fill="#272b5c" stroke="#141630" stroke-width="0.7"/>
<circle cx="206.3" cy="643.1" r="3" fill="#272b5c" stroke="#141630" stroke-width="0.7"/>
<circle cx="224.5" cy="642.6" r="3" fill="#272b5c" stroke="#141630" stroke-width="0.7"/>
<circle cx="235.4" cy="645.0" r="3" fill="#272b5c" stroke="#141630" stroke-width="0.7"/>
<circle cx="241.4" cy="647.0" r="3" fill="#272b5c" stroke="#141630" stroke-width="0.7"/>
<circle cx="182.1" cy="648.0" r="3" fill="#272b5c" stroke="#141630" stroke-width="0.7"/>
<circle cx="210.0" cy="648.0" r="3" fill="#272b5c" stroke="#141630" stroke-width="0.7"/>
<circle cx="331.7" cy="621.3" r="3" fill="#272b5c" stroke="#141630" stroke-width="0.7"/>
<circle cx="359.3" cy="623.1" r="3" fill="#272b5c" stroke="#141630" stroke-width="0.7"/>
<circle cx="328.2" cy="647.8" r="3" fill="#272b5c" stroke="#141630" stroke-width="0.7"/>
<circle cx="378.3" cy="645.4" r="3" fill="#272b5c" stroke="#141630" stroke-width="0.7"/>
<circle cx="383.6" cy="640.8" r="3" fill="#272b5c" stroke="#141630" stroke-width="0.7"/>
<circle cx="387.2" cy="640.0" r="3" fill="#272b5c" stroke="#141630" stroke-width="0.7"/>
<circle cx="413.7" cy="645.4" r="3" fill="#272b5c" stroke="#141630" stroke-width="0.7"/>
<circle cx="419.0" cy="638.3" r="3" fill="#272b5c" stroke="#141630" stroke-width="0.7"/>
<circle cx="416.5" cy="641.8" r="3" fill="#272b5c" stroke="#141630" stroke-width="0.7"/>
<circle cx="462.4" cy="640.0" r="3" fill="#272b5c" stroke="#141630" stroke-width="0.7"/>
<circle cx="466.0" cy="646.4" r="3" fill="#272b5c" stroke="#141630" stroke-width="0.7"/>
<circle cx="106.0" cy="659.2" r="3" fill="#a8cbea" stroke="#4d6c92" stroke-width="0.7"/>
<circle cx="113.6" cy="658.0" r="3" fill="#a8cbea" stroke="#4d6c92" stroke-width="0.7"/>
<circle cx="114.2" cy="661.0" r="3" fill="#a8cbea" stroke="#4d6c92" stroke-width="0.7"/>
<circle cx="137.3" cy="660.8" r="3" fill="#a8cbea" stroke="#4d6c92" stroke-width="0.7"/>
<circle cx="146.2" cy="658.0" r="3" fill="#a8cbea" stroke="#4d6c92" stroke-width="0.7"/>
<circle cx="162.2" cy="655.0" r="3" fill="#a8cbea" stroke="#4d6c92" stroke-width="0.7"/>
<circle cx="191.8" cy="660.2" r="3" fill="#a8cbea" stroke="#4d6c92" stroke-width="0.7"/>
<circle cx="220.4" cy="665.3" r="3" fill="#a8cbea" stroke="#4d6c92" stroke-width="0.7"/>
<circle cx="232.7" cy="666.3" r="3" fill="#a8cbea" stroke="#4d6c92" stroke-width="0.7"/>
<circle cx="239.8" cy="673.5" r="3" fill="#a8cbea" stroke="#4d6c92" stroke-width="0.7"/>
<circle cx="216.3" cy="675.5" r="3" fill="#a8cbea" stroke="#4d6c92" stroke-width="0.7"/>
<circle cx="264.3" cy="643.9" r="3" fill="#a8cbea" stroke="#4d6c92" stroke-width="0.7"/>
<circle cx="253.0" cy="654.0" r="3" fill="#a8cbea" stroke="#4d6c92" stroke-width="0.7"/>
<circle cx="263.3" cy="662.2" r="3" fill="#a8cbea" stroke="#4d6c92" stroke-width="0.7"/>
<circle cx="264.3" cy="669.4" r="3" fill="#a8cbea" stroke="#4d6c92" stroke-width="0.7"/>
<circle cx="257.1" cy="674.5" r="3" fill="#a8cbea" stroke="#4d6c92" stroke-width="0.7"/>
<circle cx="323.0" cy="636.7" r="3" fill="#a8cbea" stroke="#4d6c92" stroke-width="0.7"/>
<circle cx="355.0" cy="665.3" r="3" fill="#a8cbea" stroke="#4d6c92" stroke-width="0.7"/>
<circle cx="359.0" cy="630.5" r="3" fill="#a8cbea" stroke="#4d6c92" stroke-width="0.7"/>
<circle cx="420.4" cy="659.7" r="3" fill="#a8cbea" stroke="#4d6c92" stroke-width="0.7"/>
<circle cx="404.9" cy="672.8" r="3" fill="#a8cbea" stroke="#4d6c92" stroke-width="0.7"/>
<circle cx="359.0" cy="658.0" r="3" fill="#a8cbea" stroke="#4d6c92" stroke-width="0.7"/>
<circle cx="357.2" cy="665.6" r="3" fill="#a8cbea" stroke="#4d6c92" stroke-width="0.7"/>
<circle cx="163.9" cy="591.9" r="3" fill="#a8cbea" stroke="#4d6c92" stroke-width="0.7"/>
<circle cx="173.1" cy="588.9" r="3" fill="#a8cbea" stroke="#4d6c92" stroke-width="0.7"/>
<circle cx="255.8" cy="591.9" r="3" fill="#a8cbea" stroke="#4d6c92" stroke-width="0.7"/>
<circle cx="172.9" cy="588.9" r="3" fill="#a8cbea" stroke="#4d6c92" stroke-width="0.7"/>
<circle cx="255.2" cy="591.8" r="3" fill="#a8cbea" stroke="#4d6c92" stroke-width="0.7"/>
<circle cx="322.5" cy="636.5" r="3" fill="#a8cbea" stroke="#4d6c92" stroke-width="0.7"/>
<circle cx="359.3" cy="630.5" r="3" fill="#a8cbea" stroke="#4d6c92" stroke-width="0.7"/>
<circle cx="176.5" cy="655.0" r="3" fill="#e8a432" stroke="#7a5212" stroke-width="0.7"/>
<circle cx="225.5" cy="663.3" r="3" fill="#e8a432" stroke="#7a5212" stroke-width="0.7"/>
<circle cx="329.6" cy="660.8" r="3" fill="#e8a432" stroke="#7a5212" stroke-width="0.7"/>
<circle cx="324.5" cy="675.1" r="3" fill="#e8a432" stroke="#7a5212" stroke-width="0.7"/>
<circle cx="209.6" cy="671.4" r="3" fill="#86b84e" stroke="#3d5c22" stroke-width="0.7"/>
<circle cx="220.4" cy="672.4" r="3" fill="#86b84e" stroke="#3d5c22" stroke-width="0.7"/>
<circle cx="225.5" cy="672.4" r="3" fill="#86b84e" stroke="#3d5c22" stroke-width="0.7"/>
<circle cx="243.9" cy="655.0" r="3" fill="#86b84e" stroke="#3d5c22" stroke-width="0.7"/>
<circle cx="247.6" cy="671.4" r="3" fill="#86b84e" stroke="#3d5c22" stroke-width="0.7"/>
<circle cx="252.0" cy="654.0" r="3" fill="#86b84e" stroke="#3d5c22" stroke-width="0.7"/>
<circle cx="255.7" cy="623.5" r="3" fill="#86b84e" stroke="#3d5c22" stroke-width="0.7"/>
<circle cx="254.0" cy="659.2" r="3" fill="#86b84e" stroke="#3d5c22" stroke-width="0.7"/>
<circle cx="257.1" cy="668.4" r="3" fill="#86b84e" stroke="#3d5c22" stroke-width="0.7"/>
<circle cx="337.8" cy="677.1" r="3" fill="#86b84e" stroke="#3d5c22" stroke-width="0.7"/>
<circle cx="365.5" cy="664.0" r="3" fill="#86b84e" stroke="#3d5c22" stroke-width="0.7"/>
<circle cx="369.1" cy="665.0" r="3" fill="#86b84e" stroke="#3d5c22" stroke-width="0.7"/>
<circle cx="255.2" cy="623.3" r="3" fill="#86b84e" stroke="#3d5c22" stroke-width="0.7"/>
<circle cx="204.0" cy="664.3" r="3" fill="#8c8c8c" stroke="#474747" stroke-width="0.7"/>
<circle cx="264.3" cy="600.0" r="3" fill="#8c8c8c" stroke="#474747" stroke-width="0.7"/>
<circle cx="258.2" cy="643.9" r="3" fill="#8c8c8c" stroke="#474747" stroke-width="0.7"/>
<circle cx="326.5" cy="654.0" r="3" fill="#8c8c8c" stroke="#474747" stroke-width="0.7"/>
<circle cx="347.0" cy="676.5" r="3" fill="#8c8c8c" stroke="#474747" stroke-width="0.7"/>
<circle cx="263.9" cy="599.3" r="3" fill="#8c8c8c" stroke="#474747" stroke-width="0.7"/>
<circle cx="264.4" cy="599.0" r="3" fill="#8c8c8c" stroke="#474747" stroke-width="0.7"/>
<circle cx="257.2" cy="643.8" r="3" fill="#8c8c8c" stroke="#474747" stroke-width="0.7"/>
<circle cx="323.6" cy="563.0" r="3" fill="#8c8c8c" stroke="#474747" stroke-width="0.7"/>
<circle cx="179.5" cy="676.6" r="3" fill="#272b5c" stroke="#141630" stroke-width="0.7"/>
<circle cx="179.7" cy="663.6" r="3" fill="#272b5c" stroke="#141630" stroke-width="0.7"/>
<circle cx="157.1" cy="660.0" r="3" fill="#272b5c" stroke="#141630" stroke-width="0.7"/>
<circle cx="167.5" cy="672.9" r="3" fill="#272b5c" stroke="#141630" stroke-width="0.7"/>
<circle cx="166.2" cy="662.9" r="3" fill="#272b5c" stroke="#141630" stroke-width="0.7"/>
<circle cx="165.4" cy="671.0" r="3" fill="#272b5c" stroke="#141630" stroke-width="0.7"/>
<circle cx="171.9" cy="673.7" r="3" fill="#272b5c" stroke="#141630" stroke-width="0.7"/>
<circle cx="176.2" cy="672.0" r="3" fill="#272b5c" stroke="#141630" stroke-width="0.7"/>
<circle cx="158.0" cy="675.7" r="3" fill="#272b5c" stroke="#141630" stroke-width="0.7"/>
<circle cx="162.3" cy="669.9" r="3" fill="#272b5c" stroke="#141630" stroke-width="0.7"/>
<circle cx="164.3" cy="673.5" r="3" fill="#272b5c" stroke="#141630" stroke-width="0.7"/>
<circle cx="160.0" cy="663.2" r="3" fill="#272b5c" stroke="#141630" stroke-width="0.7"/>
<circle cx="161.1" cy="661.2" r="3" fill="#272b5c" stroke="#141630" stroke-width="0.7"/>
<circle cx="177.1" cy="670.1" r="3" fill="#272b5c" stroke="#141630" stroke-width="0.7"/>
<circle cx="163.2" cy="666.3" r="3" fill="#272b5c" stroke="#141630" stroke-width="0.7"/>
<circle cx="179.8" cy="668.7" r="3" fill="#272b5c" stroke="#141630" stroke-width="0.7"/>
<circle cx="160.8" cy="675.0" r="3" fill="#272b5c" stroke="#141630" stroke-width="0.7"/>
<circle cx="171.3" cy="678.8" r="3" fill="#272b5c" stroke="#141630" stroke-width="0.7"/>
<circle cx="157.6" cy="668.0" r="3" fill="#272b5c" stroke="#141630" stroke-width="0.7"/>
<circle cx="175.5" cy="675.7" r="3" fill="#272b5c" stroke="#141630" stroke-width="0.7"/>
<circle cx="177.9" cy="658.8" r="3" fill="#272b5c" stroke="#141630" stroke-width="0.7"/>
<circle cx="162.3" cy="660.5" r="3" fill="#272b5c" stroke="#141630" stroke-width="0.7"/>
<circle cx="233.6" cy="678.4" r="3" fill="#272b5c" stroke="#141630" stroke-width="0.7"/>
<circle cx="263.2" cy="663.9" r="3" fill="#272b5c" stroke="#141630" stroke-width="0.7"/>
<circle cx="244.0" cy="661.2" r="3" fill="#272b5c" stroke="#141630" stroke-width="0.7"/>
<circle cx="263.8" cy="657.5" r="3" fill="#272b5c" stroke="#141630" stroke-width="0.7"/>
<circle cx="250.8" cy="660.2" r="3" fill="#272b5c" stroke="#141630" stroke-width="0.7"/>
<circle cx="231.7" cy="659.9" r="3" fill="#86b84e" stroke="#3d5c22" stroke-width="0.7"/>
<circle cx="250.0" cy="670.6" r="3" fill="#86b84e" stroke="#3d5c22" stroke-width="0.7"/>
<circle cx="226.5" cy="662.9" r="3" fill="#272b5c" stroke="#141630" stroke-width="0.7"/>
<circle cx="233.4" cy="662.5" r="3" fill="#86b84e" stroke="#3d5c22" stroke-width="0.7"/>
<circle cx="257.8" cy="668.2" r="3" fill="#a8cbea" stroke="#4d6c92" stroke-width="0.7"/>
<circle cx="230.1" cy="664.5" r="3" fill="#272b5c" stroke="#141630" stroke-width="0.7"/>
<circle cx="251.6" cy="657.2" r="3" fill="#a8cbea" stroke="#4d6c92" stroke-width="0.7"/>
<circle cx="253.8" cy="664.8" r="3" fill="#86b84e" stroke="#3d5c22" stroke-width="0.7"/>
<circle cx="238.3" cy="677.9" r="3" fill="#86b84e" stroke="#3d5c22" stroke-width="0.7"/>
<circle cx="248.7" cy="663.6" r="3" fill="#272b5c" stroke="#141630" stroke-width="0.7"/>
<circle cx="260.6" cy="678.9" r="3" fill="#272b5c" stroke="#141630" stroke-width="0.7"/>
<circle cx="233.9" cy="672.5" r="3" fill="#86b84e" stroke="#3d5c22" stroke-width="0.7"/>
<circle cx="226.2" cy="676.6" r="3" fill="#272b5c" stroke="#141630" stroke-width="0.7"/>
<circle cx="258.8" cy="664.7" r="3" fill="#272b5c" stroke="#141630" stroke-width="0.7"/>
<circle cx="244.4" cy="658.9" r="3" fill="#a8cbea" stroke="#4d6c92" stroke-width="0.7"/>
<circle cx="248.1" cy="670.4" r="3" fill="#272b5c" stroke="#141630" stroke-width="0.7"/>
<circle cx="229.6" cy="669.9" r="3" fill="#272b5c" stroke="#141630" stroke-width="0.7"/>
<circle cx="246.2" cy="658.5" r="3" fill="#86b84e" stroke="#3d5c22" stroke-width="0.7"/>
<circle cx="246.8" cy="677.2" r="3" fill="#a8cbea" stroke="#4d6c92" stroke-width="0.7"/>
<circle cx="245.6" cy="674.3" r="3" fill="#272b5c" stroke="#141630" stroke-width="0.7"/>
<circle cx="391.3" cy="655.5" r="3" fill="#272b5c" stroke="#141630" stroke-width="0.7"/>
<circle cx="467.6" cy="665.5" r="3" fill="#272b5c" stroke="#141630" stroke-width="0.7"/>
<circle cx="462.8" cy="662.9" r="3" fill="#272b5c" stroke="#141630" stroke-width="0.7"/>
<circle cx="432.8" cy="675.1" r="3" fill="#272b5c" stroke="#141630" stroke-width="0.7"/>
<circle cx="449.0" cy="658.2" r="3" fill="#272b5c" stroke="#141630" stroke-width="0.7"/>
<circle cx="454.9" cy="675.2" r="3" fill="#272b5c" stroke="#141630" stroke-width="0.7"/>
<circle cx="393.4" cy="663.2" r="3" fill="#272b5c" stroke="#141630" stroke-width="0.7"/>
<circle cx="409.6" cy="655.4" r="3" fill="#272b5c" stroke="#141630" stroke-width="0.7"/>
<circle cx="443.0" cy="677.1" r="3" fill="#272b5c" stroke="#141630" stroke-width="0.7"/>
<circle cx="427.1" cy="673.2" r="3" fill="#a8cbea" stroke="#4d6c92" stroke-width="0.7"/>
<circle cx="454.1" cy="655.3" r="3" fill="#272b5c" stroke="#141630" stroke-width="0.7"/>
<circle cx="425.9" cy="669.6" r="3" fill="#272b5c" stroke="#141630" stroke-width="0.7"/>
<circle cx="413.2" cy="668.3" r="3" fill="#272b5c" stroke="#141630" stroke-width="0.7"/>
<circle cx="436.6" cy="664.5" r="3" fill="#272b5c" stroke="#141630" stroke-width="0.7"/>
<circle cx="374.3" cy="669.3" r="3" fill="#272b5c" stroke="#141630" stroke-width="0.7"/>
<circle cx="395.1" cy="673.4" r="3" fill="#272b5c" stroke="#141630" stroke-width="0.7"/>
<circle cx="416.9" cy="657.0" r="3" fill="#272b5c" stroke="#141630" stroke-width="0.7"/>
<circle cx="382.5" cy="655.6" r="3" fill="#272b5c" stroke="#141630" stroke-width="0.7"/>
<circle cx="381.0" cy="664.4" r="3" fill="#272b5c" stroke="#141630" stroke-width="0.7"/>
<circle cx="376.0" cy="669.8" r="3" fill="#272b5c" stroke="#141630" stroke-width="0.7"/>
<circle cx="443.9" cy="673.8" r="3" fill="#272b5c" stroke="#141630" stroke-width="0.7"/>
<circle cx="377.3" cy="666.1" r="3" fill="#272b5c" stroke="#141630" stroke-width="0.7"/>
<circle cx="465.2" cy="655.8" r="3" fill="#272b5c" stroke="#141630" stroke-width="0.7"/>
<circle cx="469.6" cy="672.5" r="3" fill="#272b5c" stroke="#141630" stroke-width="0.7"/>
<circle cx="391.0" cy="679.5" r="3" fill="#272b5c" stroke="#141630" stroke-width="0.7"/>
<circle cx="465.8" cy="677.6" r="3" fill="#272b5c" stroke="#141630" stroke-width="0.7"/>
<circle cx="449.3" cy="678.1" r="3" fill="#272b5c" stroke="#141630" stroke-width="0.7"/>
<circle cx="406.4" cy="673.2" r="3" fill="#272b5c" stroke="#141630" stroke-width="0.7"/>
<circle cx="459.9" cy="659.7" r="3" fill="#272b5c" stroke="#141630" stroke-width="0.7"/>
<circle cx="386.1" cy="666.1" r="3" fill="#272b5c" stroke="#141630" stroke-width="0.7"/>
<circle cx="392.4" cy="659.4" r="3" fill="#272b5c" stroke="#141630" stroke-width="0.7"/>
<circle cx="403.3" cy="653.0" r="3" fill="#272b5c" stroke="#141630" stroke-width="0.7"/>
<circle cx="387.8" cy="678.2" r="3" fill="#272b5c" stroke="#141630" stroke-width="0.7"/>
<circle cx="459.8" cy="656.7" r="3" fill="#272b5c" stroke="#141630" stroke-width="0.7"/>
<circle cx="383.3" cy="666.9" r="3" fill="#272b5c" stroke="#141630" stroke-width="0.7"/>
<circle cx="407.3" cy="676.4" r="3" fill="#272b5c" stroke="#141630" stroke-width="0.7"/>
<circle cx="428.8" cy="676.7" r="3" fill="#272b5c" stroke="#141630" stroke-width="0.7"/>
<circle cx="469.3" cy="669.6" r="3" fill="#272b5c" stroke="#141630" stroke-width="0.7"/>
<circle cx="450.2" cy="659.4" r="3" fill="#272b5c" stroke="#141630" stroke-width="0.7"/>
<circle cx="428.6" cy="662.1" r="3" fill="#272b5c" stroke="#141630" stroke-width="0.7"/>
<circle cx="415.3" cy="656.9" r="3" fill="#272b5c" stroke="#141630" stroke-width="0.7"/>
<circle cx="376.7" cy="675.0" r="3" fill="#272b5c" stroke="#141630" stroke-width="0.7"/>
<circle cx="434.6" cy="679.6" r="3" fill="#272b5c" stroke="#141630" stroke-width="0.7"/>
<circle cx="437.0" cy="660.8" r="3" fill="#a8cbea" stroke="#4d6c92" stroke-width="0.7"/>
<circle cx="375.3" cy="656.2" r="3" fill="#272b5c" stroke="#141630" stroke-width="0.7"/>
<circle cx="414.4" cy="666.4" r="3" fill="#272b5c" stroke="#141630" stroke-width="0.7"/>
<circle cx="384.9" cy="658.4" r="3" fill="#272b5c" stroke="#141630" stroke-width="0.7"/>
<circle cx="374.2" cy="652.1" r="3" fill="#272b5c" stroke="#141630" stroke-width="0.7"/>
<circle cx="382.4" cy="662.0" r="3" fill="#272b5c" stroke="#141630" stroke-width="0.7"/>
<circle cx="429.2" cy="668.5" r="3" fill="#272b5c" stroke="#141630" stroke-width="0.7"/>
<circle cx="433.1" cy="665.3" r="3" fill="#272b5c" stroke="#141630" stroke-width="0.7"/>
<circle cx="463.8" cy="658.8" r="3" fill="#272b5c" stroke="#141630" stroke-width="0.7"/>
<circle cx="381.4" cy="669.9" r="3" fill="#272b5c" stroke="#141630" stroke-width="0.7"/>
<circle cx="448.7" cy="663.3" r="3" fill="#272b5c" stroke="#141630" stroke-width="0.7"/>
<circle cx="373.1" cy="670.1" r="3" fill="#272b5c" stroke="#141630" stroke-width="0.7"/>
<circle cx="406.3" cy="670.1" r="3" fill="#272b5c" stroke="#141630" stroke-width="0.7"/>
<circle cx="463.8" cy="672.5" r="3" fill="#272b5c" stroke="#141630" stroke-width="0.7"/>
<circle cx="460.5" cy="653.2" r="3" fill="#272b5c" stroke="#141630" stroke-width="0.7"/>
<circle cx="411.8" cy="658.7" r="3" fill="#272b5c" stroke="#141630" stroke-width="0.7"/>
<circle cx="448.3" cy="652.3" r="3" fill="#272b5c" stroke="#141630" stroke-width="0.7"/>
<circle cx="464.2" cy="656.0" r="3" fill="#272b5c" stroke="#141630" stroke-width="0.7"/>
<circle cx="431.6" cy="666.2" r="3" fill="#272b5c" stroke="#141630" stroke-width="0.7"/>
<circle cx="451.7" cy="656.9" r="3" fill="#272b5c" stroke="#141630" stroke-width="0.7"/>
<circle cx="401.4" cy="653.4" r="3" fill="#272b5c" stroke="#141630" stroke-width="0.7"/>
<circle cx="448.7" cy="672.0" r="3" fill="#a8cbea" stroke="#4d6c92" stroke-width="0.7"/>
<circle cx="454.8" cy="672.9" r="3" fill="#272b5c" stroke="#141630" stroke-width="0.7"/>
<circle cx="444.7" cy="664.7" r="3" fill="#272b5c" stroke="#141630" stroke-width="0.7"/>
<circle cx="382.3" cy="658.5" r="3" fill="#a8cbea" stroke="#4d6c92" stroke-width="0.7"/>
<circle cx="404.9" cy="673.0" r="3" fill="#272b5c" stroke="#141630" stroke-width="0.7"/>
<circle cx="454.8" cy="671.9" r="3" fill="#272b5c" stroke="#141630" stroke-width="0.7"/>
<circle cx="426.3" cy="664.2" r="3" fill="#272b5c" stroke="#141630" stroke-width="0.7"/>
<circle cx="423.3" cy="659.4" r="3" fill="#272b5c" stroke="#141630" stroke-width="0.7"/>
<circle cx="466.6" cy="658.1" r="3" fill="#272b5c" stroke="#141630" stroke-width="0.7"/>
<circle cx="373.5" cy="659.3" r="3" fill="#272b5c" stroke="#141630" stroke-width="0.7"/>
<circle cx="444.9" cy="678.5" r="3" fill="#272b5c" stroke="#141630" stroke-width="0.7"/>
<circle cx="404.0" cy="676.6" r="3" fill="#272b5c" stroke="#141630" stroke-width="0.7"/>
<circle cx="395.4" cy="677.4" r="3" fill="#272b5c" stroke="#141630" stroke-width="0.7"/>
<circle cx="439.9" cy="670.6" r="3" fill="#272b5c" stroke="#141630" stroke-width="0.7"/>
<circle cx="418.0" cy="675.5" r="3" fill="#272b5c" stroke="#141630" stroke-width="0.7"/>
<circle cx="456.0" cy="664.2" r="3" fill="#272b5c" stroke="#141630" stroke-width="0.7"/>
<circle cx="427.9" cy="660.6" r="3" fill="#272b5c" stroke="#141630" stroke-width="0.7"/>
<circle cx="433.0" cy="654.2" r="3" fill="#272b5c" stroke="#141630" stroke-width="0.7"/>
<circle cx="386.2" cy="652.8" r="3" fill="#272b5c" stroke="#141630" stroke-width="0.7"/>
<circle cx="463.0" cy="661.7" r="3" fill="#272b5c" stroke="#141630" stroke-width="0.7"/>
<circle cx="374.8" cy="653.2" r="3" fill="#272b5c" stroke="#141630" stroke-width="0.7"/>
<circle cx="434.1" cy="671.5" r="3" fill="#272b5c" stroke="#141630" stroke-width="0.7"/>
<circle cx="378.4" cy="668.5" r="3" fill="#272b5c" stroke="#141630" stroke-width="0.7"/>
<circle cx="452.1" cy="674.9" r="3" fill="#272b5c" stroke="#141630" stroke-width="0.7"/>
<circle cx="378.5" cy="676.3" r="3" fill="#272b5c" stroke="#141630" stroke-width="0.7"/>
<circle cx="464.5" cy="655.0" r="3" fill="#272b5c" stroke="#141630" stroke-width="0.7"/>
<circle cx="377.6" cy="658.7" r="3" fill="#272b5c" stroke="#141630" stroke-width="0.7"/>
<circle cx="450.4" cy="670.7" r="3" fill="#272b5c" stroke="#141630" stroke-width="0.7"/>
<circle cx="431.7" cy="663.7" r="3" fill="#272b5c" stroke="#141630" stroke-width="0.7"/>
<circle cx="376.2" cy="673.1" r="3" fill="#272b5c" stroke="#141630" stroke-width="0.7"/>
<circle cx="399.2" cy="666.5" r="3" fill="#272b5c" stroke="#141630" stroke-width="0.7"/>
<circle cx="392.7" cy="663.7" r="3" fill="#272b5c" stroke="#141630" stroke-width="0.7"/>
<circle cx="404.3" cy="664.4" r="3" fill="#272b5c" stroke="#141630" stroke-width="0.7"/>
<circle cx="418.4" cy="675.0" r="3" fill="#272b5c" stroke="#141630" stroke-width="0.7"/>
<circle cx="369.2" cy="666.3" r="3" fill="#272b5c" stroke="#141630" stroke-width="0.7"/>
<circle cx="446.4" cy="664.9" r="3" fill="#272b5c" stroke="#141630" stroke-width="0.7"/>
<circle cx="421.9" cy="662.3" r="3" fill="#272b5c" stroke="#141630" stroke-width="0.7"/>
<circle cx="375.5" cy="674.4" r="3" fill="#272b5c" stroke="#141630" stroke-width="0.7"/>
<circle cx="366.1" cy="662.0" r="3" fill="#272b5c" stroke="#141630" stroke-width="0.7"/>
<circle cx="467.7" cy="658.1" r="3" fill="#272b5c" stroke="#141630" stroke-width="0.7"/>
<circle cx="417.1" cy="673.9" r="3" fill="#272b5c" stroke="#141630" stroke-width="0.7"/>
<circle cx="417.4" cy="664.9" r="3" fill="#272b5c" stroke="#141630" stroke-width="0.7"/>
<circle cx="393.1" cy="676.9" r="3" fill="#272b5c" stroke="#141630" stroke-width="0.7"/>
<circle cx="388.3" cy="672.0" r="3" fill="#272b5c" stroke="#141630" stroke-width="0.7"/>
<circle cx="377.4" cy="670.7" r="3" fill="#272b5c" stroke="#141630" stroke-width="0.7"/>
<circle cx="447.9" cy="671.9" r="3" fill="#272b5c" stroke="#141630" stroke-width="0.7"/>
<circle cx="431.3" cy="665.1" r="3" fill="#272b5c" stroke="#141630" stroke-width="0.7"/>
<circle cx="407.0" cy="675.8" r="3" fill="#272b5c" stroke="#141630" stroke-width="0.7"/>
<circle cx="458.4" cy="658.5" r="3" fill="#272b5c" stroke="#141630" stroke-width="0.7"/>
<circle cx="393.4" cy="676.0" r="3" fill="#272b5c" stroke="#141630" stroke-width="0.7"/>
<circle cx="405.4" cy="675.7" r="3" fill="#272b5c" stroke="#141630" stroke-width="0.7"/>
<circle cx="413.9" cy="668.6" r="3" fill="#272b5c" stroke="#141630" stroke-width="0.7"/>
<circle cx="444.3" cy="670.9" r="3" fill="#272b5c" stroke="#141630" stroke-width="0.7"/>
<circle cx="400.0" cy="661.1" r="3" fill="#272b5c" stroke="#141630" stroke-width="0.7"/>
<circle cx="434.9" cy="672.8" r="3" fill="#272b5c" stroke="#141630" stroke-width="0.7"/>
<circle cx="411.6" cy="673.5" r="3" fill="#272b5c" stroke="#141630" stroke-width="0.7"/>
<circle cx="379.1" cy="667.2" r="3" fill="#272b5c" stroke="#141630" stroke-width="0.7"/>
<circle cx="390.7" cy="661.8" r="3" fill="#272b5c" stroke="#141630" stroke-width="0.7"/>
<circle cx="439.1" cy="674.9" r="3" fill="#272b5c" stroke="#141630" stroke-width="0.7"/>
<circle cx="382.2" cy="663.0" r="3" fill="#272b5c" stroke="#141630" stroke-width="0.7"/>
<circle cx="420.3" cy="661.2" r="3" fill="#272b5c" stroke="#141630" stroke-width="0.7"/>
<circle cx="385.7" cy="677.5" r="3" fill="#272b5c" stroke="#141630" stroke-width="0.7"/>
<circle cx="376.6" cy="677.2" r="3" fill="#272b5c" stroke="#141630" stroke-width="0.7"/>
<circle cx="406.0" cy="677.7" r="3" fill="#272b5c" stroke="#141630" stroke-width="0.7"/>
<circle cx="442.3" cy="666.7" r="3" fill="#272b5c" stroke="#141630" stroke-width="0.7"/>
<circle cx="432.4" cy="660.1" r="3" fill="#272b5c" stroke="#141630" stroke-width="0.7"/>
<circle cx="406.4" cy="658.7" r="3" fill="#272b5c" stroke="#141630" stroke-width="0.7"/>
<circle cx="448.3" cy="671.9" r="3" fill="#272b5c" stroke="#141630" stroke-width="0.7"/>
<circle cx="431.8" cy="667.3" r="3" fill="#272b5c" stroke="#141630" stroke-width="0.7"/>
<circle cx="428.8" cy="666.1" r="3" fill="#272b5c" stroke="#141630" stroke-width="0.7"/>
<circle cx="460.4" cy="666.6" r="3" fill="#272b5c" stroke="#141630" stroke-width="0.7"/>
<circle cx="443.9" cy="666.4" r="3" fill="#272b5c" stroke="#141630" stroke-width="0.7"/>
<circle cx="441.1" cy="675.6" r="3" fill="#272b5c" stroke="#141630" stroke-width="0.7"/>
<circle cx="438.8" cy="675.0" r="3" fill="#272b5c" stroke="#141630" stroke-width="0.7"/>
<circle cx="432.7" cy="667.1" r="3" fill="#272b5c" stroke="#141630" stroke-width="0.7"/>
<circle cx="431.3" cy="660.0" r="3" fill="#272b5c" stroke="#141630" stroke-width="0.7"/>
<circle cx="447.4" cy="672.3" r="3" fill="#272b5c" stroke="#141630" stroke-width="0.7"/>
<circle cx="392.0" cy="666.5" r="3" fill="#272b5c" stroke="#141630" stroke-width="0.7"/>
<circle cx="430.6" cy="666.2" r="3" fill="#272b5c" stroke="#141630" stroke-width="0.7"/>
<circle cx="462.7" cy="661.7" r="3" fill="#272b5c" stroke="#141630" stroke-width="0.7"/>
<circle cx="446.9" cy="665.8" r="3" fill="#272b5c" stroke="#141630" stroke-width="0.7"/>
<circle cx="467.4" cy="658.8" r="3" fill="#272b5c" stroke="#141630" stroke-width="0.7"/>
<circle cx="382.7" cy="673.6" r="3" fill="#272b5c" stroke="#141630" stroke-width="0.7"/>
<circle cx="420.0" cy="660.0" r="3" fill="#272b5c" stroke="#141630" stroke-width="0.7"/>
<circle cx="422.3" cy="672.3" r="3" fill="#272b5c" stroke="#141630" stroke-width="0.7"/>
<circle cx="432.5" cy="674.6" r="3" fill="#272b5c" stroke="#141630" stroke-width="0.7"/>
<circle cx="368.2" cy="679.0" r="3" fill="#a8cbea" stroke="#4d6c92" stroke-width="0.7"/>
<circle cx="373.7" cy="667.8" r="3" fill="#272b5c" stroke="#141630" stroke-width="0.7"/>
<circle cx="362.4" cy="679.7" r="3" fill="#a8cbea" stroke="#4d6c92" stroke-width="0.7"/>
<circle cx="361.1" cy="665.5" r="3" fill="#a8cbea" stroke="#4d6c92" stroke-width="0.7"/>
<circle cx="360.3" cy="668.4" r="3" fill="#272b5c" stroke="#141630" stroke-width="0.7"/>
<circle cx="374.0" cy="667.0" r="3" fill="#a8cbea" stroke="#4d6c92" stroke-width="0.7"/>
<circle cx="364.5" cy="674.8" r="3" fill="#272b5c" stroke="#141630" stroke-width="0.7"/>
<circle cx="370.5" cy="664.4" r="3" fill="#272b5c" stroke="#141630" stroke-width="0.7"/>
<circle cx="367.8" cy="664.2" r="3" fill="#86b84e" stroke="#3d5c22" stroke-width="0.7"/>
<circle cx="375.5" cy="676.2" r="3" fill="#272b5c" stroke="#141630" stroke-width="0.7"/>
<circle cx="369.4" cy="671.2" r="3" fill="#a8cbea" stroke="#4d6c92" stroke-width="0.7"/>
<circle cx="379.3" cy="667.1" r="3" fill="#272b5c" stroke="#141630" stroke-width="0.7"/>
<circle cx="156.4" cy="676.4" r="3" fill="#272b5c" stroke="#141630" stroke-width="0.7"/>
<circle cx="149.4" cy="669.1" r="3" fill="#272b5c" stroke="#141630" stroke-width="0.7"/>
<circle cx="151.0" cy="666.8" r="3" fill="#272b5c" stroke="#141630" stroke-width="0.7"/>
<circle cx="156.7" cy="670.0" r="3" fill="#272b5c" stroke="#141630" stroke-width="0.7"/>
<circle cx="157.0" cy="668.7" r="3" fill="#272b5c" stroke="#141630" stroke-width="0.7"/>
<circle cx="147.5" cy="668.5" r="3" fill="#272b5c" stroke="#141630" stroke-width="0.7"/>
<path d="M263.6,535.2 L267.6,539.2 L263.6,543.2 L259.6,539.2 Z" fill="#5a5a8e" stroke="#2a2a4a" stroke-width="0.7"/>
<text x="113" y="542.7" font-family='"Liberation Serif", serif' font-size="9.1" fill="#111">rs204999</text>
<text x="204.5" y="537.2" font-family='"Liberation Serif", serif' font-size="9.1" fill="#111">rs9268542</text>
<text x="200.8" y="551.9" font-family='"Liberation Serif", serif' font-size="9.1" fill="#111">rs9268528</text>
<text x="254.1" y="530.1" font-family='"Liberation Serif", serif' font-size="9.1" fill="#111">rs6903608</text>
<text x="330.6" y="558.5" font-family='"Liberation Serif", serif' font-size="10.1" fill="#111">rs2858870</text>
<text x="330.6" y="578.6" font-family='"Liberation Serif", serif' font-size="10.1" fill="#111">rs2647703</text>
<rect x="59.4" y="522.3" width="34.6" height="83.1" fill="#fff" stroke="#888" stroke-width="1"/>
<rect x="64.2" y="536.2" width="8.1" height="13.4" fill="#d42a22"/>
<rect x="64.2" y="549.6" width="8.1" height="12.7" fill="#eba636"/>
<rect x="64.2" y="562.3" width="8.1" height="13.5" fill="#7cb648"/>
<rect x="64.2" y="575.8" width="8.1" height="12.2" fill="#a9cdee"/>
<rect x="64.2" y="588" width="8.1" height="13.2" fill="#262a5c"/>
<rect x="64.2" y="536.2" width="8.1" height="65" fill="none" stroke="#333" stroke-width="0.5"/>
<line x1="72.3" y1="549.6" x2="76" y2="549.6" stroke="#444" stroke-width="0.8"/>
<text x="77.5" y="552.6" font-family='"Liberation Sans", sans-serif' font-size="8.2" fill="#444">0.8</text>
<line x1="72.3" y1="562.3" x2="76" y2="562.3" stroke="#444" stroke-width="0.8"/>
<text x="77.5" y="565.3" font-family='"Liberation Sans", sans-serif' font-size="8.2" fill="#444">0.6</text>
<line x1="72.3" y1="575.8" x2="76" y2="575.8" stroke="#444" stroke-width="0.8"/>
<text x="77.5" y="578.8" font-family='"Liberation Sans", sans-serif' font-size="8.2" fill="#444">0.4</text>
<line x1="72.3" y1="588" x2="76" y2="588" stroke="#444" stroke-width="0.8"/>
<text x="77.5" y="591.0" font-family='"Liberation Sans", sans-serif' font-size="8.2" fill="#444">0.2</text>
<text x="74" y="533" font-family='"Liberation Sans", sans-serif' font-size="8.5" fill="#444">r</text>
<text x="77.5" y="528" font-family='"Liberation Sans", sans-serif' font-size="5.5" fill="#444">2</text>
<rect x="54.8" y="695.4" width="417.5" height="83.4" fill="none" stroke="#999" stroke-width="1"/>
<path d="M89.0,699.9 L91.6,701.2 L89.0,702.5 Z M84.3,701.2 H89.6" fill="#222" stroke="#222" stroke-width="0.8"/>
<text x="58.3" y="703.8" font-family='"Liberation Sans", sans-serif' font-style="italic" font-size="7.3" fill="#222">SKIV2L</text>
<rect x="55.2" y="706.2" width="2.8" height="2.3" fill="#1e2250"/>
<path d="M110.0,699.9 L107.4,701.2 L110.0,702.5 Z M109.4,701.2 H114.7" fill="#222" stroke="#222" stroke-width="0.8"/>
<text x="115.7" y="703.8" font-family='"Liberation Sans", sans-serif' font-style="italic" font-size="7.3" fill="#222">ATF6B</text>
<rect x="121" y="706.2" width="4.0" height="2.3" fill="#1e2250"/>
<path d="M194.7,699.9 L192.1,701.2 L194.7,702.5 Z M194.1,701.2 H199.4" fill="#222" stroke="#222" stroke-width="0.8"/>
<text x="200.4" y="703.8" font-family='"Liberation Sans", sans-serif' font-style="italic" font-size="7.3" fill="#222">C6orf10</text>
<path d="M275.1,699.9 L277.7,701.2 L275.1,702.5 Z M270.4,701.2 H275.7" fill="#222" stroke="#222" stroke-width="0.8"/>
<text x="235.3" y="703.8" font-family='"Liberation Sans", sans-serif' font-style="italic" font-size="7.3" fill="#222">HLA−DRA</text>
<rect x="255.5" y="706.2" width="2.0" height="2.3" fill="#1e2250"/>
<path d="M294.4,699.9 L291.8,701.2 L294.4,702.5 Z M293.8,701.2 H299.1" fill="#222" stroke="#222" stroke-width="0.8"/>
<text x="300.1" y="703.8" font-family='"Liberation Sans", sans-serif' font-style="italic" font-size="7.3" fill="#222">HLA−DRB1</text>
<rect x="313" y="706.2" width="4.0" height="2.3" fill="#1e2250"/>
<path d="M404.4,699.9 L407.0,701.2 L404.4,702.5 Z M399.7,701.2 H405.0" fill="#222" stroke="#222" stroke-width="0.8"/>
<text x="360.2" y="703.8" font-family='"Liberation Sans", sans-serif' font-style="italic" font-size="7.3" fill="#222">HLA−DQA2</text>
<rect x="381" y="706.2" width="2.0" height="2.3" fill="#1e2250"/>
<path d="M416.4,699.9 L413.8,701.2 L416.4,702.5 Z M415.8,701.2 H421.1" fill="#222" stroke="#222" stroke-width="0.8"/>
<text x="422.1" y="703.8" font-family='"Liberation Sans", sans-serif' font-style="italic" font-size="7.3" fill="#222">TAP1</text>
<rect x="424" y="706.2" width="3.0" height="2.3" fill="#1e2250"/>
<path d="M58.9,716.7 L56.3,718.0 L58.9,719.3 Z M58.3,718.0 H63.6" fill="#222" stroke="#222" stroke-width="0.8"/>
<text x="64.6" y="720.6" font-family='"Liberation Sans", sans-serif' font-style="italic" font-size="7.3" fill="#222">DOM3Z</text>
<rect x="58.2" y="723.0" width="1.0" height="2.3" fill="#1e2250"/>
<path d="M112.1,716.7 L109.5,718.0 L112.1,719.3 Z M111.5,718.0 H116.8" fill="#222" stroke="#222" stroke-width="0.8"/>
<text x="117.8" y="720.6" font-family='"Liberation Sans", sans-serif' font-style="italic" font-size="7.3" fill="#222">FKBPL</text>
<rect x="125.2" y="723.0" width="1.0" height="2.3" fill="#1e2250"/>
<path d="M225.3,716.7 L222.7,718.0 L225.3,719.3 Z M224.7,718.0 H230.0" fill="#222" stroke="#222" stroke-width="0.8"/>
<text x="231.0" y="720.6" font-family='"Liberation Sans", sans-serif' font-style="italic" font-size="7.3" fill="#222">BTNL2</text>
<rect x="237" y="723.0" width="4.0" height="2.3" fill="#1e2250"/>
<path d="M269.1,716.7 L266.5,718.0 L269.1,719.3 Z M268.5,718.0 H273.8" fill="#222" stroke="#222" stroke-width="0.8"/>
<text x="274.8" y="720.6" font-family='"Liberation Sans", sans-serif' font-style="italic" font-size="7.3" fill="#222">HLA−DRB5</text>
<rect x="287.5" y="723.0" width="3.5" height="2.3" fill="#1e2250"/>
<path d="M328.1,716.7 L325.5,718.0 L328.1,719.3 Z M327.5,718.0 H332.8" fill="#222" stroke="#222" stroke-width="0.8"/>
<text x="333.8" y="720.6" font-family='"Liberation Sans", sans-serif' font-style="italic" font-size="7.3" fill="#222">HLA−DQB1</text>
<rect x="347" y="723.0" width="3.0" height="2.3" fill="#1e2250"/>
<path d="M393.4,716.7 L390.8,718.0 L393.4,719.3 Z M392.8,718.0 H398.1" fill="#222" stroke="#222" stroke-width="0.8"/>
<text x="399.1" y="720.6" font-family='"Liberation Sans", sans-serif' font-style="italic" font-size="7.3" fill="#222">HLA−DOB</text>
<rect x="410.2" y="723.0" width="1.8" height="2.3" fill="#1e2250"/>
<path d="M86.4,733.3 L89.0,734.6 L86.4,735.9 Z M81.7,734.6 H87.0" fill="#222" stroke="#222" stroke-width="0.8"/>
<text x="58.2" y="737.2" font-family='"Liberation Sans", sans-serif' font-style="italic" font-size="7.3" fill="#222">STK19</text>
<rect x="58.5" y="739.6" width="4.5" height="2.3" fill="#1e2250"/>
<rect x="76.8" y="739.6" width="1.0" height="2.3" fill="#1e2250"/>
<path d="M120.2,733.3 L117.6,734.6 L120.2,735.9 Z M119.6,734.6 H124.9" fill="#222" stroke="#222" stroke-width="0.8"/>
<text x="125.9" y="737.2" font-family='"Liberation Sans", sans-serif' font-style="italic" font-size="7.3" fill="#222">PRRT1</text>
<rect x="133" y="739.6" width="2.0" height="2.3" fill="#1e2250"/>
<path d="M282.9,733.3 L280.3,734.6 L282.9,735.9 Z M282.3,734.6 H287.6" fill="#222" stroke="#222" stroke-width="0.8"/>
<text x="288.6" y="737.2" font-family='"Liberation Sans", sans-serif' font-style="italic" font-size="7.3" fill="#222">HLA−DRB6</text>
<rect x="302" y="739.6" width="3.0" height="2.3" fill="#1e2250"/>
<path d="M368.1,733.3 L365.5,734.6 L368.1,735.9 Z M367.5,734.6 H372.8" fill="#222" stroke="#222" stroke-width="0.8"/>
<text x="373.8" y="737.2" font-family='"Liberation Sans", sans-serif' font-style="italic" font-size="7.3" fill="#222">HLA−DQB2</text>
<rect x="387" y="739.6" width="3.5" height="2.3" fill="#1e2250"/>
<path d="M429.6,733.3 L427.0,734.6 L429.6,735.9 Z M429.0,734.6 H434.3" fill="#222" stroke="#222" stroke-width="0.8"/>
<text x="435.3" y="737.2" font-family='"Liberation Sans", sans-serif' font-style="italic" font-size="7.3" fill="#222">HLA−DMB</text>
<rect x="462" y="739.6" width="2.0" height="2.3" fill="#1e2250"/>
<path d="M84.9,750.4 L87.5,751.7 L84.9,753.0 Z M80.2,751.7 H85.5" fill="#222" stroke="#222" stroke-width="0.8"/>
<text x="64.8" y="754.3" font-family='"Liberation Sans", sans-serif' font-style="italic" font-size="7.3" fill="#222">C4A</text>
<rect x="64.5" y="756.7" width="2.0" height="2.3" fill="#1e2250"/>
<rect x="68.5" y="756.7" width="4.0" height="2.3" fill="#1e2250"/>
<rect x="75" y="756.7" width="2.0" height="2.3" fill="#1e2250"/>
<rect x="79" y="756.7" width="4.0" height="2.3" fill="#1e2250"/>
<path d="M149.9,750.4 L152.5,751.7 L149.9,753.0 Z M145.2,751.7 H150.5" fill="#222" stroke="#222" stroke-width="0.8"/>
<text x="125.7" y="754.3" font-family='"Liberation Sans", sans-serif' font-style="italic" font-size="7.3" fill="#222">PPT2</text>
<rect x="135.5" y="756.7" width="3.0" height="2.3" fill="#1e2250"/>
<path d="M361.1,750.4 L363.7,751.7 L361.1,753.0 Z M356.4,751.7 H361.7" fill="#222" stroke="#222" stroke-width="0.8"/>
<text x="316.9" y="754.3" font-family='"Liberation Sans", sans-serif' font-style="italic" font-size="7.3" fill="#222">HLA−DQA1</text>
<rect x="338.2" y="756.7" width="1.8" height="2.3" fill="#1e2250"/>
<path d="M408.1,750.4 L405.5,751.7 L408.1,753.0 Z M407.5,751.7 H412.8" fill="#222" stroke="#222" stroke-width="0.8"/>
<text x="413.8" y="754.3" font-family='"Liberation Sans", sans-serif' font-style="italic" font-size="7.3" fill="#222">TAP2</text>
<rect x="415" y="756.7" width="7.0" height="2.3" fill="#1e2250"/>
<path d="M84.9,766.8 L87.5,768.1 L84.9,769.4 Z M80.2,768.1 H85.5" fill="#222" stroke="#222" stroke-width="0.8"/>
<text x="64.8" y="770.7" font-family='"Liberation Sans", sans-serif' font-style="italic" font-size="7.3" fill="#222">C4B</text>
<rect x="64.5" y="773.1" width="2.0" height="2.3" fill="#1e2250"/>
<rect x="68.5" y="773.1" width="4.0" height="2.3" fill="#1e2250"/>
<rect x="75" y="773.1" width="2.0" height="2.3" fill="#1e2250"/>
<rect x="79" y="773.1" width="4.0" height="2.3" fill="#1e2250"/>
<path d="M155.3,766.8 L157.9,768.1 L155.3,769.4 Z M150.6,768.1 H155.9" fill="#222" stroke="#222" stroke-width="0.8"/>
<text x="126.3" y="770.7" font-family='"Liberation Sans", sans-serif' font-style="italic" font-size="7.3" fill="#222">EGFL8</text>
<rect x="139.5" y="773.1" width="1.5" height="2.3" fill="#1e2250"/>
<path d="M409.4,766.8 L406.8,768.1 L409.4,769.4 Z M408.8,768.1 H414.1" fill="#222" stroke="#222" stroke-width="0.8"/>
<text x="415.1" y="770.7" font-family='"Liberation Sans", sans-serif' font-style="italic" font-size="7.3" fill="#222">PSMB8</text>
<rect x="422.2" y="773.1" width="1.8" height="2.3" fill="#1e2250"/>
<line x1="192" y1="707.4" x2="227.5" y2="707.4" stroke="#1e2250" stroke-width="0.7"/>
<rect x="192.2" y="706.2" width="1.2" height="2.4" fill="#1e2250"/>
<rect x="194" y="706.2" width="1.2" height="2.4" fill="#1e2250"/>
<rect x="201" y="706.2" width="1.2" height="2.4" fill="#1e2250"/>
<rect x="205" y="706.2" width="1.2" height="2.4" fill="#1e2250"/>
<rect x="207.5" y="706.2" width="1.2" height="2.4" fill="#1e2250"/>
<rect x="209" y="706.2" width="1.2" height="2.4" fill="#1e2250"/>
<rect x="212" y="706.2" width="1.2" height="2.4" fill="#1e2250"/>
<rect x="215" y="706.2" width="1.2" height="2.4" fill="#1e2250"/>
<rect x="217.5" y="706.2" width="1.2" height="2.4" fill="#1e2250"/>
<rect x="221" y="706.2" width="1.2" height="2.4" fill="#1e2250"/>
<rect x="224.5" y="706.2" width="1.2" height="2.4" fill="#1e2250"/>
<rect x="226.5" y="706.2" width="1.2" height="2.4" fill="#1e2250"/>
<line x1="123.1" y1="778.8" x2="123.1" y2="782.7" stroke="#777" stroke-width="1"/>
<text x="123.1" y="798" text-anchor="middle" font-family='"Liberation Sans", sans-serif' font-size="8.3" fill="#555">32.2</text>
<line x1="206.7" y1="778.8" x2="206.7" y2="782.7" stroke="#777" stroke-width="1"/>
<text x="206.7" y="798" text-anchor="middle" font-family='"Liberation Sans", sans-serif' font-size="8.3" fill="#555">32.4</text>
<line x1="290.3" y1="778.8" x2="290.3" y2="782.7" stroke="#777" stroke-width="1"/>
<text x="290.3" y="798" text-anchor="middle" font-family='"Liberation Sans", sans-serif' font-size="8.3" fill="#555">32.6</text>
<line x1="373.9" y1="778.8" x2="373.9" y2="782.7" stroke="#777" stroke-width="1"/>
<text x="373.9" y="798" text-anchor="middle" font-family='"Liberation Sans", sans-serif' font-size="8.3" fill="#555">32.8</text>
<line x1="457.5" y1="778.8" x2="457.5" y2="782.7" stroke="#777" stroke-width="1"/>
<text x="457.5" y="798" text-anchor="middle" font-family='"Liberation Sans", sans-serif' font-size="8.3" fill="#555">33</text>
<text x="178.7" y="815" font-family='"Liberation Serif", serif' font-weight="bold" font-size="15.45" fill="#111">Position on Chromosome 6</text>
<text x="4.2" y="836.3" font-family='"Liberation Sans", sans-serif' font-weight="bold" font-size="14.6" fill="#111">C</text>
<path d="M53.8,842.5 L150.8,842.5 L102.30,891.00 Z" fill="#cb1818"/>
<path d="M63.3,852.4l.80-.80l.80,.80l-.80,.80zM71.3,860.4l.80-.80l.80,.80l-.80,.80zM72.9,862.0l.80-.80l.80,.80l-.80,.80zM80.8,869.9l.80-.80l.80,.80l-.80,.80zM81.6,870.7l.80-.80l.80,.80l-.80,.80zM82.4,871.5l.80-.80l.80,.80l-.80,.80zM83.2,872.3l.80-.80l.80,.80l-.80,.80zM85.6,874.7l.80-.80l.80,.80l-.80,.80zM86.4,875.5l.80-.80l.80,.80l-.80,.80zM88.0,877.1l.80-.80l.80,.80l-.80,.80zM88.8,877.9l.80-.80l.80,.80l-.80,.80zM89.6,878.7l.80-.80l.80,.80l-.80,.80zM90.4,879.5l.80-.80l.80,.80l-.80,.80zM91.2,880.3l.80-.80l.80,.80l-.80,.80zM92.0,881.1l.80-.80l.80,.80l-.80,.80zM92.8,881.9l.80-.80l.80,.80l-.80,.80zM93.6,882.7l.80-.80l.80,.80l-.80,.80zM95.1,884.2l.80-.80l.80,.80l-.80,.80zM96.7,885.8l.80-.80l.80,.80l-.80,.80zM97.5,886.6l.80-.80l.80,.80l-.80,.80zM98.3,887.4l.80-.80l.80,.80l-.80,.80zM99.1,888.2l.80-.80l.80,.80l-.80,.80zM100.7,889.8l.80-.80l.80,.80l-.80,.80zM101.5,890.6l.80-.80l.80,.80l-.80,.80zM58.6,846.1l.80-.80l.80,.80l-.80,.80zM62.5,850.1l.80-.80l.80,.80l-.80,.80zM70.5,858.0l.80-.80l.80,.80l-.80,.80zM73.7,861.2l.80-.80l.80,.80l-.80,.80zM81.6,869.1l.80-.80l.80,.80l-.80,.80zM85.6,873.1l.80-.80l.80,.80l-.80,.80zM86.4,873.9l.80-.80l.80,.80l-.80,.80zM89.6,877.1l.80-.80l.80,.80l-.80,.80zM92.8,880.3l.80-.80l.80,.80l-.80,.80zM93.6,881.1l.80-.80l.80,.80l-.80,.80zM94.3,881.9l.80-.80l.80,.80l-.80,.80zM97.5,885.0l.80-.80l.80,.80l-.80,.80zM100.7,888.2l.80-.80l.80,.80l-.80,.80zM101.5,889.0l.80-.80l.80,.80l-.80,.80zM102.3,889.8l.80-.80l.80,.80l-.80,.80zM59.4,845.3l.80-.80l.80,.80l-.80,.80zM63.3,849.3l.80-.80l.80,.80l-.80,.80zM68.1,854.0l.80-.80l.80,.80l-.80,.80zM70.5,856.4l.80-.80l.80,.80l-.80,.80zM72.9,858.8l.80-.80l.80,.80l-.80,.80zM74.5,860.4l.80-.80l.80,.80l-.80,.80zM82.4,868.3l.80-.80l.80,.80l-.80,.80zM83.2,869.1l.80-.80l.80,.80l-.80,.80zM86.4,872.3l.80-.80l.80,.80l-.80,.80zM87.2,873.1l.80-.80l.80,.80l-.80,.80zM88.0,873.9l.80-.80l.80,.80l-.80,.80zM89.6,875.5l.80-.80l.80,.80l-.80,.80zM90.4,876.3l.80-.80l.80,.80l-.80,.80zM92.8,878.7l.80-.80l.80,.80l-.80,.80zM93.6,879.5l.80-.80l.80,.80l-.80,.80zM94.3,880.3l.80-.80l.80,.80l-.80,.80zM95.1,881.1l.80-.80l.80,.80l-.80,.80zM97.5,883.4l.80-.80l.80,.80l-.80,.80zM98.3,884.2l.80-.80l.80,.80l-.80,.80zM99.9,885.8l.80-.80l.80,.80l-.80,.80zM101.5,887.4l.80-.80l.80,.80l-.80,.80zM102.3,888.2l.80-.80l.80,.80l-.80,.80zM103.1,889.0l.80-.80l.80,.80l-.80,.80zM64.1,848.5l.80-.80l.80,.80l-.80,.80zM68.9,853.2l.80-.80l.80,.80l-.80,.80zM70.5,854.8l.80-.80l.80,.80l-.80,.80zM71.3,855.6l.80-.80l.80,.80l-.80,.80zM72.1,856.4l.80-.80l.80,.80l-.80,.80zM79.2,863.6l.80-.80l.80,.80l-.80,.80zM85.6,869.9l.80-.80l.80,.80l-.80,.80zM88.8,873.1l.80-.80l.80,.80l-.80,.80zM91.2,875.5l.80-.80l.80,.80l-.80,.80zM93.6,877.9l.80-.80l.80,.80l-.80,.80zM94.3,878.7l.80-.80l.80,.80l-.80,.80zM95.1,879.5l.80-.80l.80,.80l-.80,.80zM96.7,881.1l.80-.80l.80,.80l-.80,.80zM98.3,882.7l.80-.80l.80,.80l-.80,.80zM99.1,883.4l.80-.80l.80,.80l-.80,.80zM102.3,886.6l.80-.80l.80,.80l-.80,.80zM103.1,887.4l.80-.80l.80,.80l-.80,.80zM103.9,888.2l.80-.80l.80,.80l-.80,.80zM64.9,847.7l.80-.80l.80,.80l-.80,.80zM69.7,852.4l.80-.80l.80,.80l-.80,.80zM74.5,857.2l.80-.80l.80,.80l-.80,.80zM76.1,858.8l.80-.80l.80,.80l-.80,.80zM84.0,866.8l.80-.80l.80,.80l-.80,.80zM84.8,867.5l.80-.80l.80,.80l-.80,.80zM88.8,871.5l.80-.80l.80,.80l-.80,.80zM89.6,872.3l.80-.80l.80,.80l-.80,.80zM94.3,877.1l.80-.80l.80,.80l-.80,.80zM95.1,877.9l.80-.80l.80,.80l-.80,.80zM96.7,879.5l.80-.80l.80,.80l-.80,.80zM98.3,881.1l.80-.80l.80,.80l-.80,.80zM101.5,884.2l.80-.80l.80,.80l-.80,.80zM103.1,885.8l.80-.80l.80,.80l-.80,.80zM103.9,886.6l.80-.80l.80,.80l-.80,.80zM104.7,887.4l.80-.80l.80,.80l-.80,.80zM61.8,842.9l.80-.80l.80,.80l-.80,.80zM64.1,845.3l.80-.80l.80,.80l-.80,.80zM65.7,846.9l.80-.80l.80,.80l-.80,.80zM66.5,847.7l.80-.80l.80,.80l-.80,.80zM67.3,848.5l.80-.80l.80,.80l-.80,.80zM68.1,849.3l.80-.80l.80,.80l-.80,.80zM69.7,850.8l.80-.80l.80,.80l-.80,.80zM70.5,851.6l.80-.80l.80,.80l-.80,.80zM72.1,853.2l.80-.80l.80,.80l-.80,.80zM72.9,854.0l.80-.80l.80,.80l-.80,.80zM73.7,854.8l.80-.80l.80,.80l-.80,.80zM75.3,856.4l.80-.80l.80,.80l-.80,.80zM76.9,858.0l.80-.80l.80,.80l-.80,.80zM77.7,858.8l.80-.80l.80,.80l-.80,.80zM78.4,859.6l.80-.80l.80,.80l-.80,.80zM79.2,860.4l.80-.80l.80,.80l-.80,.80zM80.0,861.2l.80-.80l.80,.80l-.80,.80zM80.8,862.0l.80-.80l.80,.80l-.80,.80zM82.4,863.6l.80-.80l.80,.80l-.80,.80zM83.2,864.4l.80-.80l.80,.80l-.80,.80zM84.0,865.2l.80-.80l.80,.80l-.80,.80zM84.8,866.0l.80-.80l.80,.80l-.80,.80zM85.6,866.8l.80-.80l.80,.80l-.80,.80zM86.4,867.5l.80-.80l.80,.80l-.80,.80zM87.2,868.3l.80-.80l.80,.80l-.80,.80zM88.8,869.9l.80-.80l.80,.80l-.80,.80zM89.6,870.7l.80-.80l.80,.80l-.80,.80zM90.4,871.5l.80-.80l.80,.80l-.80,.80zM91.2,872.3l.80-.80l.80,.80l-.80,.80zM92.0,873.1l.80-.80l.80,.80l-.80,.80zM92.8,873.9l.80-.80l.80,.80l-.80,.80zM93.6,874.7l.80-.80l.80,.80l-.80,.80zM94.3,875.5l.80-.80l.80,.80l-.80,.80zM95.1,876.3l.80-.80l.80,.80l-.80,.80zM95.9,877.1l.80-.80l.80,.80l-.80,.80zM96.7,877.9l.80-.80l.80,.80l-.80,.80zM97.5,878.7l.80-.80l.80,.80l-.80,.80zM98.3,879.5l.80-.80l.80,.80l-.80,.80zM99.1,880.3l.80-.80l.80,.80l-.80,.80zM99.9,881.1l.80-.80l.80,.80l-.80,.80zM100.7,881.9l.80-.80l.80,.80l-.80,.80zM101.5,882.7l.80-.80l.80,.80l-.80,.80zM102.3,883.4l.80-.80l.80,.80l-.80,.80zM103.1,884.2l.80-.80l.80,.80l-.80,.80zM103.9,885.0l.80-.80l.80,.80l-.80,.80zM104.7,885.8l.80-.80l.80,.80l-.80,.80zM105.5,886.6l.80-.80l.80,.80l-.80,.80zM63.3,842.9l.80-.80l.80,.80l-.80,.80zM64.9,844.5l.80-.80l.80,.80l-.80,.80zM66.5,846.1l.80-.80l.80,.80l-.80,.80zM68.1,847.7l.80-.80l.80,.80l-.80,.80zM68.9,848.5l.80-.80l.80,.80l-.80,.80zM72.9,852.4l.80-.80l.80,.80l-.80,.80zM73.7,853.2l.80-.80l.80,.80l-.80,.80zM74.5,854.0l.80-.80l.80,.80l-.80,.80zM75.3,854.8l.80-.80l.80,.80l-.80,.80zM77.7,857.2l.80-.80l.80,.80l-.80,.80zM80.8,860.4l.80-.80l.80,.80l-.80,.80zM83.2,862.8l.80-.80l.80,.80l-.80,.80zM84.0,863.6l.80-.80l.80,.80l-.80,.80zM84.8,864.4l.80-.80l.80,.80l-.80,.80zM85.6,865.2l.80-.80l.80,.80l-.80,.80zM86.4,866.0l.80-.80l.80,.80l-.80,.80zM87.2,866.8l.80-.80l.80,.80l-.80,.80zM88.0,867.5l.80-.80l.80,.80l-.80,.80zM88.8,868.3l.80-.80l.80,.80l-.80,.80zM89.6,869.1l.80-.80l.80,.80l-.80,.80zM90.4,869.9l.80-.80l.80,.80l-.80,.80zM91.2,870.7l.80-.80l.80,.80l-.80,.80zM93.6,873.1l.80-.80l.80,.80l-.80,.80zM95.9,875.5l.80-.80l.80,.80l-.80,.80zM96.7,876.3l.80-.80l.80,.80l-.80,.80zM97.5,877.1l.80-.80l.80,.80l-.80,.80zM98.3,877.9l.80-.80l.80,.80l-.80,.80zM99.1,878.7l.80-.80l.80,.80l-.80,.80zM99.9,879.5l.80-.80l.80,.80l-.80,.80zM100.7,880.3l.80-.80l.80,.80l-.80,.80zM101.5,881.1l.80-.80l.80,.80l-.80,.80zM103.1,882.7l.80-.80l.80,.80l-.80,.80zM103.9,883.4l.80-.80l.80,.80l-.80,.80zM104.7,884.2l.80-.80l.80,.80l-.80,.80zM105.5,885.0l.80-.80l.80,.80l-.80,.80zM106.3,885.8l.80-.80l.80,.80l-.80,.80zM86.4,864.4l.80-.80l.80,.80l-.80,.80zM88.8,866.8l.80-.80l.80,.80l-.80,.80zM96.7,874.7l.80-.80l.80,.80l-.80,.80zM97.5,875.5l.80-.80l.80,.80l-.80,.80zM98.3,876.3l.80-.80l.80,.80l-.80,.80zM99.1,877.1l.80-.80l.80,.80l-.80,.80zM102.3,880.3l.80-.80l.80,.80l-.80,.80zM103.9,881.9l.80-.80l.80,.80l-.80,.80zM106.3,884.2l.80-.80l.80,.80l-.80,.80zM66.5,842.9l.80-.80l.80,.80l-.80,.80zM68.1,844.5l.80-.80l.80,.80l-.80,.80zM69.7,846.1l.80-.80l.80,.80l-.80,.80zM72.1,848.5l.80-.80l.80,.80l-.80,.80zM72.9,849.3l.80-.80l.80,.80l-.80,.80zM74.5,850.8l.80-.80l.80,.80l-.80,.80zM75.3,851.6l.80-.80l.80,.80l-.80,.80zM76.1,852.4l.80-.80l.80,.80l-.80,.80zM77.7,854.0l.80-.80l.80,.80l-.80,.80zM79.2,855.6l.80-.80l.80,.80l-.80,.80zM82.4,858.8l.80-.80l.80,.80l-.80,.80zM83.2,859.6l.80-.80l.80,.80l-.80,.80zM85.6,862.0l.80-.80l.80,.80l-.80,.80zM87.2,863.6l.80-.80l.80,.80l-.80,.80zM88.0,864.4l.80-.80l.80,.80l-.80,.80zM88.8,865.2l.80-.80l.80,.80l-.80,.80zM89.6,866.0l.80-.80l.80,.80l-.80,.80zM91.2,867.5l.80-.80l.80,.80l-.80,.80zM92.0,868.3l.80-.80l.80,.80l-.80,.80zM92.8,869.1l.80-.80l.80,.80l-.80,.80zM94.3,870.7l.80-.80l.80,.80l-.80,.80zM95.1,871.5l.80-.80l.80,.80l-.80,.80zM95.9,872.3l.80-.80l.80,.80l-.80,.80zM96.7,873.1l.80-.80l.80,.80l-.80,.80zM97.5,873.9l.80-.80l.80,.80l-.80,.80zM98.3,874.7l.80-.80l.80,.80l-.80,.80zM99.1,875.5l.80-.80l.80,.80l-.80,.80zM99.9,876.3l.80-.80l.80,.80l-.80,.80zM100.7,877.1l.80-.80l.80,.80l-.80,.80zM102.3,878.7l.80-.80l.80,.80l-.80,.80zM103.1,879.5l.80-.80l.80,.80l-.80,.80zM103.9,880.3l.80-.80l.80,.80l-.80,.80zM104.7,881.1l.80-.80l.80,.80l-.80,.80zM105.5,881.9l.80-.80l.80,.80l-.80,.80zM106.3,882.7l.80-.80l.80,.80l-.80,.80zM107.1,883.4l.80-.80l.80,.80l-.80,.80zM107.9,884.2l.80-.80l.80,.80l-.80,.80zM68.9,843.7l.80-.80l.80,.80l-.80,.80zM93.6,868.3l.80-.80l.80,.80l-.80,.80zM95.9,870.7l.80-.80l.80,.80l-.80,.80zM99.1,873.9l.80-.80l.80,.80l-.80,.80zM99.9,874.7l.80-.80l.80,.80l-.80,.80zM100.7,875.5l.80-.80l.80,.80l-.80,.80zM101.5,876.3l.80-.80l.80,.80l-.80,.80zM69.7,842.9l.80-.80l.80,.80l-.80,.80zM71.3,844.5l.80-.80l.80,.80l-.80,.80zM72.1,845.3l.80-.80l.80,.80l-.80,.80zM72.9,846.1l.80-.80l.80,.80l-.80,.80zM73.7,846.9l.80-.80l.80,.80l-.80,.80zM74.5,847.7l.80-.80l.80,.80l-.80,.80zM76.1,849.3l.80-.80l.80,.80l-.80,.80zM76.9,850.1l.80-.80l.80,.80l-.80,.80zM77.7,850.8l.80-.80l.80,.80l-.80,.80zM79.2,852.4l.80-.80l.80,.80l-.80,.80zM80.8,854.0l.80-.80l.80,.80l-.80,.80zM81.6,854.8l.80-.80l.80,.80l-.80,.80zM82.4,855.6l.80-.80l.80,.80l-.80,.80zM83.2,856.4l.80-.80l.80,.80l-.80,.80zM84.8,858.0l.80-.80l.80,.80l-.80,.80zM85.6,858.8l.80-.80l.80,.80l-.80,.80zM86.4,859.6l.80-.80l.80,.80l-.80,.80zM87.2,860.4l.80-.80l.80,.80l-.80,.80zM88.0,861.2l.80-.80l.80,.80l-.80,.80zM88.8,862.0l.80-.80l.80,.80l-.80,.80zM89.6,862.8l.80-.80l.80,.80l-.80,.80zM91.2,864.4l.80-.80l.80,.80l-.80,.80zM92.0,865.2l.80-.80l.80,.80l-.80,.80zM92.8,866.0l.80-.80l.80,.80l-.80,.80zM93.6,866.8l.80-.80l.80,.80l-.80,.80zM94.3,867.5l.80-.80l.80,.80l-.80,.80zM95.1,868.3l.80-.80l.80,.80l-.80,.80zM95.9,869.1l.80-.80l.80,.80l-.80,.80zM96.7,869.9l.80-.80l.80,.80l-.80,.80zM97.5,870.7l.80-.80l.80,.80l-.80,.80zM98.3,871.5l.80-.80l.80,.80l-.80,.80zM99.1,872.3l.80-.80l.80,.80l-.80,.80zM99.9,873.1l.80-.80l.80,.80l-.80,.80zM100.7,873.9l.80-.80l.80,.80l-.80,.80zM101.5,874.7l.80-.80l.80,.80l-.80,.80zM102.3,875.5l.80-.80l.80,.80l-.80,.80zM103.1,876.3l.80-.80l.80,.80l-.80,.80zM103.9,877.1l.80-.80l.80,.80l-.80,.80zM104.7,877.9l.80-.80l.80,.80l-.80,.80zM105.5,878.7l.80-.80l.80,.80l-.80,.80zM106.3,879.5l.80-.80l.80,.80l-.80,.80zM107.1,880.3l.80-.80l.80,.80l-.80,.80zM107.9,881.1l.80-.80l.80,.80l-.80,.80zM108.7,881.9l.80-.80l.80,.80l-.80,.80zM109.5,882.7l.80-.80l.80,.80l-.80,.80zM92.0,863.6l.80-.80l.80,.80l-.80,.80zM94.3,866.0l.80-.80l.80,.80l-.80,.80zM95.1,866.8l.80-.80l.80,.80l-.80,.80zM99.9,871.5l.80-.80l.80,.80l-.80,.80zM100.7,872.3l.80-.80l.80,.80l-.80,.80zM105.5,877.1l.80-.80l.80,.80l-.80,.80zM109.5,881.1l.80-.80l.80,.80l-.80,.80zM110.3,881.9l.80-.80l.80,.80l-.80,.80zM72.9,842.9l.80-.80l.80,.80l-.80,.80zM76.1,846.1l.80-.80l.80,.80l-.80,.80zM77.7,847.7l.80-.80l.80,.80l-.80,.80zM78.4,848.5l.80-.80l.80,.80l-.80,.80zM79.2,849.3l.80-.80l.80,.80l-.80,.80zM80.8,850.8l.80-.80l.80,.80l-.80,.80zM82.4,852.4l.80-.80l.80,.80l-.80,.80zM83.2,853.2l.80-.80l.80,.80l-.80,.80zM84.0,854.0l.80-.80l.80,.80l-.80,.80zM85.6,855.6l.80-.80l.80,.80l-.80,.80zM86.4,856.4l.80-.80l.80,.80l-.80,.80zM87.2,857.2l.80-.80l.80,.80l-.80,.80zM88.0,858.0l.80-.80l.80,.80l-.80,.80zM88.8,858.8l.80-.80l.80,.80l-.80,.80zM89.6,859.6l.80-.80l.80,.80l-.80,.80zM90.4,860.4l.80-.80l.80,.80l-.80,.80zM91.2,861.2l.80-.80l.80,.80l-.80,.80zM92.0,862.0l.80-.80l.80,.80l-.80,.80zM92.8,862.8l.80-.80l.80,.80l-.80,.80zM93.6,863.6l.80-.80l.80,.80l-.80,.80zM94.3,864.4l.80-.80l.80,.80l-.80,.80zM95.1,865.2l.80-.80l.80,.80l-.80,.80zM95.9,866.0l.80-.80l.80,.80l-.80,.80zM97.5,867.5l.80-.80l.80,.80l-.80,.80zM98.3,868.3l.80-.80l.80,.80l-.80,.80zM99.1,869.1l.80-.80l.80,.80l-.80,.80zM99.9,869.9l.80-.80l.80,.80l-.80,.80zM100.7,870.7l.80-.80l.80,.80l-.80,.80zM101.5,871.5l.80-.80l.80,.80l-.80,.80zM102.3,872.3l.80-.80l.80,.80l-.80,.80zM103.1,873.1l.80-.80l.80,.80l-.80,.80zM103.9,873.9l.80-.80l.80,.80l-.80,.80zM104.7,874.7l.80-.80l.80,.80l-.80,.80zM105.5,875.5l.80-.80l.80,.80l-.80,.80zM106.3,876.3l.80-.80l.80,.80l-.80,.80zM107.1,877.1l.80-.80l.80,.80l-.80,.80zM107.9,877.9l.80-.80l.80,.80l-.80,.80zM108.7,878.7l.80-.80l.80,.80l-.80,.80zM109.5,879.5l.80-.80l.80,.80l-.80,.80zM110.3,880.3l.80-.80l.80,.80l-.80,.80zM111.0,881.1l.80-.80l.80,.80l-.80,.80zM81.6,850.1l.80-.80l.80,.80l-.80,.80zM83.2,851.6l.80-.80l.80,.80l-.80,.80zM87.2,855.6l.80-.80l.80,.80l-.80,.80zM92.0,860.4l.80-.80l.80,.80l-.80,.80zM93.6,862.0l.80-.80l.80,.80l-.80,.80zM95.1,863.6l.80-.80l.80,.80l-.80,.80zM95.9,864.4l.80-.80l.80,.80l-.80,.80zM96.7,865.2l.80-.80l.80,.80l-.80,.80zM99.1,867.5l.80-.80l.80,.80l-.80,.80zM101.5,869.9l.80-.80l.80,.80l-.80,.80zM102.3,870.7l.80-.80l.80,.80l-.80,.80zM103.1,871.5l.80-.80l.80,.80l-.80,.80zM103.9,872.3l.80-.80l.80,.80l-.80,.80zM104.7,873.1l.80-.80l.80,.80l-.80,.80zM105.5,873.9l.80-.80l.80,.80l-.80,.80zM107.1,875.5l.80-.80l.80,.80l-.80,.80zM108.7,877.1l.80-.80l.80,.80l-.80,.80zM110.3,878.7l.80-.80l.80,.80l-.80,.80zM111.0,879.5l.80-.80l.80,.80l-.80,.80zM111.8,880.3l.80-.80l.80,.80l-.80,.80zM92.0,858.8l.80-.80l.80,.80l-.80,.80zM95.9,862.8l.80-.80l.80,.80l-.80,.80zM99.9,866.8l.80-.80l.80,.80l-.80,.80zM102.3,869.1l.80-.80l.80,.80l-.80,.80zM103.1,869.9l.80-.80l.80,.80l-.80,.80zM103.9,870.7l.80-.80l.80,.80l-.80,.80zM104.7,871.5l.80-.80l.80,.80l-.80,.80zM109.5,876.3l.80-.80l.80,.80l-.80,.80zM111.8,878.7l.80-.80l.80,.80l-.80,.80zM112.6,879.5l.80-.80l.80,.80l-.80,.80zM80.0,845.3l.80-.80l.80,.80l-.80,.80zM83.2,848.5l.80-.80l.80,.80l-.80,.80zM92.8,858.0l.80-.80l.80,.80l-.80,.80zM97.5,862.8l.80-.80l.80,.80l-.80,.80zM98.3,863.6l.80-.80l.80,.80l-.80,.80zM99.9,865.2l.80-.80l.80,.80l-.80,.80zM103.9,869.1l.80-.80l.80,.80l-.80,.80zM104.7,869.9l.80-.80l.80,.80l-.80,.80zM105.5,870.7l.80-.80l.80,.80l-.80,.80zM106.3,871.5l.80-.80l.80,.80l-.80,.80zM108.7,873.9l.80-.80l.80,.80l-.80,.80zM110.3,875.5l.80-.80l.80,.80l-.80,.80zM111.8,877.1l.80-.80l.80,.80l-.80,.80zM112.6,877.9l.80-.80l.80,.80l-.80,.80zM113.4,878.7l.80-.80l.80,.80l-.80,.80zM79.2,842.9l.80-.80l.80,.80l-.80,.80zM80.8,844.5l.80-.80l.80,.80l-.80,.80zM81.6,845.3l.80-.80l.80,.80l-.80,.80zM84.0,847.7l.80-.80l.80,.80l-.80,.80zM85.6,849.3l.80-.80l.80,.80l-.80,.80zM88.0,851.6l.80-.80l.80,.80l-.80,.80zM92.0,855.6l.80-.80l.80,.80l-.80,.80zM93.6,857.2l.80-.80l.80,.80l-.80,.80zM94.3,858.0l.80-.80l.80,.80l-.80,.80zM95.1,858.8l.80-.80l.80,.80l-.80,.80zM95.9,859.6l.80-.80l.80,.80l-.80,.80zM97.5,861.2l.80-.80l.80,.80l-.80,.80zM98.3,862.0l.80-.80l.80,.80l-.80,.80zM99.1,862.8l.80-.80l.80,.80l-.80,.80zM99.9,863.6l.80-.80l.80,.80l-.80,.80zM100.7,864.4l.80-.80l.80,.80l-.80,.80zM101.5,865.2l.80-.80l.80,.80l-.80,.80zM102.3,866.0l.80-.80l.80,.80l-.80,.80zM103.1,866.8l.80-.80l.80,.80l-.80,.80zM103.9,867.5l.80-.80l.80,.80l-.80,.80zM104.7,868.3l.80-.80l.80,.80l-.80,.80zM105.5,869.1l.80-.80l.80,.80l-.80,.80zM106.3,869.9l.80-.80l.80,.80l-.80,.80zM107.1,870.7l.80-.80l.80,.80l-.80,.80zM107.9,871.5l.80-.80l.80,.80l-.80,.80zM108.7,872.3l.80-.80l.80,.80l-.80,.80zM109.5,873.1l.80-.80l.80,.80l-.80,.80zM110.3,873.9l.80-.80l.80,.80l-.80,.80zM111.0,874.7l.80-.80l.80,.80l-.80,.80zM111.8,875.5l.80-.80l.80,.80l-.80,.80zM113.4,877.1l.80-.80l.80,.80l-.80,.80zM114.2,877.9l.80-.80l.80,.80l-.80,.80zM94.3,856.4l.80-.80l.80,.80l-.80,.80zM104.7,866.8l.80-.80l.80,.80l-.80,.80zM106.3,868.3l.80-.80l.80,.80l-.80,.80zM110.3,872.3l.80-.80l.80,.80l-.80,.80zM87.2,847.7l.80-.80l.80,.80l-.80,.80zM91.2,851.6l.80-.80l.80,.80l-.80,.80zM93.6,854.0l.80-.80l.80,.80l-.80,.80zM95.1,855.6l.80-.80l.80,.80l-.80,.80zM99.1,859.6l.80-.80l.80,.80l-.80,.80zM99.9,860.4l.80-.80l.80,.80l-.80,.80zM100.7,861.2l.80-.80l.80,.80l-.80,.80zM103.1,863.6l.80-.80l.80,.80l-.80,.80zM105.5,866.0l.80-.80l.80,.80l-.80,.80zM106.3,866.8l.80-.80l.80,.80l-.80,.80zM107.1,867.5l.80-.80l.80,.80l-.80,.80zM107.9,868.3l.80-.80l.80,.80l-.80,.80zM108.7,869.1l.80-.80l.80,.80l-.80,.80zM109.5,869.9l.80-.80l.80,.80l-.80,.80zM110.3,870.7l.80-.80l.80,.80l-.80,.80zM111.0,871.5l.80-.80l.80,.80l-.80,.80zM111.8,872.3l.80-.80l.80,.80l-.80,.80zM112.6,873.1l.80-.80l.80,.80l-.80,.80zM115.0,875.5l.80-.80l.80,.80l-.80,.80zM115.8,876.3l.80-.80l.80,.80l-.80,.80zM86.4,845.3l.80-.80l.80,.80l-.80,.80zM95.9,854.8l.80-.80l.80,.80l-.80,.80zM98.3,857.2l.80-.80l.80,.80l-.80,.80zM99.9,858.8l.80-.80l.80,.80l-.80,.80zM100.7,859.6l.80-.80l.80,.80l-.80,.80zM101.5,860.4l.80-.80l.80,.80l-.80,.80zM103.9,862.8l.80-.80l.80,.80l-.80,.80zM104.7,863.6l.80-.80l.80,.80l-.80,.80zM105.5,864.4l.80-.80l.80,.80l-.80,.80zM106.3,865.2l.80-.80l.80,.80l-.80,.80zM107.1,866.0l.80-.80l.80,.80l-.80,.80zM107.9,866.8l.80-.80l.80,.80l-.80,.80zM108.7,867.5l.80-.80l.80,.80l-.80,.80zM109.5,868.3l.80-.80l.80,.80l-.80,.80zM110.3,869.1l.80-.80l.80,.80l-.80,.80zM111.8,870.7l.80-.80l.80,.80l-.80,.80zM113.4,872.3l.80-.80l.80,.80l-.80,.80zM114.2,873.1l.80-.80l.80,.80l-.80,.80zM115.0,873.9l.80-.80l.80,.80l-.80,.80zM115.8,874.7l.80-.80l.80,.80l-.80,.80zM116.6,875.5l.80-.80l.80,.80l-.80,.80zM88.8,846.1l.80-.80l.80,.80l-.80,.80zM92.8,850.1l.80-.80l.80,.80l-.80,.80zM95.1,852.4l.80-.80l.80,.80l-.80,.80zM96.7,854.0l.80-.80l.80,.80l-.80,.80zM97.5,854.8l.80-.80l.80,.80l-.80,.80zM100.7,858.0l.80-.80l.80,.80l-.80,.80zM101.5,858.8l.80-.80l.80,.80l-.80,.80zM102.3,859.6l.80-.80l.80,.80l-.80,.80zM104.7,862.0l.80-.80l.80,.80l-.80,.80zM106.3,863.6l.80-.80l.80,.80l-.80,.80zM107.1,864.4l.80-.80l.80,.80l-.80,.80zM107.9,865.2l.80-.80l.80,.80l-.80,.80zM108.7,866.0l.80-.80l.80,.80l-.80,.80zM109.5,866.8l.80-.80l.80,.80l-.80,.80zM110.3,867.5l.80-.80l.80,.80l-.80,.80zM112.6,869.9l.80-.80l.80,.80l-.80,.80zM114.2,871.5l.80-.80l.80,.80l-.80,.80zM115.8,873.1l.80-.80l.80,.80l-.80,.80zM116.6,873.9l.80-.80l.80,.80l-.80,.80zM117.4,874.7l.80-.80l.80,.80l-.80,.80zM102.3,858.0l.80-.80l.80,.80l-.80,.80zM108.7,864.4l.80-.80l.80,.80l-.80,.80zM109.5,865.2l.80-.80l.80,.80l-.80,.80zM115.0,870.7l.80-.80l.80,.80l-.80,.80zM88.8,842.9l.80-.80l.80,.80l-.80,.80zM98.3,852.4l.80-.80l.80,.80l-.80,.80zM99.1,853.2l.80-.80l.80,.80l-.80,.80zM102.3,856.4l.80-.80l.80,.80l-.80,.80zM103.1,857.2l.80-.80l.80,.80l-.80,.80zM103.9,858.0l.80-.80l.80,.80l-.80,.80zM106.3,860.4l.80-.80l.80,.80l-.80,.80zM107.1,861.2l.80-.80l.80,.80l-.80,.80zM108.7,862.8l.80-.80l.80,.80l-.80,.80zM109.5,863.6l.80-.80l.80,.80l-.80,.80zM110.3,864.4l.80-.80l.80,.80l-.80,.80zM111.8,866.0l.80-.80l.80,.80l-.80,.80zM112.6,866.8l.80-.80l.80,.80l-.80,.80zM114.2,868.3l.80-.80l.80,.80l-.80,.80zM115.0,869.1l.80-.80l.80,.80l-.80,.80zM115.8,869.9l.80-.80l.80,.80l-.80,.80zM116.6,870.7l.80-.80l.80,.80l-.80,.80zM117.4,871.5l.80-.80l.80,.80l-.80,.80zM118.2,872.3l.80-.80l.80,.80l-.80,.80zM119.0,873.1l.80-.80l.80,.80l-.80,.80zM109.5,862.0l.80-.80l.80,.80l-.80,.80zM112.6,865.2l.80-.80l.80,.80l-.80,.80zM115.0,867.5l.80-.80l.80,.80l-.80,.80zM119.8,872.3l.80-.80l.80,.80l-.80,.80zM92.0,842.9l.80-.80l.80,.80l-.80,.80zM92.8,843.7l.80-.80l.80,.80l-.80,.80zM99.9,850.8l.80-.80l.80,.80l-.80,.80zM100.7,851.6l.80-.80l.80,.80l-.80,.80zM103.9,854.8l.80-.80l.80,.80l-.80,.80zM104.7,855.6l.80-.80l.80,.80l-.80,.80zM108.7,859.6l.80-.80l.80,.80l-.80,.80zM109.5,860.4l.80-.80l.80,.80l-.80,.80zM110.3,861.2l.80-.80l.80,.80l-.80,.80zM111.0,862.0l.80-.80l.80,.80l-.80,.80zM111.8,862.8l.80-.80l.80,.80l-.80,.80zM112.6,863.6l.80-.80l.80,.80l-.80,.80zM113.4,864.4l.80-.80l.80,.80l-.80,.80zM114.2,865.2l.80-.80l.80,.80l-.80,.80zM115.0,866.0l.80-.80l.80,.80l-.80,.80zM115.8,866.8l.80-.80l.80,.80l-.80,.80zM117.4,868.3l.80-.80l.80,.80l-.80,.80zM118.2,869.1l.80-.80l.80,.80l-.80,.80zM119.0,869.9l.80-.80l.80,.80l-.80,.80zM119.8,870.7l.80-.80l.80,.80l-.80,.80zM120.6,871.5l.80-.80l.80,.80l-.80,.80zM108.7,858.0l.80-.80l.80,.80l-.80,.80zM111.0,860.4l.80-.80l.80,.80l-.80,.80zM111.8,861.2l.80-.80l.80,.80l-.80,.80zM112.6,862.0l.80-.80l.80,.80l-.80,.80zM113.4,862.8l.80-.80l.80,.80l-.80,.80zM114.2,863.6l.80-.80l.80,.80l-.80,.80zM118.2,867.5l.80-.80l.80,.80l-.80,.80zM120.6,869.9l.80-.80l.80,.80l-.80,.80zM121.4,870.7l.80-.80l.80,.80l-.80,.80zM111.8,859.6l.80-.80l.80,.80l-.80,.80zM113.4,861.2l.80-.80l.80,.80l-.80,.80zM114.2,862.0l.80-.80l.80,.80l-.80,.80zM115.0,862.8l.80-.80l.80,.80l-.80,.80zM117.4,865.2l.80-.80l.80,.80l-.80,.80zM119.0,866.8l.80-.80l.80,.80l-.80,.80zM120.6,868.3l.80-.80l.80,.80l-.80,.80zM121.4,869.1l.80-.80l.80,.80l-.80,.80zM122.2,869.9l.80-.80l.80,.80l-.80,.80zM102.3,848.5l.80-.80l.80,.80l-.80,.80zM107.1,853.2l.80-.80l.80,.80l-.80,.80zM112.6,858.8l.80-.80l.80,.80l-.80,.80zM114.2,860.4l.80-.80l.80,.80l-.80,.80zM115.8,862.0l.80-.80l.80,.80l-.80,.80zM119.8,866.0l.80-.80l.80,.80l-.80,.80zM123.0,869.1l.80-.80l.80,.80l-.80,.80zM113.4,858.0l.80-.80l.80,.80l-.80,.80zM114.2,858.8l.80-.80l.80,.80l-.80,.80zM115.8,860.4l.80-.80l.80,.80l-.80,.80zM120.6,865.2l.80-.80l.80,.80l-.80,.80zM103.9,846.9l.80-.80l.80,.80l-.80,.80zM108.7,851.6l.80-.80l.80,.80l-.80,.80zM109.5,852.4l.80-.80l.80,.80l-.80,.80zM111.8,854.8l.80-.80l.80,.80l-.80,.80zM114.2,857.2l.80-.80l.80,.80l-.80,.80zM115.0,858.0l.80-.80l.80,.80l-.80,.80zM115.8,858.8l.80-.80l.80,.80l-.80,.80zM116.6,859.6l.80-.80l.80,.80l-.80,.80zM117.4,860.4l.80-.80l.80,.80l-.80,.80zM119.0,862.0l.80-.80l.80,.80l-.80,.80zM119.8,862.8l.80-.80l.80,.80l-.80,.80zM120.6,863.6l.80-.80l.80,.80l-.80,.80zM121.4,864.4l.80-.80l.80,.80l-.80,.80zM122.2,865.2l.80-.80l.80,.80l-.80,.80zM123.0,866.0l.80-.80l.80,.80l-.80,.80zM123.8,866.8l.80-.80l.80,.80l-.80,.80zM124.6,867.5l.80-.80l.80,.80l-.80,.80zM116.6,858.0l.80-.80l.80,.80l-.80,.80zM117.4,857.2l.80-.80l.80,.80l-.80,.80zM121.4,861.2l.80-.80l.80,.80l-.80,.80zM126.2,866.0l.80-.80l.80,.80l-.80,.80zM106.3,844.5l.80-.80l.80,.80l-.80,.80zM111.0,849.3l.80-.80l.80,.80l-.80,.80zM116.6,854.8l.80-.80l.80,.80l-.80,.80zM117.4,855.6l.80-.80l.80,.80l-.80,.80zM118.2,856.4l.80-.80l.80,.80l-.80,.80zM119.0,857.2l.80-.80l.80,.80l-.80,.80zM119.8,858.0l.80-.80l.80,.80l-.80,.80zM122.2,860.4l.80-.80l.80,.80l-.80,.80zM123.8,862.0l.80-.80l.80,.80l-.80,.80zM125.4,863.6l.80-.80l.80,.80l-.80,.80zM126.2,864.4l.80-.80l.80,.80l-.80,.80zM126.9,865.2l.80-.80l.80,.80l-.80,.80zM119.0,855.6l.80-.80l.80,.80l-.80,.80zM123.0,859.6l.80-.80l.80,.80l-.80,.80zM124.6,861.2l.80-.80l.80,.80l-.80,.80zM126.9,863.6l.80-.80l.80,.80l-.80,.80zM127.7,864.4l.80-.80l.80,.80l-.80,.80zM107.9,842.9l.80-.80l.80,.80l-.80,.80zM108.7,843.7l.80-.80l.80,.80l-.80,.80zM111.8,846.9l.80-.80l.80,.80l-.80,.80zM112.6,847.7l.80-.80l.80,.80l-.80,.80zM115.8,850.8l.80-.80l.80,.80l-.80,.80zM116.6,851.6l.80-.80l.80,.80l-.80,.80zM117.4,852.4l.80-.80l.80,.80l-.80,.80zM118.2,853.2l.80-.80l.80,.80l-.80,.80zM119.0,854.0l.80-.80l.80,.80l-.80,.80zM119.8,854.8l.80-.80l.80,.80l-.80,.80zM120.6,855.6l.80-.80l.80,.80l-.80,.80zM121.4,856.4l.80-.80l.80,.80l-.80,.80zM122.2,857.2l.80-.80l.80,.80l-.80,.80zM123.0,858.0l.80-.80l.80,.80l-.80,.80zM123.8,858.8l.80-.80l.80,.80l-.80,.80zM125.4,860.4l.80-.80l.80,.80l-.80,.80zM126.2,861.2l.80-.80l.80,.80l-.80,.80zM126.9,862.0l.80-.80l.80,.80l-.80,.80zM127.7,862.8l.80-.80l.80,.80l-.80,.80zM128.5,863.6l.80-.80l.80,.80l-.80,.80zM111.0,844.5l.80-.80l.80,.80l-.80,.80zM113.4,846.9l.80-.80l.80,.80l-.80,.80zM114.2,847.7l.80-.80l.80,.80l-.80,.80zM116.6,850.1l.80-.80l.80,.80l-.80,.80zM119.0,852.4l.80-.80l.80,.80l-.80,.80zM119.8,853.2l.80-.80l.80,.80l-.80,.80zM120.6,854.0l.80-.80l.80,.80l-.80,.80zM121.4,854.8l.80-.80l.80,.80l-.80,.80zM122.2,855.6l.80-.80l.80,.80l-.80,.80zM124.6,858.0l.80-.80l.80,.80l-.80,.80zM126.2,859.6l.80-.80l.80,.80l-.80,.80zM126.9,860.4l.80-.80l.80,.80l-.80,.80zM128.5,862.0l.80-.80l.80,.80l-.80,.80zM129.3,862.8l.80-.80l.80,.80l-.80,.80zM114.2,844.5l.80-.80l.80,.80l-.80,.80zM115.0,845.3l.80-.80l.80,.80l-.80,.80zM119.8,850.1l.80-.80l.80,.80l-.80,.80zM120.6,850.8l.80-.80l.80,.80l-.80,.80zM121.4,851.6l.80-.80l.80,.80l-.80,.80zM122.2,852.4l.80-.80l.80,.80l-.80,.80zM123.0,853.2l.80-.80l.80,.80l-.80,.80zM123.8,854.0l.80-.80l.80,.80l-.80,.80zM127.7,858.0l.80-.80l.80,.80l-.80,.80zM128.5,858.8l.80-.80l.80,.80l-.80,.80zM129.3,859.6l.80-.80l.80,.80l-.80,.80zM130.1,860.4l.80-.80l.80,.80l-.80,.80zM130.9,861.2l.80-.80l.80,.80l-.80,.80zM121.4,850.1l.80-.80l.80,.80l-.80,.80zM126.9,855.6l.80-.80l.80,.80l-.80,.80zM116.6,843.7l.80-.80l.80,.80l-.80,.80zM119.8,846.9l.80-.80l.80,.80l-.80,.80zM122.2,849.3l.80-.80l.80,.80l-.80,.80zM123.0,850.1l.80-.80l.80,.80l-.80,.80zM123.8,850.8l.80-.80l.80,.80l-.80,.80zM124.6,851.6l.80-.80l.80,.80l-.80,.80zM125.4,852.4l.80-.80l.80,.80l-.80,.80zM127.7,854.8l.80-.80l.80,.80l-.80,.80zM129.3,856.4l.80-.80l.80,.80l-.80,.80zM130.1,857.2l.80-.80l.80,.80l-.80,.80zM131.7,858.8l.80-.80l.80,.80l-.80,.80zM132.5,859.6l.80-.80l.80,.80l-.80,.80zM117.4,842.9l.80-.80l.80,.80l-.80,.80zM118.2,843.7l.80-.80l.80,.80l-.80,.80zM120.6,846.1l.80-.80l.80,.80l-.80,.80zM121.4,846.9l.80-.80l.80,.80l-.80,.80zM123.0,848.5l.80-.80l.80,.80l-.80,.80zM123.8,849.3l.80-.80l.80,.80l-.80,.80zM124.6,850.1l.80-.80l.80,.80l-.80,.80zM125.4,850.8l.80-.80l.80,.80l-.80,.80zM126.2,851.6l.80-.80l.80,.80l-.80,.80zM126.9,852.4l.80-.80l.80,.80l-.80,.80zM127.7,853.2l.80-.80l.80,.80l-.80,.80zM128.5,854.0l.80-.80l.80,.80l-.80,.80zM129.3,854.8l.80-.80l.80,.80l-.80,.80zM130.1,855.6l.80-.80l.80,.80l-.80,.80zM130.9,856.4l.80-.80l.80,.80l-.80,.80zM131.7,857.2l.80-.80l.80,.80l-.80,.80zM132.5,858.0l.80-.80l.80,.80l-.80,.80zM133.3,858.8l.80-.80l.80,.80l-.80,.80zM121.4,845.3l.80-.80l.80,.80l-.80,.80zM123.8,847.7l.80-.80l.80,.80l-.80,.80zM124.6,848.5l.80-.80l.80,.80l-.80,.80zM125.4,849.3l.80-.80l.80,.80l-.80,.80zM126.2,850.1l.80-.80l.80,.80l-.80,.80zM126.9,850.8l.80-.80l.80,.80l-.80,.80zM127.7,851.6l.80-.80l.80,.80l-.80,.80zM128.5,852.4l.80-.80l.80,.80l-.80,.80zM129.3,853.2l.80-.80l.80,.80l-.80,.80zM130.9,854.8l.80-.80l.80,.80l-.80,.80zM131.7,855.6l.80-.80l.80,.80l-.80,.80zM133.3,857.2l.80-.80l.80,.80l-.80,.80zM134.1,858.0l.80-.80l.80,.80l-.80,.80zM126.2,848.5l.80-.80l.80,.80l-.80,.80zM131.7,854.0l.80-.80l.80,.80l-.80,.80zM127.7,848.5l.80-.80l.80,.80l-.80,.80zM132.5,853.2l.80-.80l.80,.80l-.80,.80zM135.7,856.4l.80-.80l.80,.80l-.80,.80zM124.6,843.7l.80-.80l.80,.80l-.80,.80zM126.9,846.1l.80-.80l.80,.80l-.80,.80zM127.7,846.9l.80-.80l.80,.80l-.80,.80zM129.3,848.5l.80-.80l.80,.80l-.80,.80zM131.7,850.8l.80-.80l.80,.80l-.80,.80zM133.3,852.4l.80-.80l.80,.80l-.80,.80zM134.9,854.0l.80-.80l.80,.80l-.80,.80zM135.7,854.8l.80-.80l.80,.80l-.80,.80zM136.5,855.6l.80-.80l.80,.80l-.80,.80zM129.3,846.9l.80-.80l.80,.80l-.80,.80zM132.5,850.1l.80-.80l.80,.80l-.80,.80zM134.1,851.6l.80-.80l.80,.80l-.80,.80zM136.5,854.0l.80-.80l.80,.80l-.80,.80zM137.3,854.8l.80-.80l.80,.80l-.80,.80zM133.3,849.3l.80-.80l.80,.80l-.80,.80zM137.3,853.2l.80-.80l.80,.80l-.80,.80zM128.5,842.9l.80-.80l.80,.80l-.80,.80zM129.3,843.7l.80-.80l.80,.80l-.80,.80zM130.1,844.5l.80-.80l.80,.80l-.80,.80zM130.9,845.3l.80-.80l.80,.80l-.80,.80zM131.7,846.1l.80-.80l.80,.80l-.80,.80zM132.5,846.9l.80-.80l.80,.80l-.80,.80zM133.3,847.7l.80-.80l.80,.80l-.80,.80zM134.1,848.5l.80-.80l.80,.80l-.80,.80zM135.7,850.1l.80-.80l.80,.80l-.80,.80zM136.5,850.8l.80-.80l.80,.80l-.80,.80zM138.1,852.4l.80-.80l.80,.80l-.80,.80zM138.9,853.2l.80-.80l.80,.80l-.80,.80zM130.1,842.9l.80-.80l.80,.80l-.80,.80zM130.9,843.7l.80-.80l.80,.80l-.80,.80zM131.7,844.5l.80-.80l.80,.80l-.80,.80zM132.5,845.3l.80-.80l.80,.80l-.80,.80zM133.3,846.1l.80-.80l.80,.80l-.80,.80zM134.1,846.9l.80-.80l.80,.80l-.80,.80zM134.9,847.7l.80-.80l.80,.80l-.80,.80zM136.5,849.3l.80-.80l.80,.80l-.80,.80zM137.3,850.1l.80-.80l.80,.80l-.80,.80zM138.9,851.6l.80-.80l.80,.80l-.80,.80zM139.7,852.4l.80-.80l.80,.80l-.80,.80zM131.7,842.9l.80-.80l.80,.80l-.80,.80zM132.5,843.7l.80-.80l.80,.80l-.80,.80zM133.3,844.5l.80-.80l.80,.80l-.80,.80zM134.9,846.1l.80-.80l.80,.80l-.80,.80zM135.7,846.9l.80-.80l.80,.80l-.80,.80zM137.3,848.5l.80-.80l.80,.80l-.80,.80zM138.1,849.3l.80-.80l.80,.80l-.80,.80zM139.7,850.8l.80-.80l.80,.80l-.80,.80zM140.5,851.6l.80-.80l.80,.80l-.80,.80zM133.3,842.9l.80-.80l.80,.80l-.80,.80zM136.5,846.1l.80-.80l.80,.80l-.80,.80zM138.1,847.7l.80-.80l.80,.80l-.80,.80zM139.7,849.3l.80-.80l.80,.80l-.80,.80zM140.5,850.1l.80-.80l.80,.80l-.80,.80zM135.7,843.7l.80-.80l.80,.80l-.80,.80zM137.3,845.3l.80-.80l.80,.80l-.80,.80zM138.9,846.9l.80-.80l.80,.80l-.80,.80zM139.7,842.9l.80-.80l.80,.80l-.80,.80zM145.2,845.3l.80-.80l.80,.80l-.80,.80zM147.6,844.5l.80-.80l.80,.80l-.80,.80zM147.6,842.9l.80-.80l.80,.80l-.80,.80z" fill="#fae8e8"/>
<path d="M158.7,842.7 L171.0,842.7 L164.85,848.85 Z" fill="#cb1818"/>
<path d="M158.7,843.1l.77-.77l.77,.77l-.77,.77zM159.5,843.9l.77-.77l.77,.77l-.77,.77zM160.2,844.6l.77-.77l.77,.77l-.77,.77zM161.0,845.4l.77-.77l.77,.77l-.77,.77zM161.8,846.2l.77-.77l.77,.77l-.77,.77zM162.5,846.9l.77-.77l.77,.77l-.77,.77zM163.3,847.7l.77-.77l.77,.77l-.77,.77zM164.1,848.5l.77-.77l.77,.77l-.77,.77zM160.2,843.1l.77-.77l.77,.77l-.77,.77zM161.0,843.9l.77-.77l.77,.77l-.77,.77zM161.8,844.6l.77-.77l.77,.77l-.77,.77zM163.3,846.2l.77-.77l.77,.77l-.77,.77zM164.1,846.9l.77-.77l.77,.77l-.77,.77zM164.8,847.7l.77-.77l.77,.77l-.77,.77zM162.5,843.9l.77-.77l.77,.77l-.77,.77zM164.1,845.4l.77-.77l.77,.77l-.77,.77zM164.8,846.2l.77-.77l.77,.77l-.77,.77zM165.6,846.9l.77-.77l.77,.77l-.77,.77zM163.3,843.1l.77-.77l.77,.77l-.77,.77zM164.8,844.6l.77-.77l.77,.77l-.77,.77zM165.6,845.4l.77-.77l.77,.77l-.77,.77zM166.4,846.2l.77-.77l.77,.77l-.77,.77zM165.6,843.9l.77-.77l.77,.77l-.77,.77zM167.2,845.4l.77-.77l.77,.77l-.77,.77zM166.4,843.1l.77-.77l.77,.77l-.77,.77zM167.2,843.9l.77-.77l.77,.77l-.77,.77zM167.9,844.6l.77-.77l.77,.77l-.77,.77zM168.7,843.9l.77-.77l.77,.77l-.77,.77zM169.5,843.1l.77-.77l.77,.77l-.77,.77z" fill="#fae8e8"/>
<path d="M171.0,842.7 L231.7,842.7 L201.35,873.05 Z" fill="#cb1818"/>
<path d="M174.2,846.3l.80-.80l.80,.80l-.80,.80zM178.2,850.3l.80-.80l.80,.80l-.80,.80zM180.6,852.7l.80-.80l.80,.80l-.80,.80zM183.8,855.9l.80-.80l.80,.80l-.80,.80zM185.4,857.5l.80-.80l.80,.80l-.80,.80zM187.0,859.1l.80-.80l.80,.80l-.80,.80zM189.4,861.5l.80-.80l.80,.80l-.80,.80zM195.0,867.1l.80-.80l.80,.80l-.80,.80zM195.8,867.9l.80-.80l.80,.80l-.80,.80zM197.4,869.5l.80-.80l.80,.80l-.80,.80zM199.0,871.1l.80-.80l.80,.80l-.80,.80zM200.6,872.7l.80-.80l.80,.80l-.80,.80zM174.2,844.7l.80-.80l.80,.80l-.80,.80zM179.8,850.3l.80-.80l.80,.80l-.80,.80zM180.6,851.1l.80-.80l.80,.80l-.80,.80zM181.4,851.9l.80-.80l.80,.80l-.80,.80zM184.6,855.1l.80-.80l.80,.80l-.80,.80zM186.2,856.7l.80-.80l.80,.80l-.80,.80zM187.0,857.5l.80-.80l.80,.80l-.80,.80zM190.2,860.7l.80-.80l.80,.80l-.80,.80zM196.6,867.1l.80-.80l.80,.80l-.80,.80zM197.4,867.9l.80-.80l.80,.80l-.80,.80zM198.2,868.7l.80-.80l.80,.80l-.80,.80zM199.8,870.3l.80-.80l.80,.80l-.80,.80zM175.0,843.9l.80-.80l.80,.80l-.80,.80zM175.8,844.7l.80-.80l.80,.80l-.80,.80zM179.8,848.7l.80-.80l.80,.80l-.80,.80zM180.6,849.5l.80-.80l.80,.80l-.80,.80zM181.4,850.3l.80-.80l.80,.80l-.80,.80zM182.2,851.1l.80-.80l.80,.80l-.80,.80zM185.4,854.3l.80-.80l.80,.80l-.80,.80zM187.8,856.7l.80-.80l.80,.80l-.80,.80zM191.0,859.9l.80-.80l.80,.80l-.80,.80zM191.8,860.7l.80-.80l.80,.80l-.80,.80zM193.4,862.3l.80-.80l.80,.80l-.80,.80zM196.6,865.5l.80-.80l.80,.80l-.80,.80zM197.4,866.3l.80-.80l.80,.80l-.80,.80zM198.2,867.1l.80-.80l.80,.80l-.80,.80zM199.0,867.9l.80-.80l.80,.80l-.80,.80zM199.8,868.7l.80-.80l.80,.80l-.80,.80zM200.6,869.5l.80-.80l.80,.80l-.80,.80zM201.3,870.3l.80-.80l.80,.80l-.80,.80zM202.1,871.1l.80-.80l.80,.80l-.80,.80zM175.8,843.1l.80-.80l.80,.80l-.80,.80zM176.6,843.9l.80-.80l.80,.80l-.80,.80zM178.2,845.5l.80-.80l.80,.80l-.80,.80zM179.0,846.3l.80-.80l.80,.80l-.80,.80zM179.8,847.1l.80-.80l.80,.80l-.80,.80zM180.6,847.9l.80-.80l.80,.80l-.80,.80zM181.4,848.7l.80-.80l.80,.80l-.80,.80zM182.2,849.5l.80-.80l.80,.80l-.80,.80zM183.0,850.3l.80-.80l.80,.80l-.80,.80zM183.8,851.1l.80-.80l.80,.80l-.80,.80zM184.6,851.9l.80-.80l.80,.80l-.80,.80zM185.4,852.7l.80-.80l.80,.80l-.80,.80zM186.2,853.5l.80-.80l.80,.80l-.80,.80zM187.0,854.3l.80-.80l.80,.80l-.80,.80zM187.8,855.1l.80-.80l.80,.80l-.80,.80zM188.6,855.9l.80-.80l.80,.80l-.80,.80zM189.4,856.7l.80-.80l.80,.80l-.80,.80zM190.2,857.5l.80-.80l.80,.80l-.80,.80zM191.0,858.3l.80-.80l.80,.80l-.80,.80zM191.8,859.1l.80-.80l.80,.80l-.80,.80zM192.6,859.9l.80-.80l.80,.80l-.80,.80zM193.4,860.7l.80-.80l.80,.80l-.80,.80zM194.2,861.5l.80-.80l.80,.80l-.80,.80zM195.0,862.3l.80-.80l.80,.80l-.80,.80zM196.6,863.9l.80-.80l.80,.80l-.80,.80zM197.4,864.7l.80-.80l.80,.80l-.80,.80zM198.2,865.5l.80-.80l.80,.80l-.80,.80zM199.0,866.3l.80-.80l.80,.80l-.80,.80zM199.8,867.1l.80-.80l.80,.80l-.80,.80zM200.6,867.9l.80-.80l.80,.80l-.80,.80zM201.3,868.7l.80-.80l.80,.80l-.80,.80zM202.1,869.5l.80-.80l.80,.80l-.80,.80zM202.9,870.3l.80-.80l.80,.80l-.80,.80zM177.4,843.1l.80-.80l.80,.80l-.80,.80zM179.0,844.7l.80-.80l.80,.80l-.80,.80zM179.8,845.5l.80-.80l.80,.80l-.80,.80zM180.6,846.3l.80-.80l.80,.80l-.80,.80zM181.4,847.1l.80-.80l.80,.80l-.80,.80zM182.2,847.9l.80-.80l.80,.80l-.80,.80zM183.0,848.7l.80-.80l.80,.80l-.80,.80zM183.8,849.5l.80-.80l.80,.80l-.80,.80zM185.4,851.1l.80-.80l.80,.80l-.80,.80zM187.0,852.7l.80-.80l.80,.80l-.80,.80zM187.8,853.5l.80-.80l.80,.80l-.80,.80zM188.6,854.3l.80-.80l.80,.80l-.80,.80zM189.4,855.1l.80-.80l.80,.80l-.80,.80zM190.2,855.9l.80-.80l.80,.80l-.80,.80zM191.0,856.7l.80-.80l.80,.80l-.80,.80zM192.6,858.3l.80-.80l.80,.80l-.80,.80zM193.4,859.1l.80-.80l.80,.80l-.80,.80zM194.2,859.9l.80-.80l.80,.80l-.80,.80zM195.0,860.7l.80-.80l.80,.80l-.80,.80zM195.8,861.5l.80-.80l.80,.80l-.80,.80zM196.6,862.3l.80-.80l.80,.80l-.80,.80zM197.4,863.1l.80-.80l.80,.80l-.80,.80zM198.2,863.9l.80-.80l.80,.80l-.80,.80zM199.0,864.7l.80-.80l.80,.80l-.80,.80zM199.8,865.5l.80-.80l.80,.80l-.80,.80zM200.6,866.3l.80-.80l.80,.80l-.80,.80zM201.3,867.1l.80-.80l.80,.80l-.80,.80zM202.1,867.9l.80-.80l.80,.80l-.80,.80zM202.9,868.7l.80-.80l.80,.80l-.80,.80zM203.7,869.5l.80-.80l.80,.80l-.80,.80zM184.6,848.7l.80-.80l.80,.80l-.80,.80zM186.2,850.3l.80-.80l.80,.80l-.80,.80zM187.8,851.9l.80-.80l.80,.80l-.80,.80zM189.4,853.5l.80-.80l.80,.80l-.80,.80zM190.2,854.3l.80-.80l.80,.80l-.80,.80zM191.0,855.1l.80-.80l.80,.80l-.80,.80zM193.4,857.5l.80-.80l.80,.80l-.80,.80zM194.2,858.3l.80-.80l.80,.80l-.80,.80zM195.8,859.9l.80-.80l.80,.80l-.80,.80zM199.0,863.1l.80-.80l.80,.80l-.80,.80zM199.8,863.9l.80-.80l.80,.80l-.80,.80zM200.6,864.7l.80-.80l.80,.80l-.80,.80zM201.3,865.5l.80-.80l.80,.80l-.80,.80zM204.5,868.7l.80-.80l.80,.80l-.80,.80zM180.6,843.1l.80-.80l.80,.80l-.80,.80zM182.2,844.7l.80-.80l.80,.80l-.80,.80zM183.0,845.5l.80-.80l.80,.80l-.80,.80zM183.8,846.3l.80-.80l.80,.80l-.80,.80zM184.6,847.1l.80-.80l.80,.80l-.80,.80zM185.4,847.9l.80-.80l.80,.80l-.80,.80zM187.0,849.5l.80-.80l.80,.80l-.80,.80zM188.6,851.1l.80-.80l.80,.80l-.80,.80zM190.2,852.7l.80-.80l.80,.80l-.80,.80zM191.0,853.5l.80-.80l.80,.80l-.80,.80zM191.8,854.3l.80-.80l.80,.80l-.80,.80zM192.6,855.1l.80-.80l.80,.80l-.80,.80zM194.2,856.7l.80-.80l.80,.80l-.80,.80zM195.0,857.5l.80-.80l.80,.80l-.80,.80zM195.8,858.3l.80-.80l.80,.80l-.80,.80zM196.6,859.1l.80-.80l.80,.80l-.80,.80zM198.2,860.7l.80-.80l.80,.80l-.80,.80zM199.0,861.5l.80-.80l.80,.80l-.80,.80zM199.8,862.3l.80-.80l.80,.80l-.80,.80zM200.6,863.1l.80-.80l.80,.80l-.80,.80zM201.3,863.9l.80-.80l.80,.80l-.80,.80zM202.1,864.7l.80-.80l.80,.80l-.80,.80zM203.7,866.3l.80-.80l.80,.80l-.80,.80zM204.5,867.1l.80-.80l.80,.80l-.80,.80zM205.3,867.9l.80-.80l.80,.80l-.80,.80zM182.2,843.1l.80-.80l.80,.80l-.80,.80zM183.8,844.7l.80-.80l.80,.80l-.80,.80zM184.6,845.5l.80-.80l.80,.80l-.80,.80zM185.4,846.3l.80-.80l.80,.80l-.80,.80zM186.2,847.1l.80-.80l.80,.80l-.80,.80zM187.8,848.7l.80-.80l.80,.80l-.80,.80zM188.6,849.5l.80-.80l.80,.80l-.80,.80zM189.4,850.3l.80-.80l.80,.80l-.80,.80zM190.2,851.1l.80-.80l.80,.80l-.80,.80zM191.0,851.9l.80-.80l.80,.80l-.80,.80zM191.8,852.7l.80-.80l.80,.80l-.80,.80zM192.6,853.5l.80-.80l.80,.80l-.80,.80zM193.4,854.3l.80-.80l.80,.80l-.80,.80zM195.0,855.9l.80-.80l.80,.80l-.80,.80zM195.8,856.7l.80-.80l.80,.80l-.80,.80zM197.4,858.3l.80-.80l.80,.80l-.80,.80zM198.2,859.1l.80-.80l.80,.80l-.80,.80zM199.0,859.9l.80-.80l.80,.80l-.80,.80zM200.6,861.5l.80-.80l.80,.80l-.80,.80zM201.3,862.3l.80-.80l.80,.80l-.80,.80zM202.1,863.1l.80-.80l.80,.80l-.80,.80zM202.9,863.9l.80-.80l.80,.80l-.80,.80zM203.7,864.7l.80-.80l.80,.80l-.80,.80zM204.5,865.5l.80-.80l.80,.80l-.80,.80zM205.3,866.3l.80-.80l.80,.80l-.80,.80zM206.1,867.1l.80-.80l.80,.80l-.80,.80zM183.8,843.1l.80-.80l.80,.80l-.80,.80zM184.6,843.9l.80-.80l.80,.80l-.80,.80zM186.2,845.5l.80-.80l.80,.80l-.80,.80zM187.0,846.3l.80-.80l.80,.80l-.80,.80zM190.2,849.5l.80-.80l.80,.80l-.80,.80zM191.0,850.3l.80-.80l.80,.80l-.80,.80zM191.8,851.1l.80-.80l.80,.80l-.80,.80zM193.4,852.7l.80-.80l.80,.80l-.80,.80zM194.2,853.5l.80-.80l.80,.80l-.80,.80zM195.0,854.3l.80-.80l.80,.80l-.80,.80zM195.8,855.1l.80-.80l.80,.80l-.80,.80zM196.6,855.9l.80-.80l.80,.80l-.80,.80zM197.4,856.7l.80-.80l.80,.80l-.80,.80zM198.2,857.5l.80-.80l.80,.80l-.80,.80zM201.3,860.7l.80-.80l.80,.80l-.80,.80zM202.1,861.5l.80-.80l.80,.80l-.80,.80zM202.9,862.3l.80-.80l.80,.80l-.80,.80zM203.7,863.1l.80-.80l.80,.80l-.80,.80zM204.5,863.9l.80-.80l.80,.80l-.80,.80zM205.3,864.7l.80-.80l.80,.80l-.80,.80zM206.1,865.5l.80-.80l.80,.80l-.80,.80zM206.9,866.3l.80-.80l.80,.80l-.80,.80zM185.4,843.1l.80-.80l.80,.80l-.80,.80zM186.2,843.9l.80-.80l.80,.80l-.80,.80zM187.0,844.7l.80-.80l.80,.80l-.80,.80zM187.8,845.5l.80-.80l.80,.80l-.80,.80zM189.4,847.1l.80-.80l.80,.80l-.80,.80zM191.0,848.7l.80-.80l.80,.80l-.80,.80zM191.8,849.5l.80-.80l.80,.80l-.80,.80zM192.6,850.3l.80-.80l.80,.80l-.80,.80zM193.4,851.1l.80-.80l.80,.80l-.80,.80zM194.2,851.9l.80-.80l.80,.80l-.80,.80zM195.0,852.7l.80-.80l.80,.80l-.80,.80zM196.6,854.3l.80-.80l.80,.80l-.80,.80zM197.4,855.1l.80-.80l.80,.80l-.80,.80zM198.2,855.9l.80-.80l.80,.80l-.80,.80zM199.0,856.7l.80-.80l.80,.80l-.80,.80zM199.8,857.5l.80-.80l.80,.80l-.80,.80zM200.6,858.3l.80-.80l.80,.80l-.80,.80zM201.3,859.1l.80-.80l.80,.80l-.80,.80zM202.1,859.9l.80-.80l.80,.80l-.80,.80zM202.9,860.7l.80-.80l.80,.80l-.80,.80zM203.7,861.5l.80-.80l.80,.80l-.80,.80zM204.5,862.3l.80-.80l.80,.80l-.80,.80zM205.3,863.1l.80-.80l.80,.80l-.80,.80zM206.1,863.9l.80-.80l.80,.80l-.80,.80zM206.9,864.7l.80-.80l.80,.80l-.80,.80zM207.7,865.5l.80-.80l.80,.80l-.80,.80zM187.0,843.1l.80-.80l.80,.80l-.80,.80zM187.8,843.9l.80-.80l.80,.80l-.80,.80zM190.2,846.3l.80-.80l.80,.80l-.80,.80zM191.0,847.1l.80-.80l.80,.80l-.80,.80zM191.8,847.9l.80-.80l.80,.80l-.80,.80zM192.6,848.7l.80-.80l.80,.80l-.80,.80zM193.4,849.5l.80-.80l.80,.80l-.80,.80zM194.2,850.3l.80-.80l.80,.80l-.80,.80zM195.0,851.1l.80-.80l.80,.80l-.80,.80zM195.8,851.9l.80-.80l.80,.80l-.80,.80zM197.4,853.5l.80-.80l.80,.80l-.80,.80zM198.2,854.3l.80-.80l.80,.80l-.80,.80zM199.8,855.9l.80-.80l.80,.80l-.80,.80zM200.6,856.7l.80-.80l.80,.80l-.80,.80zM201.3,857.5l.80-.80l.80,.80l-.80,.80zM202.1,858.3l.80-.80l.80,.80l-.80,.80zM202.9,859.1l.80-.80l.80,.80l-.80,.80zM203.7,859.9l.80-.80l.80,.80l-.80,.80zM204.5,860.7l.80-.80l.80,.80l-.80,.80zM205.3,861.5l.80-.80l.80,.80l-.80,.80zM206.1,862.3l.80-.80l.80,.80l-.80,.80zM206.9,863.1l.80-.80l.80,.80l-.80,.80zM207.7,863.9l.80-.80l.80,.80l-.80,.80zM208.5,864.7l.80-.80l.80,.80l-.80,.80zM188.6,843.1l.80-.80l.80,.80l-.80,.80zM189.4,843.9l.80-.80l.80,.80l-.80,.80zM191.0,845.5l.80-.80l.80,.80l-.80,.80zM192.6,847.1l.80-.80l.80,.80l-.80,.80zM193.4,847.9l.80-.80l.80,.80l-.80,.80zM194.2,848.7l.80-.80l.80,.80l-.80,.80zM195.0,849.5l.80-.80l.80,.80l-.80,.80zM195.8,850.3l.80-.80l.80,.80l-.80,.80zM196.6,851.1l.80-.80l.80,.80l-.80,.80zM198.2,852.7l.80-.80l.80,.80l-.80,.80zM199.0,853.5l.80-.80l.80,.80l-.80,.80zM199.8,854.3l.80-.80l.80,.80l-.80,.80zM200.6,855.1l.80-.80l.80,.80l-.80,.80zM201.3,855.9l.80-.80l.80,.80l-.80,.80zM202.1,856.7l.80-.80l.80,.80l-.80,.80zM202.9,857.5l.80-.80l.80,.80l-.80,.80zM203.7,858.3l.80-.80l.80,.80l-.80,.80zM204.5,859.1l.80-.80l.80,.80l-.80,.80zM205.3,859.9l.80-.80l.80,.80l-.80,.80zM206.1,860.7l.80-.80l.80,.80l-.80,.80zM207.7,862.3l.80-.80l.80,.80l-.80,.80zM209.3,863.9l.80-.80l.80,.80l-.80,.80zM190.2,843.1l.80-.80l.80,.80l-.80,.80zM191.8,844.7l.80-.80l.80,.80l-.80,.80zM192.6,845.5l.80-.80l.80,.80l-.80,.80zM193.4,846.3l.80-.80l.80,.80l-.80,.80zM195.0,847.9l.80-.80l.80,.80l-.80,.80zM195.8,848.7l.80-.80l.80,.80l-.80,.80zM196.6,849.5l.80-.80l.80,.80l-.80,.80zM199.0,851.9l.80-.80l.80,.80l-.80,.80zM199.8,852.7l.80-.80l.80,.80l-.80,.80zM200.6,853.5l.80-.80l.80,.80l-.80,.80zM201.3,854.3l.80-.80l.80,.80l-.80,.80zM202.1,855.1l.80-.80l.80,.80l-.80,.80zM204.5,857.5l.80-.80l.80,.80l-.80,.80zM205.3,858.3l.80-.80l.80,.80l-.80,.80zM206.1,859.1l.80-.80l.80,.80l-.80,.80zM206.9,859.9l.80-.80l.80,.80l-.80,.80zM208.5,861.5l.80-.80l.80,.80l-.80,.80zM210.1,863.1l.80-.80l.80,.80l-.80,.80zM206.9,858.3l.80-.80l.80,.80l-.80,.80zM196.6,846.3l.80-.80l.80,.80l-.80,.80zM197.4,847.1l.80-.80l.80,.80l-.80,.80zM198.2,847.9l.80-.80l.80,.80l-.80,.80zM200.6,850.3l.80-.80l.80,.80l-.80,.80zM201.3,851.1l.80-.80l.80,.80l-.80,.80zM206.1,855.9l.80-.80l.80,.80l-.80,.80zM206.9,856.7l.80-.80l.80,.80l-.80,.80zM207.7,857.5l.80-.80l.80,.80l-.80,.80zM208.5,858.3l.80-.80l.80,.80l-.80,.80zM210.1,859.9l.80-.80l.80,.80l-.80,.80zM211.7,861.5l.80-.80l.80,.80l-.80,.80zM209.3,857.5l.80-.80l.80,.80l-.80,.80zM196.6,843.1l.80-.80l.80,.80l-.80,.80zM197.4,843.9l.80-.80l.80,.80l-.80,.80zM198.2,844.7l.80-.80l.80,.80l-.80,.80zM199.0,845.5l.80-.80l.80,.80l-.80,.80zM200.6,847.1l.80-.80l.80,.80l-.80,.80zM202.1,848.7l.80-.80l.80,.80l-.80,.80zM202.9,849.5l.80-.80l.80,.80l-.80,.80zM203.7,850.3l.80-.80l.80,.80l-.80,.80zM204.5,851.1l.80-.80l.80,.80l-.80,.80zM207.7,854.3l.80-.80l.80,.80l-.80,.80zM208.5,855.1l.80-.80l.80,.80l-.80,.80zM209.3,855.9l.80-.80l.80,.80l-.80,.80zM210.1,856.7l.80-.80l.80,.80l-.80,.80zM211.7,858.3l.80-.80l.80,.80l-.80,.80zM212.5,859.1l.80-.80l.80,.80l-.80,.80zM213.3,859.9l.80-.80l.80,.80l-.80,.80zM198.2,843.1l.80-.80l.80,.80l-.80,.80zM199.0,843.9l.80-.80l.80,.80l-.80,.80zM202.9,847.9l.80-.80l.80,.80l-.80,.80zM205.3,850.3l.80-.80l.80,.80l-.80,.80zM208.5,853.5l.80-.80l.80,.80l-.80,.80zM209.3,854.3l.80-.80l.80,.80l-.80,.80zM210.1,855.1l.80-.80l.80,.80l-.80,.80zM210.9,855.9l.80-.80l.80,.80l-.80,.80zM212.5,857.5l.80-.80l.80,.80l-.80,.80zM213.3,858.3l.80-.80l.80,.80l-.80,.80zM214.1,859.1l.80-.80l.80,.80l-.80,.80zM199.8,843.1l.80-.80l.80,.80l-.80,.80zM200.6,843.9l.80-.80l.80,.80l-.80,.80zM201.3,844.7l.80-.80l.80,.80l-.80,.80zM203.7,847.1l.80-.80l.80,.80l-.80,.80zM204.5,847.9l.80-.80l.80,.80l-.80,.80zM210.1,853.5l.80-.80l.80,.80l-.80,.80zM211.7,855.1l.80-.80l.80,.80l-.80,.80zM213.3,856.7l.80-.80l.80,.80l-.80,.80zM214.9,858.3l.80-.80l.80,.80l-.80,.80zM201.3,843.1l.80-.80l.80,.80l-.80,.80zM205.3,847.1l.80-.80l.80,.80l-.80,.80zM206.9,848.7l.80-.80l.80,.80l-.80,.80zM210.1,851.9l.80-.80l.80,.80l-.80,.80zM212.5,854.3l.80-.80l.80,.80l-.80,.80zM215.7,857.5l.80-.80l.80,.80l-.80,.80zM205.3,845.5l.80-.80l.80,.80l-.80,.80zM212.5,852.7l.80-.80l.80,.80l-.80,.80zM214.9,855.1l.80-.80l.80,.80l-.80,.80zM206.1,844.7l.80-.80l.80,.80l-.80,.80zM207.7,843.1l.80-.80l.80,.80l-.80,.80zM209.3,844.7l.80-.80l.80,.80l-.80,.80zM210.1,845.5l.80-.80l.80,.80l-.80,.80zM214.1,849.5l.80-.80l.80,.80l-.80,.80zM214.9,850.3l.80-.80l.80,.80l-.80,.80zM215.7,851.1l.80-.80l.80,.80l-.80,.80zM217.3,852.7l.80-.80l.80,.80l-.80,.80zM218.1,853.5l.80-.80l.80,.80l-.80,.80zM218.9,854.3l.80-.80l.80,.80l-.80,.80zM210.9,844.7l.80-.80l.80,.80l-.80,.80zM214.9,848.7l.80-.80l.80,.80l-.80,.80zM216.5,850.3l.80-.80l.80,.80l-.80,.80zM219.7,850.3l.80-.80l.80,.80l-.80,.80zM220.5,851.1l.80-.80l.80,.80l-.80,.80zM219.7,843.9l.80-.80l.80,.80l-.80,.80zM222.9,847.1l.80-.80l.80,.80l-.80,.80zM224.5,848.7l.80-.80l.80,.80l-.80,.80zM220.5,843.1l.80-.80l.80,.80l-.80,.80zM221.3,843.9l.80-.80l.80,.80l-.80,.80zM222.1,844.7l.80-.80l.80,.80l-.80,.80zM223.7,846.3l.80-.80l.80,.80l-.80,.80zM222.9,843.9l.80-.80l.80,.80l-.80,.80zM223.7,843.1l.80-.80l.80,.80l-.80,.80zM225.3,844.7l.80-.80l.80,.80l-.80,.80zM228.5,844.7l.80-.80l.80,.80l-.80,.80z" fill="#fae8e8"/>
<path d="M233.2,842.2 L378.6,842.2 L305.90,914.90 Z" fill="#cb1818"/>
<path d="M233.2,842.6l.80-.80l.80,.80l-.80,.80zM240.4,849.8l.80-.80l.80,.80l-.80,.80zM242.0,851.4l.80-.80l.80,.80l-.80,.80zM244.4,853.8l.80-.80l.80,.80l-.80,.80zM246.8,856.2l.80-.80l.80,.80l-.80,.80zM248.4,857.8l.80-.80l.80,.80l-.80,.80zM250.0,859.4l.80-.80l.80,.80l-.80,.80zM250.8,860.2l.80-.80l.80,.80l-.80,.80zM251.6,861.0l.80-.80l.80,.80l-.80,.80zM252.4,861.8l.80-.80l.80,.80l-.80,.80zM253.2,862.6l.80-.80l.80,.80l-.80,.80zM254.8,864.2l.80-.80l.80,.80l-.80,.80zM255.6,865.0l.80-.80l.80,.80l-.80,.80zM257.2,866.6l.80-.80l.80,.80l-.80,.80zM258.8,868.2l.80-.80l.80,.80l-.80,.80zM259.6,869.0l.80-.80l.80,.80l-.80,.80zM260.4,869.8l.80-.80l.80,.80l-.80,.80zM261.2,870.6l.80-.80l.80,.80l-.80,.80zM263.6,873.0l.80-.80l.80,.80l-.80,.80zM264.4,873.8l.80-.80l.80,.80l-.80,.80zM266.0,875.4l.80-.80l.80,.80l-.80,.80zM267.6,877.0l.80-.80l.80,.80l-.80,.80zM268.4,877.8l.80-.80l.80,.80l-.80,.80zM269.2,878.6l.80-.80l.80,.80l-.80,.80zM270.7,880.1l.80-.80l.80,.80l-.80,.80zM272.3,881.7l.80-.80l.80,.80l-.80,.80zM273.1,882.5l.80-.80l.80,.80l-.80,.80zM275.5,884.9l.80-.80l.80,.80l-.80,.80zM276.3,885.7l.80-.80l.80,.80l-.80,.80zM277.1,886.5l.80-.80l.80,.80l-.80,.80zM277.9,887.3l.80-.80l.80,.80l-.80,.80zM278.7,888.1l.80-.80l.80,.80l-.80,.80zM279.5,888.9l.80-.80l.80,.80l-.80,.80zM281.1,890.5l.80-.80l.80,.80l-.80,.80zM281.9,891.3l.80-.80l.80,.80l-.80,.80zM282.7,892.1l.80-.80l.80,.80l-.80,.80zM283.5,892.9l.80-.80l.80,.80l-.80,.80zM285.1,894.5l.80-.80l.80,.80l-.80,.80zM285.9,895.3l.80-.80l.80,.80l-.80,.80zM286.7,896.1l.80-.80l.80,.80l-.80,.80zM287.5,896.9l.80-.80l.80,.80l-.80,.80zM288.3,897.7l.80-.80l.80,.80l-.80,.80zM289.1,898.5l.80-.80l.80,.80l-.80,.80zM289.9,899.3l.80-.80l.80,.80l-.80,.80zM291.5,900.9l.80-.80l.80,.80l-.80,.80zM292.3,901.7l.80-.80l.80,.80l-.80,.80zM293.1,902.5l.80-.80l.80,.80l-.80,.80zM293.9,903.3l.80-.80l.80,.80l-.80,.80zM294.7,904.1l.80-.80l.80,.80l-.80,.80zM295.5,904.9l.80-.80l.80,.80l-.80,.80zM296.3,905.7l.80-.80l.80,.80l-.80,.80zM297.1,906.5l.80-.80l.80,.80l-.80,.80zM297.9,907.3l.80-.80l.80,.80l-.80,.80zM298.7,908.1l.80-.80l.80,.80l-.80,.80zM299.5,908.9l.80-.80l.80,.80l-.80,.80zM301.1,910.5l.80-.80l.80,.80l-.80,.80zM302.7,912.1l.80-.80l.80,.80l-.80,.80zM303.5,912.9l.80-.80l.80,.80l-.80,.80zM305.1,914.5l.80-.80l.80,.80l-.80,.80zM234.8,842.6l.80-.80l.80,.80l-.80,.80zM241.2,849.0l.80-.80l.80,.80l-.80,.80zM242.8,850.6l.80-.80l.80,.80l-.80,.80zM245.2,853.0l.80-.80l.80,.80l-.80,.80zM246.8,854.6l.80-.80l.80,.80l-.80,.80zM247.6,855.4l.80-.80l.80,.80l-.80,.80zM249.2,857.0l.80-.80l.80,.80l-.80,.80zM250.8,858.6l.80-.80l.80,.80l-.80,.80zM252.4,860.2l.80-.80l.80,.80l-.80,.80zM253.2,861.0l.80-.80l.80,.80l-.80,.80zM254.0,861.8l.80-.80l.80,.80l-.80,.80zM256.4,864.2l.80-.80l.80,.80l-.80,.80zM257.2,865.0l.80-.80l.80,.80l-.80,.80zM258.0,865.8l.80-.80l.80,.80l-.80,.80zM259.6,867.4l.80-.80l.80,.80l-.80,.80zM260.4,868.2l.80-.80l.80,.80l-.80,.80zM262.8,870.6l.80-.80l.80,.80l-.80,.80zM263.6,871.4l.80-.80l.80,.80l-.80,.80zM264.4,872.2l.80-.80l.80,.80l-.80,.80zM265.2,873.0l.80-.80l.80,.80l-.80,.80zM266.0,873.8l.80-.80l.80,.80l-.80,.80zM266.8,874.6l.80-.80l.80,.80l-.80,.80zM267.6,875.4l.80-.80l.80,.80l-.80,.80zM268.4,876.2l.80-.80l.80,.80l-.80,.80zM269.2,877.0l.80-.80l.80,.80l-.80,.80zM269.9,877.8l.80-.80l.80,.80l-.80,.80zM273.1,880.9l.80-.80l.80,.80l-.80,.80zM273.9,881.7l.80-.80l.80,.80l-.80,.80zM274.7,882.5l.80-.80l.80,.80l-.80,.80zM276.3,884.1l.80-.80l.80,.80l-.80,.80zM277.1,884.9l.80-.80l.80,.80l-.80,.80zM277.9,885.7l.80-.80l.80,.80l-.80,.80zM278.7,886.5l.80-.80l.80,.80l-.80,.80zM279.5,887.3l.80-.80l.80,.80l-.80,.80zM280.3,888.1l.80-.80l.80,.80l-.80,.80zM281.9,889.7l.80-.80l.80,.80l-.80,.80zM283.5,891.3l.80-.80l.80,.80l-.80,.80zM284.3,892.1l.80-.80l.80,.80l-.80,.80zM285.9,893.7l.80-.80l.80,.80l-.80,.80zM286.7,894.5l.80-.80l.80,.80l-.80,.80zM288.3,896.1l.80-.80l.80,.80l-.80,.80zM289.9,897.7l.80-.80l.80,.80l-.80,.80zM290.7,898.5l.80-.80l.80,.80l-.80,.80zM291.5,899.3l.80-.80l.80,.80l-.80,.80zM292.3,900.1l.80-.80l.80,.80l-.80,.80zM293.1,900.9l.80-.80l.80,.80l-.80,.80zM293.9,901.7l.80-.80l.80,.80l-.80,.80zM294.7,902.5l.80-.80l.80,.80l-.80,.80zM295.5,903.3l.80-.80l.80,.80l-.80,.80zM297.1,904.9l.80-.80l.80,.80l-.80,.80zM297.9,905.7l.80-.80l.80,.80l-.80,.80zM298.7,906.5l.80-.80l.80,.80l-.80,.80zM299.5,907.3l.80-.80l.80,.80l-.80,.80zM300.3,908.1l.80-.80l.80,.80l-.80,.80zM301.9,909.7l.80-.80l.80,.80l-.80,.80zM302.7,910.5l.80-.80l.80,.80l-.80,.80zM303.5,911.3l.80-.80l.80,.80l-.80,.80zM305.9,913.7l.80-.80l.80,.80l-.80,.80zM236.4,842.6l.80-.80l.80,.80l-.80,.80zM242.0,848.2l.80-.80l.80,.80l-.80,.80zM242.8,849.0l.80-.80l.80,.80l-.80,.80zM243.6,849.8l.80-.80l.80,.80l-.80,.80zM245.2,851.4l.80-.80l.80,.80l-.80,.80zM246.0,852.2l.80-.80l.80,.80l-.80,.80zM246.8,853.0l.80-.80l.80,.80l-.80,.80zM248.4,854.6l.80-.80l.80,.80l-.80,.80zM250.0,856.2l.80-.80l.80,.80l-.80,.80zM250.8,857.0l.80-.80l.80,.80l-.80,.80zM251.6,857.8l.80-.80l.80,.80l-.80,.80zM252.4,858.6l.80-.80l.80,.80l-.80,.80zM253.2,859.4l.80-.80l.80,.80l-.80,.80zM254.0,860.2l.80-.80l.80,.80l-.80,.80zM254.8,861.0l.80-.80l.80,.80l-.80,.80zM255.6,861.8l.80-.80l.80,.80l-.80,.80zM256.4,862.6l.80-.80l.80,.80l-.80,.80zM257.2,863.4l.80-.80l.80,.80l-.80,.80zM258.0,864.2l.80-.80l.80,.80l-.80,.80zM258.8,865.0l.80-.80l.80,.80l-.80,.80zM259.6,865.8l.80-.80l.80,.80l-.80,.80zM260.4,866.6l.80-.80l.80,.80l-.80,.80zM261.2,867.4l.80-.80l.80,.80l-.80,.80zM262.8,869.0l.80-.80l.80,.80l-.80,.80zM264.4,870.6l.80-.80l.80,.80l-.80,.80zM265.2,871.4l.80-.80l.80,.80l-.80,.80zM266.0,872.2l.80-.80l.80,.80l-.80,.80zM266.8,873.0l.80-.80l.80,.80l-.80,.80zM267.6,873.8l.80-.80l.80,.80l-.80,.80zM268.4,874.6l.80-.80l.80,.80l-.80,.80zM269.2,875.4l.80-.80l.80,.80l-.80,.80zM269.9,876.2l.80-.80l.80,.80l-.80,.80zM270.7,877.0l.80-.80l.80,.80l-.80,.80zM271.5,877.8l.80-.80l.80,.80l-.80,.80zM272.3,878.6l.80-.80l.80,.80l-.80,.80zM273.1,879.3l.80-.80l.80,.80l-.80,.80zM273.9,880.1l.80-.80l.80,.80l-.80,.80zM274.7,880.9l.80-.80l.80,.80l-.80,.80zM275.5,881.7l.80-.80l.80,.80l-.80,.80zM277.1,883.3l.80-.80l.80,.80l-.80,.80zM277.9,884.1l.80-.80l.80,.80l-.80,.80zM278.7,884.9l.80-.80l.80,.80l-.80,.80zM279.5,885.7l.80-.80l.80,.80l-.80,.80zM280.3,886.5l.80-.80l.80,.80l-.80,.80zM281.1,887.3l.80-.80l.80,.80l-.80,.80zM282.7,888.9l.80-.80l.80,.80l-.80,.80zM283.5,889.7l.80-.80l.80,.80l-.80,.80zM284.3,890.5l.80-.80l.80,.80l-.80,.80zM285.1,891.3l.80-.80l.80,.80l-.80,.80zM285.9,892.1l.80-.80l.80,.80l-.80,.80zM286.7,892.9l.80-.80l.80,.80l-.80,.80zM287.5,893.7l.80-.80l.80,.80l-.80,.80zM288.3,894.5l.80-.80l.80,.80l-.80,.80zM289.1,895.3l.80-.80l.80,.80l-.80,.80zM290.7,896.9l.80-.80l.80,.80l-.80,.80zM291.5,897.7l.80-.80l.80,.80l-.80,.80zM292.3,898.5l.80-.80l.80,.80l-.80,.80zM293.1,899.3l.80-.80l.80,.80l-.80,.80zM293.9,900.1l.80-.80l.80,.80l-.80,.80zM294.7,900.9l.80-.80l.80,.80l-.80,.80zM295.5,901.7l.80-.80l.80,.80l-.80,.80zM296.3,902.5l.80-.80l.80,.80l-.80,.80zM297.1,903.3l.80-.80l.80,.80l-.80,.80zM297.9,904.1l.80-.80l.80,.80l-.80,.80zM298.7,904.9l.80-.80l.80,.80l-.80,.80zM299.5,905.7l.80-.80l.80,.80l-.80,.80zM300.3,906.5l.80-.80l.80,.80l-.80,.80zM301.1,907.3l.80-.80l.80,.80l-.80,.80zM301.9,908.1l.80-.80l.80,.80l-.80,.80zM302.7,908.9l.80-.80l.80,.80l-.80,.80zM303.5,909.7l.80-.80l.80,.80l-.80,.80zM304.3,910.5l.80-.80l.80,.80l-.80,.80zM305.1,911.3l.80-.80l.80,.80l-.80,.80zM305.9,912.1l.80-.80l.80,.80l-.80,.80zM306.7,912.9l.80-.80l.80,.80l-.80,.80zM244.4,849.0l.80-.80l.80,.80l-.80,.80zM249.2,853.8l.80-.80l.80,.80l-.80,.80zM250.8,855.4l.80-.80l.80,.80l-.80,.80zM252.4,857.0l.80-.80l.80,.80l-.80,.80zM254.0,858.6l.80-.80l.80,.80l-.80,.80zM254.8,859.4l.80-.80l.80,.80l-.80,.80zM255.6,860.2l.80-.80l.80,.80l-.80,.80zM262.0,866.6l.80-.80l.80,.80l-.80,.80zM271.5,876.2l.80-.80l.80,.80l-.80,.80zM273.9,878.6l.80-.80l.80,.80l-.80,.80zM274.7,879.3l.80-.80l.80,.80l-.80,.80zM277.9,882.5l.80-.80l.80,.80l-.80,.80zM278.7,883.3l.80-.80l.80,.80l-.80,.80zM279.5,884.1l.80-.80l.80,.80l-.80,.80zM283.5,888.1l.80-.80l.80,.80l-.80,.80zM285.1,889.7l.80-.80l.80,.80l-.80,.80zM288.3,892.9l.80-.80l.80,.80l-.80,.80zM289.9,894.5l.80-.80l.80,.80l-.80,.80zM291.5,896.1l.80-.80l.80,.80l-.80,.80zM292.3,896.9l.80-.80l.80,.80l-.80,.80zM294.7,899.3l.80-.80l.80,.80l-.80,.80zM297.1,901.7l.80-.80l.80,.80l-.80,.80zM300.3,904.9l.80-.80l.80,.80l-.80,.80zM303.5,908.1l.80-.80l.80,.80l-.80,.80zM305.1,909.7l.80-.80l.80,.80l-.80,.80zM239.6,842.6l.80-.80l.80,.80l-.80,.80zM243.6,846.6l.80-.80l.80,.80l-.80,.80zM245.2,848.2l.80-.80l.80,.80l-.80,.80zM247.6,850.6l.80-.80l.80,.80l-.80,.80zM250.0,853.0l.80-.80l.80,.80l-.80,.80zM251.6,854.6l.80-.80l.80,.80l-.80,.80zM252.4,855.4l.80-.80l.80,.80l-.80,.80zM253.2,856.2l.80-.80l.80,.80l-.80,.80zM254.8,857.8l.80-.80l.80,.80l-.80,.80zM255.6,858.6l.80-.80l.80,.80l-.80,.80zM256.4,859.4l.80-.80l.80,.80l-.80,.80zM258.8,861.8l.80-.80l.80,.80l-.80,.80zM260.4,863.4l.80-.80l.80,.80l-.80,.80zM261.2,864.2l.80-.80l.80,.80l-.80,.80zM262.0,865.0l.80-.80l.80,.80l-.80,.80zM262.8,865.8l.80-.80l.80,.80l-.80,.80zM263.6,866.6l.80-.80l.80,.80l-.80,.80zM264.4,867.4l.80-.80l.80,.80l-.80,.80zM266.0,869.0l.80-.80l.80,.80l-.80,.80zM266.8,869.8l.80-.80l.80,.80l-.80,.80zM267.6,870.6l.80-.80l.80,.80l-.80,.80zM268.4,871.4l.80-.80l.80,.80l-.80,.80zM269.2,872.2l.80-.80l.80,.80l-.80,.80zM269.9,873.0l.80-.80l.80,.80l-.80,.80zM270.7,873.8l.80-.80l.80,.80l-.80,.80zM271.5,874.6l.80-.80l.80,.80l-.80,.80zM272.3,875.4l.80-.80l.80,.80l-.80,.80zM273.9,877.0l.80-.80l.80,.80l-.80,.80zM274.7,877.8l.80-.80l.80,.80l-.80,.80zM275.5,878.6l.80-.80l.80,.80l-.80,.80zM276.3,879.3l.80-.80l.80,.80l-.80,.80zM277.1,880.1l.80-.80l.80,.80l-.80,.80zM278.7,881.7l.80-.80l.80,.80l-.80,.80zM279.5,882.5l.80-.80l.80,.80l-.80,.80zM280.3,883.3l.80-.80l.80,.80l-.80,.80zM281.1,884.1l.80-.80l.80,.80l-.80,.80zM281.9,884.9l.80-.80l.80,.80l-.80,.80zM282.7,885.7l.80-.80l.80,.80l-.80,.80zM283.5,886.5l.80-.80l.80,.80l-.80,.80zM284.3,887.3l.80-.80l.80,.80l-.80,.80zM285.1,888.1l.80-.80l.80,.80l-.80,.80zM285.9,888.9l.80-.80l.80,.80l-.80,.80zM286.7,889.7l.80-.80l.80,.80l-.80,.80zM287.5,890.5l.80-.80l.80,.80l-.80,.80zM288.3,891.3l.80-.80l.80,.80l-.80,.80zM289.1,892.1l.80-.80l.80,.80l-.80,.80zM290.7,893.7l.80-.80l.80,.80l-.80,.80zM291.5,894.5l.80-.80l.80,.80l-.80,.80zM292.3,895.3l.80-.80l.80,.80l-.80,.80zM293.1,896.1l.80-.80l.80,.80l-.80,.80zM293.9,896.9l.80-.80l.80,.80l-.80,.80zM294.7,897.7l.80-.80l.80,.80l-.80,.80zM295.5,898.5l.80-.80l.80,.80l-.80,.80zM296.3,899.3l.80-.80l.80,.80l-.80,.80zM297.1,900.1l.80-.80l.80,.80l-.80,.80zM297.9,900.9l.80-.80l.80,.80l-.80,.80zM298.7,901.7l.80-.80l.80,.80l-.80,.80zM299.5,902.5l.80-.80l.80,.80l-.80,.80zM300.3,903.3l.80-.80l.80,.80l-.80,.80zM301.1,904.1l.80-.80l.80,.80l-.80,.80zM302.7,905.7l.80-.80l.80,.80l-.80,.80zM303.5,906.5l.80-.80l.80,.80l-.80,.80zM304.3,907.3l.80-.80l.80,.80l-.80,.80zM305.1,908.1l.80-.80l.80,.80l-.80,.80zM305.9,908.9l.80-.80l.80,.80l-.80,.80zM306.7,909.7l.80-.80l.80,.80l-.80,.80zM307.5,910.5l.80-.80l.80,.80l-.80,.80zM308.3,911.3l.80-.80l.80,.80l-.80,.80zM244.4,845.8l.80-.80l.80,.80l-.80,.80zM246.0,847.4l.80-.80l.80,.80l-.80,.80zM250.8,852.2l.80-.80l.80,.80l-.80,.80zM252.4,853.8l.80-.80l.80,.80l-.80,.80zM254.0,855.4l.80-.80l.80,.80l-.80,.80zM255.6,857.0l.80-.80l.80,.80l-.80,.80zM257.2,858.6l.80-.80l.80,.80l-.80,.80zM263.6,865.0l.80-.80l.80,.80l-.80,.80zM265.2,866.6l.80-.80l.80,.80l-.80,.80zM267.6,869.0l.80-.80l.80,.80l-.80,.80zM269.9,871.4l.80-.80l.80,.80l-.80,.80zM271.5,873.0l.80-.80l.80,.80l-.80,.80zM272.3,873.8l.80-.80l.80,.80l-.80,.80zM273.1,874.6l.80-.80l.80,.80l-.80,.80zM275.5,877.0l.80-.80l.80,.80l-.80,.80zM276.3,877.8l.80-.80l.80,.80l-.80,.80zM277.1,878.6l.80-.80l.80,.80l-.80,.80zM279.5,880.9l.80-.80l.80,.80l-.80,.80zM280.3,881.7l.80-.80l.80,.80l-.80,.80zM281.1,882.5l.80-.80l.80,.80l-.80,.80zM283.5,884.9l.80-.80l.80,.80l-.80,.80zM285.1,886.5l.80-.80l.80,.80l-.80,.80zM285.9,887.3l.80-.80l.80,.80l-.80,.80zM287.5,888.9l.80-.80l.80,.80l-.80,.80zM289.9,891.3l.80-.80l.80,.80l-.80,.80zM291.5,892.9l.80-.80l.80,.80l-.80,.80zM293.1,894.5l.80-.80l.80,.80l-.80,.80zM293.9,895.3l.80-.80l.80,.80l-.80,.80zM294.7,896.1l.80-.80l.80,.80l-.80,.80zM295.5,896.9l.80-.80l.80,.80l-.80,.80zM296.3,897.7l.80-.80l.80,.80l-.80,.80zM297.1,898.5l.80-.80l.80,.80l-.80,.80zM298.7,900.1l.80-.80l.80,.80l-.80,.80zM301.1,902.5l.80-.80l.80,.80l-.80,.80zM301.9,903.3l.80-.80l.80,.80l-.80,.80zM303.5,904.9l.80-.80l.80,.80l-.80,.80zM305.1,906.5l.80-.80l.80,.80l-.80,.80zM306.7,908.1l.80-.80l.80,.80l-.80,.80zM309.1,910.5l.80-.80l.80,.80l-.80,.80zM254.8,854.6l.80-.80l.80,.80l-.80,.80zM257.2,857.0l.80-.80l.80,.80l-.80,.80zM263.6,863.4l.80-.80l.80,.80l-.80,.80zM264.4,864.2l.80-.80l.80,.80l-.80,.80zM266.0,865.8l.80-.80l.80,.80l-.80,.80zM273.1,873.0l.80-.80l.80,.80l-.80,.80zM277.1,877.0l.80-.80l.80,.80l-.80,.80zM277.9,877.8l.80-.80l.80,.80l-.80,.80zM284.3,884.1l.80-.80l.80,.80l-.80,.80zM288.3,888.1l.80-.80l.80,.80l-.80,.80zM289.9,889.7l.80-.80l.80,.80l-.80,.80zM290.7,890.5l.80-.80l.80,.80l-.80,.80zM293.9,893.7l.80-.80l.80,.80l-.80,.80zM297.1,896.9l.80-.80l.80,.80l-.80,.80zM297.9,897.7l.80-.80l.80,.80l-.80,.80zM299.5,899.3l.80-.80l.80,.80l-.80,.80zM302.7,902.5l.80-.80l.80,.80l-.80,.80zM304.3,904.1l.80-.80l.80,.80l-.80,.80zM305.9,905.7l.80-.80l.80,.80l-.80,.80zM307.5,907.3l.80-.80l.80,.80l-.80,.80zM247.6,845.8l.80-.80l.80,.80l-.80,.80zM254.0,852.2l.80-.80l.80,.80l-.80,.80zM255.6,853.8l.80-.80l.80,.80l-.80,.80zM257.2,855.4l.80-.80l.80,.80l-.80,.80zM258.0,856.2l.80-.80l.80,.80l-.80,.80zM261.2,859.4l.80-.80l.80,.80l-.80,.80zM262.8,861.0l.80-.80l.80,.80l-.80,.80zM264.4,862.6l.80-.80l.80,.80l-.80,.80zM265.2,863.4l.80-.80l.80,.80l-.80,.80zM266.8,865.0l.80-.80l.80,.80l-.80,.80zM269.2,867.4l.80-.80l.80,.80l-.80,.80zM271.5,869.8l.80-.80l.80,.80l-.80,.80zM273.9,872.2l.80-.80l.80,.80l-.80,.80zM274.7,873.0l.80-.80l.80,.80l-.80,.80zM277.1,875.4l.80-.80l.80,.80l-.80,.80zM277.9,876.2l.80-.80l.80,.80l-.80,.80zM278.7,877.0l.80-.80l.80,.80l-.80,.80zM281.1,879.3l.80-.80l.80,.80l-.80,.80zM282.7,880.9l.80-.80l.80,.80l-.80,.80zM285.1,883.3l.80-.80l.80,.80l-.80,.80zM288.3,886.5l.80-.80l.80,.80l-.80,.80zM289.1,887.3l.80-.80l.80,.80l-.80,.80zM292.3,890.5l.80-.80l.80,.80l-.80,.80zM293.1,891.3l.80-.80l.80,.80l-.80,.80zM294.7,892.9l.80-.80l.80,.80l-.80,.80zM297.9,896.1l.80-.80l.80,.80l-.80,.80zM300.3,898.5l.80-.80l.80,.80l-.80,.80zM301.1,899.3l.80-.80l.80,.80l-.80,.80zM302.7,900.9l.80-.80l.80,.80l-.80,.80zM303.5,901.7l.80-.80l.80,.80l-.80,.80zM305.1,903.3l.80-.80l.80,.80l-.80,.80zM306.7,904.9l.80-.80l.80,.80l-.80,.80zM308.3,906.5l.80-.80l.80,.80l-.80,.80zM309.1,907.3l.80-.80l.80,.80l-.80,.80zM310.7,908.9l.80-.80l.80,.80l-.80,.80zM253.2,849.8l.80-.80l.80,.80l-.80,.80zM259.6,856.2l.80-.80l.80,.80l-.80,.80zM262.0,858.6l.80-.80l.80,.80l-.80,.80zM266.0,862.6l.80-.80l.80,.80l-.80,.80zM275.5,872.2l.80-.80l.80,.80l-.80,.80zM278.7,875.4l.80-.80l.80,.80l-.80,.80zM279.5,876.2l.80-.80l.80,.80l-.80,.80zM281.9,878.6l.80-.80l.80,.80l-.80,.80zM283.5,880.1l.80-.80l.80,.80l-.80,.80zM289.1,885.7l.80-.80l.80,.80l-.80,.80zM292.3,888.9l.80-.80l.80,.80l-.80,.80zM293.9,890.5l.80-.80l.80,.80l-.80,.80zM295.5,892.1l.80-.80l.80,.80l-.80,.80zM298.7,895.3l.80-.80l.80,.80l-.80,.80zM301.1,897.7l.80-.80l.80,.80l-.80,.80zM304.3,900.9l.80-.80l.80,.80l-.80,.80zM307.5,904.1l.80-.80l.80,.80l-.80,.80zM309.1,905.7l.80-.80l.80,.80l-.80,.80zM247.6,842.6l.80-.80l.80,.80l-.80,.80zM249.2,844.2l.80-.80l.80,.80l-.80,.80zM250.8,845.8l.80-.80l.80,.80l-.80,.80zM251.6,846.6l.80-.80l.80,.80l-.80,.80zM252.4,847.4l.80-.80l.80,.80l-.80,.80zM254.0,849.0l.80-.80l.80,.80l-.80,.80zM255.6,850.6l.80-.80l.80,.80l-.80,.80zM256.4,851.4l.80-.80l.80,.80l-.80,.80zM257.2,852.2l.80-.80l.80,.80l-.80,.80zM258.8,853.8l.80-.80l.80,.80l-.80,.80zM259.6,854.6l.80-.80l.80,.80l-.80,.80zM260.4,855.4l.80-.80l.80,.80l-.80,.80zM261.2,856.2l.80-.80l.80,.80l-.80,.80zM262.0,857.0l.80-.80l.80,.80l-.80,.80zM262.8,857.8l.80-.80l.80,.80l-.80,.80zM264.4,859.4l.80-.80l.80,.80l-.80,.80zM265.2,860.2l.80-.80l.80,.80l-.80,.80zM266.0,861.0l.80-.80l.80,.80l-.80,.80zM266.8,861.8l.80-.80l.80,.80l-.80,.80zM268.4,863.4l.80-.80l.80,.80l-.80,.80zM270.7,865.8l.80-.80l.80,.80l-.80,.80zM271.5,866.6l.80-.80l.80,.80l-.80,.80zM272.3,867.4l.80-.80l.80,.80l-.80,.80zM273.1,868.2l.80-.80l.80,.80l-.80,.80zM273.9,869.0l.80-.80l.80,.80l-.80,.80zM274.7,869.8l.80-.80l.80,.80l-.80,.80zM275.5,870.6l.80-.80l.80,.80l-.80,.80zM276.3,871.4l.80-.80l.80,.80l-.80,.80zM277.1,872.2l.80-.80l.80,.80l-.80,.80zM277.9,873.0l.80-.80l.80,.80l-.80,.80zM278.7,873.8l.80-.80l.80,.80l-.80,.80zM279.5,874.6l.80-.80l.80,.80l-.80,.80zM280.3,875.4l.80-.80l.80,.80l-.80,.80zM281.1,876.2l.80-.80l.80,.80l-.80,.80zM281.9,877.0l.80-.80l.80,.80l-.80,.80zM282.7,877.8l.80-.80l.80,.80l-.80,.80zM283.5,878.6l.80-.80l.80,.80l-.80,.80zM284.3,879.3l.80-.80l.80,.80l-.80,.80zM285.1,880.1l.80-.80l.80,.80l-.80,.80zM285.9,880.9l.80-.80l.80,.80l-.80,.80zM286.7,881.7l.80-.80l.80,.80l-.80,.80zM287.5,882.5l.80-.80l.80,.80l-.80,.80zM288.3,883.3l.80-.80l.80,.80l-.80,.80zM289.1,884.1l.80-.80l.80,.80l-.80,.80zM289.9,884.9l.80-.80l.80,.80l-.80,.80zM290.7,885.7l.80-.80l.80,.80l-.80,.80zM292.3,887.3l.80-.80l.80,.80l-.80,.80zM293.1,888.1l.80-.80l.80,.80l-.80,.80zM293.9,888.9l.80-.80l.80,.80l-.80,.80zM294.7,889.7l.80-.80l.80,.80l-.80,.80zM295.5,890.5l.80-.80l.80,.80l-.80,.80zM296.3,891.3l.80-.80l.80,.80l-.80,.80zM297.1,892.1l.80-.80l.80,.80l-.80,.80zM297.9,892.9l.80-.80l.80,.80l-.80,.80zM298.7,893.7l.80-.80l.80,.80l-.80,.80zM299.5,894.5l.80-.80l.80,.80l-.80,.80zM300.3,895.3l.80-.80l.80,.80l-.80,.80zM301.1,896.1l.80-.80l.80,.80l-.80,.80zM301.9,896.9l.80-.80l.80,.80l-.80,.80zM302.7,897.7l.80-.80l.80,.80l-.80,.80zM303.5,898.5l.80-.80l.80,.80l-.80,.80zM304.3,899.3l.80-.80l.80,.80l-.80,.80zM305.1,900.1l.80-.80l.80,.80l-.80,.80zM305.9,900.9l.80-.80l.80,.80l-.80,.80zM306.7,901.7l.80-.80l.80,.80l-.80,.80zM307.5,902.5l.80-.80l.80,.80l-.80,.80zM308.3,903.3l.80-.80l.80,.80l-.80,.80zM309.1,904.1l.80-.80l.80,.80l-.80,.80zM309.9,904.9l.80-.80l.80,.80l-.80,.80zM310.7,905.7l.80-.80l.80,.80l-.80,.80zM311.5,906.5l.80-.80l.80,.80l-.80,.80zM312.3,907.3l.80-.80l.80,.80l-.80,.80zM265.2,858.6l.80-.80l.80,.80l-.80,.80zM266.8,860.2l.80-.80l.80,.80l-.80,.80zM277.1,870.6l.80-.80l.80,.80l-.80,.80zM284.3,877.8l.80-.80l.80,.80l-.80,.80zM285.1,878.6l.80-.80l.80,.80l-.80,.80zM287.5,880.9l.80-.80l.80,.80l-.80,.80zM293.9,887.3l.80-.80l.80,.80l-.80,.80zM297.1,890.5l.80-.80l.80,.80l-.80,.80zM302.7,896.1l.80-.80l.80,.80l-.80,.80zM305.9,899.3l.80-.80l.80,.80l-.80,.80zM309.1,902.5l.80-.80l.80,.80l-.80,.80zM310.7,904.1l.80-.80l.80,.80l-.80,.80zM250.8,842.6l.80-.80l.80,.80l-.80,.80zM251.6,843.4l.80-.80l.80,.80l-.80,.80zM253.2,845.0l.80-.80l.80,.80l-.80,.80zM254.0,845.8l.80-.80l.80,.80l-.80,.80zM254.8,846.6l.80-.80l.80,.80l-.80,.80zM255.6,847.4l.80-.80l.80,.80l-.80,.80zM257.2,849.0l.80-.80l.80,.80l-.80,.80zM258.0,849.8l.80-.80l.80,.80l-.80,.80zM258.8,850.6l.80-.80l.80,.80l-.80,.80zM259.6,851.4l.80-.80l.80,.80l-.80,.80zM260.4,852.2l.80-.80l.80,.80l-.80,.80zM261.2,853.0l.80-.80l.80,.80l-.80,.80zM262.0,853.8l.80-.80l.80,.80l-.80,.80zM262.8,854.6l.80-.80l.80,.80l-.80,.80zM264.4,856.2l.80-.80l.80,.80l-.80,.80zM265.2,857.0l.80-.80l.80,.80l-.80,.80zM266.0,857.8l.80-.80l.80,.80l-.80,.80zM266.8,858.6l.80-.80l.80,.80l-.80,.80zM267.6,859.4l.80-.80l.80,.80l-.80,.80zM268.4,860.2l.80-.80l.80,.80l-.80,.80zM269.9,861.8l.80-.80l.80,.80l-.80,.80zM270.7,862.6l.80-.80l.80,.80l-.80,.80zM271.5,863.4l.80-.80l.80,.80l-.80,.80zM272.3,864.2l.80-.80l.80,.80l-.80,.80zM273.1,865.0l.80-.80l.80,.80l-.80,.80zM274.7,866.6l.80-.80l.80,.80l-.80,.80zM275.5,867.4l.80-.80l.80,.80l-.80,.80zM276.3,868.2l.80-.80l.80,.80l-.80,.80zM277.1,869.0l.80-.80l.80,.80l-.80,.80zM277.9,869.8l.80-.80l.80,.80l-.80,.80zM278.7,870.6l.80-.80l.80,.80l-.80,.80zM279.5,871.4l.80-.80l.80,.80l-.80,.80zM280.3,872.2l.80-.80l.80,.80l-.80,.80zM281.1,873.0l.80-.80l.80,.80l-.80,.80zM281.9,873.8l.80-.80l.80,.80l-.80,.80zM282.7,874.6l.80-.80l.80,.80l-.80,.80zM283.5,875.4l.80-.80l.80,.80l-.80,.80zM284.3,876.2l.80-.80l.80,.80l-.80,.80zM285.1,877.0l.80-.80l.80,.80l-.80,.80zM285.9,877.8l.80-.80l.80,.80l-.80,.80zM286.7,878.6l.80-.80l.80,.80l-.80,.80zM287.5,879.3l.80-.80l.80,.80l-.80,.80zM288.3,880.1l.80-.80l.80,.80l-.80,.80zM289.1,880.9l.80-.80l.80,.80l-.80,.80zM289.9,881.7l.80-.80l.80,.80l-.80,.80zM290.7,882.5l.80-.80l.80,.80l-.80,.80zM291.5,883.3l.80-.80l.80,.80l-.80,.80zM292.3,884.1l.80-.80l.80,.80l-.80,.80zM293.1,884.9l.80-.80l.80,.80l-.80,.80zM293.9,885.7l.80-.80l.80,.80l-.80,.80zM294.7,886.5l.80-.80l.80,.80l-.80,.80zM296.3,888.1l.80-.80l.80,.80l-.80,.80zM297.9,889.7l.80-.80l.80,.80l-.80,.80zM298.7,890.5l.80-.80l.80,.80l-.80,.80zM299.5,891.3l.80-.80l.80,.80l-.80,.80zM300.3,892.1l.80-.80l.80,.80l-.80,.80zM301.1,892.9l.80-.80l.80,.80l-.80,.80zM301.9,893.7l.80-.80l.80,.80l-.80,.80zM302.7,894.5l.80-.80l.80,.80l-.80,.80zM303.5,895.3l.80-.80l.80,.80l-.80,.80zM305.1,896.9l.80-.80l.80,.80l-.80,.80zM305.9,897.7l.80-.80l.80,.80l-.80,.80zM306.7,898.5l.80-.80l.80,.80l-.80,.80zM307.5,899.3l.80-.80l.80,.80l-.80,.80zM308.3,900.1l.80-.80l.80,.80l-.80,.80zM309.1,900.9l.80-.80l.80,.80l-.80,.80zM309.9,901.7l.80-.80l.80,.80l-.80,.80zM310.7,902.5l.80-.80l.80,.80l-.80,.80zM311.5,903.3l.80-.80l.80,.80l-.80,.80zM313.1,904.9l.80-.80l.80,.80l-.80,.80zM313.9,905.7l.80-.80l.80,.80l-.80,.80zM268.4,858.6l.80-.80l.80,.80l-.80,.80zM269.2,859.4l.80-.80l.80,.80l-.80,.80zM273.1,863.4l.80-.80l.80,.80l-.80,.80zM277.1,867.4l.80-.80l.80,.80l-.80,.80zM278.7,869.0l.80-.80l.80,.80l-.80,.80zM281.9,872.2l.80-.80l.80,.80l-.80,.80zM282.7,873.0l.80-.80l.80,.80l-.80,.80zM285.9,876.2l.80-.80l.80,.80l-.80,.80zM286.7,877.0l.80-.80l.80,.80l-.80,.80zM293.1,883.3l.80-.80l.80,.80l-.80,.80zM297.1,887.3l.80-.80l.80,.80l-.80,.80zM298.7,888.9l.80-.80l.80,.80l-.80,.80zM301.9,892.1l.80-.80l.80,.80l-.80,.80zM302.7,892.9l.80-.80l.80,.80l-.80,.80zM304.3,894.5l.80-.80l.80,.80l-.80,.80zM307.5,897.7l.80-.80l.80,.80l-.80,.80zM310.7,900.9l.80-.80l.80,.80l-.80,.80zM312.3,902.5l.80-.80l.80,.80l-.80,.80zM263.6,852.2l.80-.80l.80,.80l-.80,.80zM266.0,854.6l.80-.80l.80,.80l-.80,.80zM269.2,857.8l.80-.80l.80,.80l-.80,.80zM269.9,858.6l.80-.80l.80,.80l-.80,.80zM271.5,860.2l.80-.80l.80,.80l-.80,.80zM273.9,862.6l.80-.80l.80,.80l-.80,.80zM277.9,866.6l.80-.80l.80,.80l-.80,.80zM278.7,867.4l.80-.80l.80,.80l-.80,.80zM279.5,868.2l.80-.80l.80,.80l-.80,.80zM286.7,875.4l.80-.80l.80,.80l-.80,.80zM289.9,878.6l.80-.80l.80,.80l-.80,.80zM291.5,880.1l.80-.80l.80,.80l-.80,.80zM293.1,881.7l.80-.80l.80,.80l-.80,.80zM293.9,882.5l.80-.80l.80,.80l-.80,.80zM296.3,884.9l.80-.80l.80,.80l-.80,.80zM299.5,888.1l.80-.80l.80,.80l-.80,.80zM302.7,891.3l.80-.80l.80,.80l-.80,.80zM305.1,893.7l.80-.80l.80,.80l-.80,.80zM308.3,896.9l.80-.80l.80,.80l-.80,.80zM309.9,898.5l.80-.80l.80,.80l-.80,.80zM311.5,900.1l.80-.80l.80,.80l-.80,.80zM313.1,901.7l.80-.80l.80,.80l-.80,.80zM315.5,904.1l.80-.80l.80,.80l-.80,.80zM258.0,845.0l.80-.80l.80,.80l-.80,.80zM259.6,846.6l.80-.80l.80,.80l-.80,.80zM261.2,848.2l.80-.80l.80,.80l-.80,.80zM263.6,850.6l.80-.80l.80,.80l-.80,.80zM270.7,857.8l.80-.80l.80,.80l-.80,.80zM272.3,859.4l.80-.80l.80,.80l-.80,.80zM277.1,864.2l.80-.80l.80,.80l-.80,.80zM280.3,867.4l.80-.80l.80,.80l-.80,.80zM283.5,870.6l.80-.80l.80,.80l-.80,.80zM286.7,873.8l.80-.80l.80,.80l-.80,.80zM287.5,874.6l.80-.80l.80,.80l-.80,.80zM288.3,875.4l.80-.80l.80,.80l-.80,.80zM290.7,877.8l.80-.80l.80,.80l-.80,.80zM293.9,880.9l.80-.80l.80,.80l-.80,.80zM294.7,881.7l.80-.80l.80,.80l-.80,.80zM298.7,885.7l.80-.80l.80,.80l-.80,.80zM300.3,887.3l.80-.80l.80,.80l-.80,.80zM303.5,890.5l.80-.80l.80,.80l-.80,.80zM305.1,892.1l.80-.80l.80,.80l-.80,.80zM305.9,892.9l.80-.80l.80,.80l-.80,.80zM309.1,896.1l.80-.80l.80,.80l-.80,.80zM310.7,897.7l.80-.80l.80,.80l-.80,.80zM312.3,899.3l.80-.80l.80,.80l-.80,.80zM313.1,900.1l.80-.80l.80,.80l-.80,.80zM313.9,900.9l.80-.80l.80,.80l-.80,.80zM315.5,902.5l.80-.80l.80,.80l-.80,.80zM316.3,903.3l.80-.80l.80,.80l-.80,.80zM260.4,845.8l.80-.80l.80,.80l-.80,.80zM264.4,849.8l.80-.80l.80,.80l-.80,.80zM269.2,854.6l.80-.80l.80,.80l-.80,.80zM270.7,856.2l.80-.80l.80,.80l-.80,.80zM275.5,861.0l.80-.80l.80,.80l-.80,.80zM277.9,863.4l.80-.80l.80,.80l-.80,.80zM279.5,865.0l.80-.80l.80,.80l-.80,.80zM281.1,866.6l.80-.80l.80,.80l-.80,.80zM284.3,869.8l.80-.80l.80,.80l-.80,.80zM288.3,873.8l.80-.80l.80,.80l-.80,.80zM294.7,880.1l.80-.80l.80,.80l-.80,.80zM295.5,880.9l.80-.80l.80,.80l-.80,.80zM297.9,883.3l.80-.80l.80,.80l-.80,.80zM298.7,884.1l.80-.80l.80,.80l-.80,.80zM299.5,884.9l.80-.80l.80,.80l-.80,.80zM301.1,886.5l.80-.80l.80,.80l-.80,.80zM304.3,889.7l.80-.80l.80,.80l-.80,.80zM305.1,890.5l.80-.80l.80,.80l-.80,.80zM306.7,892.1l.80-.80l.80,.80l-.80,.80zM309.9,895.3l.80-.80l.80,.80l-.80,.80zM313.1,898.5l.80-.80l.80,.80l-.80,.80zM314.7,900.1l.80-.80l.80,.80l-.80,.80zM317.1,902.5l.80-.80l.80,.80l-.80,.80zM264.4,848.2l.80-.80l.80,.80l-.80,.80zM266.0,849.8l.80-.80l.80,.80l-.80,.80zM272.3,856.2l.80-.80l.80,.80l-.80,.80zM273.9,857.8l.80-.80l.80,.80l-.80,.80zM278.7,862.6l.80-.80l.80,.80l-.80,.80zM280.3,864.2l.80-.80l.80,.80l-.80,.80zM281.1,865.0l.80-.80l.80,.80l-.80,.80zM281.9,865.8l.80-.80l.80,.80l-.80,.80zM285.9,869.8l.80-.80l.80,.80l-.80,.80zM288.3,872.2l.80-.80l.80,.80l-.80,.80zM289.1,873.0l.80-.80l.80,.80l-.80,.80zM289.9,873.8l.80-.80l.80,.80l-.80,.80zM292.3,876.2l.80-.80l.80,.80l-.80,.80zM293.9,877.8l.80-.80l.80,.80l-.80,.80zM294.7,878.6l.80-.80l.80,.80l-.80,.80zM296.3,880.1l.80-.80l.80,.80l-.80,.80zM297.9,881.7l.80-.80l.80,.80l-.80,.80zM298.7,882.5l.80-.80l.80,.80l-.80,.80zM300.3,884.1l.80-.80l.80,.80l-.80,.80zM301.9,885.7l.80-.80l.80,.80l-.80,.80zM305.1,888.9l.80-.80l.80,.80l-.80,.80zM306.7,890.5l.80-.80l.80,.80l-.80,.80zM307.5,891.3l.80-.80l.80,.80l-.80,.80zM308.3,892.1l.80-.80l.80,.80l-.80,.80zM310.7,894.5l.80-.80l.80,.80l-.80,.80zM313.9,897.7l.80-.80l.80,.80l-.80,.80zM315.5,899.3l.80-.80l.80,.80l-.80,.80zM262.0,844.2l.80-.80l.80,.80l-.80,.80zM263.6,845.8l.80-.80l.80,.80l-.80,.80zM265.2,847.4l.80-.80l.80,.80l-.80,.80zM266.0,848.2l.80-.80l.80,.80l-.80,.80zM266.8,849.0l.80-.80l.80,.80l-.80,.80zM267.6,849.8l.80-.80l.80,.80l-.80,.80zM269.2,851.4l.80-.80l.80,.80l-.80,.80zM270.7,853.0l.80-.80l.80,.80l-.80,.80zM272.3,854.6l.80-.80l.80,.80l-.80,.80zM273.1,855.4l.80-.80l.80,.80l-.80,.80zM274.7,857.0l.80-.80l.80,.80l-.80,.80zM276.3,858.6l.80-.80l.80,.80l-.80,.80zM277.1,859.4l.80-.80l.80,.80l-.80,.80zM277.9,860.2l.80-.80l.80,.80l-.80,.80zM279.5,861.8l.80-.80l.80,.80l-.80,.80zM281.9,864.2l.80-.80l.80,.80l-.80,.80zM282.7,865.0l.80-.80l.80,.80l-.80,.80zM285.9,868.2l.80-.80l.80,.80l-.80,.80zM286.7,869.0l.80-.80l.80,.80l-.80,.80zM289.1,871.4l.80-.80l.80,.80l-.80,.80zM289.9,872.2l.80-.80l.80,.80l-.80,.80zM290.7,873.0l.80-.80l.80,.80l-.80,.80zM291.5,873.8l.80-.80l.80,.80l-.80,.80zM292.3,874.6l.80-.80l.80,.80l-.80,.80zM293.1,875.4l.80-.80l.80,.80l-.80,.80zM293.9,876.2l.80-.80l.80,.80l-.80,.80zM294.7,877.0l.80-.80l.80,.80l-.80,.80zM296.3,878.6l.80-.80l.80,.80l-.80,.80zM297.1,879.3l.80-.80l.80,.80l-.80,.80zM298.7,880.9l.80-.80l.80,.80l-.80,.80zM299.5,881.7l.80-.80l.80,.80l-.80,.80zM300.3,882.5l.80-.80l.80,.80l-.80,.80zM301.1,883.3l.80-.80l.80,.80l-.80,.80zM301.9,884.1l.80-.80l.80,.80l-.80,.80zM302.7,884.9l.80-.80l.80,.80l-.80,.80zM303.5,885.7l.80-.80l.80,.80l-.80,.80zM304.3,886.5l.80-.80l.80,.80l-.80,.80zM305.1,887.3l.80-.80l.80,.80l-.80,.80zM305.9,888.1l.80-.80l.80,.80l-.80,.80zM306.7,888.9l.80-.80l.80,.80l-.80,.80zM307.5,889.7l.80-.80l.80,.80l-.80,.80zM308.3,890.5l.80-.80l.80,.80l-.80,.80zM309.1,891.3l.80-.80l.80,.80l-.80,.80zM309.9,892.1l.80-.80l.80,.80l-.80,.80zM310.7,892.9l.80-.80l.80,.80l-.80,.80zM311.5,893.7l.80-.80l.80,.80l-.80,.80zM313.1,895.3l.80-.80l.80,.80l-.80,.80zM314.7,896.9l.80-.80l.80,.80l-.80,.80zM315.5,897.7l.80-.80l.80,.80l-.80,.80zM316.3,898.5l.80-.80l.80,.80l-.80,.80zM317.1,899.3l.80-.80l.80,.80l-.80,.80zM317.9,900.1l.80-.80l.80,.80l-.80,.80zM318.7,900.9l.80-.80l.80,.80l-.80,.80zM266.0,846.6l.80-.80l.80,.80l-.80,.80zM273.1,853.8l.80-.80l.80,.80l-.80,.80zM280.3,861.0l.80-.80l.80,.80l-.80,.80zM283.5,864.2l.80-.80l.80,.80l-.80,.80zM293.9,874.6l.80-.80l.80,.80l-.80,.80zM297.9,878.6l.80-.80l.80,.80l-.80,.80zM300.3,880.9l.80-.80l.80,.80l-.80,.80zM301.9,882.5l.80-.80l.80,.80l-.80,.80zM306.7,887.3l.80-.80l.80,.80l-.80,.80zM309.1,889.7l.80-.80l.80,.80l-.80,.80zM315.5,896.1l.80-.80l.80,.80l-.80,.80zM317.1,897.7l.80-.80l.80,.80l-.80,.80zM263.6,842.6l.80-.80l.80,.80l-.80,.80zM264.4,843.4l.80-.80l.80,.80l-.80,.80zM265.2,844.2l.80-.80l.80,.80l-.80,.80zM266.8,845.8l.80-.80l.80,.80l-.80,.80zM267.6,846.6l.80-.80l.80,.80l-.80,.80zM268.4,847.4l.80-.80l.80,.80l-.80,.80zM270.7,849.8l.80-.80l.80,.80l-.80,.80zM271.5,850.6l.80-.80l.80,.80l-.80,.80zM272.3,851.4l.80-.80l.80,.80l-.80,.80zM273.1,852.2l.80-.80l.80,.80l-.80,.80zM273.9,853.0l.80-.80l.80,.80l-.80,.80zM274.7,853.8l.80-.80l.80,.80l-.80,.80zM276.3,855.4l.80-.80l.80,.80l-.80,.80zM277.9,857.0l.80-.80l.80,.80l-.80,.80zM278.7,857.8l.80-.80l.80,.80l-.80,.80zM279.5,858.6l.80-.80l.80,.80l-.80,.80zM281.1,860.2l.80-.80l.80,.80l-.80,.80zM282.7,861.8l.80-.80l.80,.80l-.80,.80zM283.5,862.6l.80-.80l.80,.80l-.80,.80zM284.3,863.4l.80-.80l.80,.80l-.80,.80zM286.7,865.8l.80-.80l.80,.80l-.80,.80zM287.5,866.6l.80-.80l.80,.80l-.80,.80zM288.3,867.4l.80-.80l.80,.80l-.80,.80zM289.1,868.2l.80-.80l.80,.80l-.80,.80zM290.7,869.8l.80-.80l.80,.80l-.80,.80zM291.5,870.6l.80-.80l.80,.80l-.80,.80zM292.3,871.4l.80-.80l.80,.80l-.80,.80zM293.9,873.0l.80-.80l.80,.80l-.80,.80zM294.7,873.8l.80-.80l.80,.80l-.80,.80zM296.3,875.4l.80-.80l.80,.80l-.80,.80zM297.1,876.2l.80-.80l.80,.80l-.80,.80zM297.9,877.0l.80-.80l.80,.80l-.80,.80zM298.7,877.8l.80-.80l.80,.80l-.80,.80zM299.5,878.6l.80-.80l.80,.80l-.80,.80zM300.3,879.3l.80-.80l.80,.80l-.80,.80zM301.1,880.1l.80-.80l.80,.80l-.80,.80zM302.7,881.7l.80-.80l.80,.80l-.80,.80zM304.3,883.3l.80-.80l.80,.80l-.80,.80zM305.1,884.1l.80-.80l.80,.80l-.80,.80zM306.7,885.7l.80-.80l.80,.80l-.80,.80zM307.5,886.5l.80-.80l.80,.80l-.80,.80zM308.3,887.3l.80-.80l.80,.80l-.80,.80zM309.1,888.1l.80-.80l.80,.80l-.80,.80zM309.9,888.9l.80-.80l.80,.80l-.80,.80zM310.7,889.7l.80-.80l.80,.80l-.80,.80zM311.5,890.5l.80-.80l.80,.80l-.80,.80zM312.3,891.3l.80-.80l.80,.80l-.80,.80zM313.1,892.1l.80-.80l.80,.80l-.80,.80zM313.9,892.9l.80-.80l.80,.80l-.80,.80zM314.7,893.7l.80-.80l.80,.80l-.80,.80zM315.5,894.5l.80-.80l.80,.80l-.80,.80zM316.3,895.3l.80-.80l.80,.80l-.80,.80zM317.1,896.1l.80-.80l.80,.80l-.80,.80zM317.9,896.9l.80-.80l.80,.80l-.80,.80zM318.7,897.7l.80-.80l.80,.80l-.80,.80zM319.5,898.5l.80-.80l.80,.80l-.80,.80zM320.3,899.3l.80-.80l.80,.80l-.80,.80zM268.4,845.8l.80-.80l.80,.80l-.80,.80zM274.7,852.2l.80-.80l.80,.80l-.80,.80zM275.5,853.0l.80-.80l.80,.80l-.80,.80zM277.1,854.6l.80-.80l.80,.80l-.80,.80zM279.5,857.0l.80-.80l.80,.80l-.80,.80zM280.3,857.8l.80-.80l.80,.80l-.80,.80zM281.9,859.4l.80-.80l.80,.80l-.80,.80zM283.5,861.0l.80-.80l.80,.80l-.80,.80zM288.3,865.8l.80-.80l.80,.80l-.80,.80zM289.1,866.6l.80-.80l.80,.80l-.80,.80zM292.3,869.8l.80-.80l.80,.80l-.80,.80zM293.1,870.6l.80-.80l.80,.80l-.80,.80zM295.5,873.0l.80-.80l.80,.80l-.80,.80zM298.7,876.2l.80-.80l.80,.80l-.80,.80zM299.5,877.0l.80-.80l.80,.80l-.80,.80zM303.5,880.9l.80-.80l.80,.80l-.80,.80zM305.1,882.5l.80-.80l.80,.80l-.80,.80zM308.3,885.7l.80-.80l.80,.80l-.80,.80zM310.7,888.1l.80-.80l.80,.80l-.80,.80zM313.9,891.3l.80-.80l.80,.80l-.80,.80zM315.5,892.9l.80-.80l.80,.80l-.80,.80zM317.1,894.5l.80-.80l.80,.80l-.80,.80zM318.7,896.1l.80-.80l.80,.80l-.80,.80zM266.8,842.6l.80-.80l.80,.80l-.80,.80zM267.6,843.4l.80-.80l.80,.80l-.80,.80zM268.4,844.2l.80-.80l.80,.80l-.80,.80zM269.2,845.0l.80-.80l.80,.80l-.80,.80zM269.9,845.8l.80-.80l.80,.80l-.80,.80zM272.3,848.2l.80-.80l.80,.80l-.80,.80zM273.1,849.0l.80-.80l.80,.80l-.80,.80zM273.9,849.8l.80-.80l.80,.80l-.80,.80zM275.5,851.4l.80-.80l.80,.80l-.80,.80zM276.3,852.2l.80-.80l.80,.80l-.80,.80zM277.9,853.8l.80-.80l.80,.80l-.80,.80zM278.7,854.6l.80-.80l.80,.80l-.80,.80zM280.3,856.2l.80-.80l.80,.80l-.80,.80zM281.1,857.0l.80-.80l.80,.80l-.80,.80zM282.7,858.6l.80-.80l.80,.80l-.80,.80zM283.5,859.4l.80-.80l.80,.80l-.80,.80zM284.3,860.2l.80-.80l.80,.80l-.80,.80zM285.1,861.0l.80-.80l.80,.80l-.80,.80zM285.9,861.8l.80-.80l.80,.80l-.80,.80zM288.3,864.2l.80-.80l.80,.80l-.80,.80zM289.1,865.0l.80-.80l.80,.80l-.80,.80zM289.9,865.8l.80-.80l.80,.80l-.80,.80zM290.7,866.6l.80-.80l.80,.80l-.80,.80zM291.5,867.4l.80-.80l.80,.80l-.80,.80zM292.3,868.2l.80-.80l.80,.80l-.80,.80zM293.1,869.0l.80-.80l.80,.80l-.80,.80zM293.9,869.8l.80-.80l.80,.80l-.80,.80zM294.7,870.6l.80-.80l.80,.80l-.80,.80zM295.5,871.4l.80-.80l.80,.80l-.80,.80zM296.3,872.2l.80-.80l.80,.80l-.80,.80zM297.9,873.8l.80-.80l.80,.80l-.80,.80zM298.7,874.6l.80-.80l.80,.80l-.80,.80zM299.5,875.4l.80-.80l.80,.80l-.80,.80zM300.3,876.2l.80-.80l.80,.80l-.80,.80zM301.9,877.8l.80-.80l.80,.80l-.80,.80zM302.7,878.6l.80-.80l.80,.80l-.80,.80zM303.5,879.3l.80-.80l.80,.80l-.80,.80zM304.3,880.1l.80-.80l.80,.80l-.80,.80zM305.9,881.7l.80-.80l.80,.80l-.80,.80zM308.3,884.1l.80-.80l.80,.80l-.80,.80zM309.1,884.9l.80-.80l.80,.80l-.80,.80zM309.9,885.7l.80-.80l.80,.80l-.80,.80zM311.5,887.3l.80-.80l.80,.80l-.80,.80zM312.3,888.1l.80-.80l.80,.80l-.80,.80zM313.1,888.9l.80-.80l.80,.80l-.80,.80zM313.9,889.7l.80-.80l.80,.80l-.80,.80zM314.7,890.5l.80-.80l.80,.80l-.80,.80zM316.3,892.1l.80-.80l.80,.80l-.80,.80zM317.1,892.9l.80-.80l.80,.80l-.80,.80zM317.9,893.7l.80-.80l.80,.80l-.80,.80zM318.7,894.5l.80-.80l.80,.80l-.80,.80zM319.5,895.3l.80-.80l.80,.80l-.80,.80zM321.1,896.9l.80-.80l.80,.80l-.80,.80zM321.9,897.7l.80-.80l.80,.80l-.80,.80zM273.1,847.4l.80-.80l.80,.80l-.80,.80zM277.1,851.4l.80-.80l.80,.80l-.80,.80zM278.7,853.0l.80-.80l.80,.80l-.80,.80zM285.1,859.4l.80-.80l.80,.80l-.80,.80zM286.7,861.0l.80-.80l.80,.80l-.80,.80zM289.9,864.2l.80-.80l.80,.80l-.80,.80zM293.9,868.2l.80-.80l.80,.80l-.80,.80zM295.5,869.8l.80-.80l.80,.80l-.80,.80zM297.1,871.4l.80-.80l.80,.80l-.80,.80zM298.7,873.0l.80-.80l.80,.80l-.80,.80zM301.1,875.4l.80-.80l.80,.80l-.80,.80zM303.5,877.8l.80-.80l.80,.80l-.80,.80zM305.1,879.3l.80-.80l.80,.80l-.80,.80zM306.7,880.9l.80-.80l.80,.80l-.80,.80zM309.9,884.1l.80-.80l.80,.80l-.80,.80zM312.3,886.5l.80-.80l.80,.80l-.80,.80zM315.5,889.7l.80-.80l.80,.80l-.80,.80zM317.1,891.3l.80-.80l.80,.80l-.80,.80zM318.7,892.9l.80-.80l.80,.80l-.80,.80zM320.3,894.5l.80-.80l.80,.80l-.80,.80zM269.9,842.6l.80-.80l.80,.80l-.80,.80zM270.7,843.4l.80-.80l.80,.80l-.80,.80zM271.5,844.2l.80-.80l.80,.80l-.80,.80zM272.3,845.0l.80-.80l.80,.80l-.80,.80zM273.9,846.6l.80-.80l.80,.80l-.80,.80zM274.7,847.4l.80-.80l.80,.80l-.80,.80zM275.5,848.2l.80-.80l.80,.80l-.80,.80zM277.1,849.8l.80-.80l.80,.80l-.80,.80zM277.9,850.6l.80-.80l.80,.80l-.80,.80zM279.5,852.2l.80-.80l.80,.80l-.80,.80zM280.3,853.0l.80-.80l.80,.80l-.80,.80zM281.9,854.6l.80-.80l.80,.80l-.80,.80zM282.7,855.4l.80-.80l.80,.80l-.80,.80zM283.5,856.2l.80-.80l.80,.80l-.80,.80zM284.3,857.0l.80-.80l.80,.80l-.80,.80zM285.1,857.8l.80-.80l.80,.80l-.80,.80zM285.9,858.6l.80-.80l.80,.80l-.80,.80zM286.7,859.4l.80-.80l.80,.80l-.80,.80zM287.5,860.2l.80-.80l.80,.80l-.80,.80zM289.1,861.8l.80-.80l.80,.80l-.80,.80zM289.9,862.6l.80-.80l.80,.80l-.80,.80zM290.7,863.4l.80-.80l.80,.80l-.80,.80zM291.5,864.2l.80-.80l.80,.80l-.80,.80zM292.3,865.0l.80-.80l.80,.80l-.80,.80zM293.1,865.8l.80-.80l.80,.80l-.80,.80zM293.9,866.6l.80-.80l.80,.80l-.80,.80zM294.7,867.4l.80-.80l.80,.80l-.80,.80zM295.5,868.2l.80-.80l.80,.80l-.80,.80zM296.3,869.0l.80-.80l.80,.80l-.80,.80zM297.1,869.8l.80-.80l.80,.80l-.80,.80zM297.9,870.6l.80-.80l.80,.80l-.80,.80zM298.7,871.4l.80-.80l.80,.80l-.80,.80zM299.5,872.2l.80-.80l.80,.80l-.80,.80zM301.1,873.8l.80-.80l.80,.80l-.80,.80zM301.9,874.6l.80-.80l.80,.80l-.80,.80zM303.5,876.2l.80-.80l.80,.80l-.80,.80zM304.3,877.0l.80-.80l.80,.80l-.80,.80zM305.1,877.8l.80-.80l.80,.80l-.80,.80zM305.9,878.6l.80-.80l.80,.80l-.80,.80zM306.7,879.3l.80-.80l.80,.80l-.80,.80zM307.5,880.1l.80-.80l.80,.80l-.80,.80zM308.3,880.9l.80-.80l.80,.80l-.80,.80zM309.1,881.7l.80-.80l.80,.80l-.80,.80zM310.7,883.3l.80-.80l.80,.80l-.80,.80zM311.5,884.1l.80-.80l.80,.80l-.80,.80zM312.3,884.9l.80-.80l.80,.80l-.80,.80zM313.1,885.7l.80-.80l.80,.80l-.80,.80zM313.9,886.5l.80-.80l.80,.80l-.80,.80zM315.5,888.1l.80-.80l.80,.80l-.80,.80zM316.3,888.9l.80-.80l.80,.80l-.80,.80zM317.1,889.7l.80-.80l.80,.80l-.80,.80zM317.9,890.5l.80-.80l.80,.80l-.80,.80zM319.5,892.1l.80-.80l.80,.80l-.80,.80zM321.1,893.7l.80-.80l.80,.80l-.80,.80zM322.7,895.3l.80-.80l.80,.80l-.80,.80zM323.5,896.1l.80-.80l.80,.80l-.80,.80zM271.5,842.6l.80-.80l.80,.80l-.80,.80zM272.3,843.4l.80-.80l.80,.80l-.80,.80zM273.9,845.0l.80-.80l.80,.80l-.80,.80zM274.7,845.8l.80-.80l.80,.80l-.80,.80zM275.5,846.6l.80-.80l.80,.80l-.80,.80zM276.3,847.4l.80-.80l.80,.80l-.80,.80zM277.9,849.0l.80-.80l.80,.80l-.80,.80zM278.7,849.8l.80-.80l.80,.80l-.80,.80zM280.3,851.4l.80-.80l.80,.80l-.80,.80zM281.9,853.0l.80-.80l.80,.80l-.80,.80zM282.7,853.8l.80-.80l.80,.80l-.80,.80zM283.5,854.6l.80-.80l.80,.80l-.80,.80zM284.3,855.4l.80-.80l.80,.80l-.80,.80zM285.1,856.2l.80-.80l.80,.80l-.80,.80zM286.7,857.8l.80-.80l.80,.80l-.80,.80zM287.5,858.6l.80-.80l.80,.80l-.80,.80zM288.3,859.4l.80-.80l.80,.80l-.80,.80zM289.1,860.2l.80-.80l.80,.80l-.80,.80zM291.5,862.6l.80-.80l.80,.80l-.80,.80zM292.3,863.4l.80-.80l.80,.80l-.80,.80zM293.1,864.2l.80-.80l.80,.80l-.80,.80zM294.7,865.8l.80-.80l.80,.80l-.80,.80zM295.5,866.6l.80-.80l.80,.80l-.80,.80zM296.3,867.4l.80-.80l.80,.80l-.80,.80zM297.1,868.2l.80-.80l.80,.80l-.80,.80zM297.9,869.0l.80-.80l.80,.80l-.80,.80zM298.7,869.8l.80-.80l.80,.80l-.80,.80zM300.3,871.4l.80-.80l.80,.80l-.80,.80zM301.9,873.0l.80-.80l.80,.80l-.80,.80zM302.7,873.8l.80-.80l.80,.80l-.80,.80zM303.5,874.6l.80-.80l.80,.80l-.80,.80zM304.3,875.4l.80-.80l.80,.80l-.80,.80zM305.1,876.2l.80-.80l.80,.80l-.80,.80zM305.9,877.0l.80-.80l.80,.80l-.80,.80zM306.7,877.8l.80-.80l.80,.80l-.80,.80zM307.5,878.6l.80-.80l.80,.80l-.80,.80zM308.3,879.3l.80-.80l.80,.80l-.80,.80zM310.7,881.7l.80-.80l.80,.80l-.80,.80zM311.5,882.5l.80-.80l.80,.80l-.80,.80zM312.3,883.3l.80-.80l.80,.80l-.80,.80zM313.9,884.9l.80-.80l.80,.80l-.80,.80zM315.5,886.5l.80-.80l.80,.80l-.80,.80zM316.3,887.3l.80-.80l.80,.80l-.80,.80zM317.1,888.1l.80-.80l.80,.80l-.80,.80zM318.7,889.7l.80-.80l.80,.80l-.80,.80zM319.5,890.5l.80-.80l.80,.80l-.80,.80zM320.3,891.3l.80-.80l.80,.80l-.80,.80zM321.1,892.1l.80-.80l.80,.80l-.80,.80zM321.9,892.9l.80-.80l.80,.80l-.80,.80zM323.5,894.5l.80-.80l.80,.80l-.80,.80zM324.3,895.3l.80-.80l.80,.80l-.80,.80zM273.1,842.6l.80-.80l.80,.80l-.80,.80zM275.5,845.0l.80-.80l.80,.80l-.80,.80zM276.3,845.8l.80-.80l.80,.80l-.80,.80zM278.7,848.2l.80-.80l.80,.80l-.80,.80zM279.5,849.0l.80-.80l.80,.80l-.80,.80zM281.9,851.4l.80-.80l.80,.80l-.80,.80zM283.5,853.0l.80-.80l.80,.80l-.80,.80zM285.1,854.6l.80-.80l.80,.80l-.80,.80zM285.9,855.4l.80-.80l.80,.80l-.80,.80zM287.5,857.0l.80-.80l.80,.80l-.80,.80zM288.3,857.8l.80-.80l.80,.80l-.80,.80zM289.1,858.6l.80-.80l.80,.80l-.80,.80zM291.5,861.0l.80-.80l.80,.80l-.80,.80zM292.3,861.8l.80-.80l.80,.80l-.80,.80zM293.1,862.6l.80-.80l.80,.80l-.80,.80zM293.9,863.4l.80-.80l.80,.80l-.80,.80zM295.5,865.0l.80-.80l.80,.80l-.80,.80zM296.3,865.8l.80-.80l.80,.80l-.80,.80zM297.1,866.6l.80-.80l.80,.80l-.80,.80zM299.5,869.0l.80-.80l.80,.80l-.80,.80zM301.1,870.6l.80-.80l.80,.80l-.80,.80zM303.5,873.0l.80-.80l.80,.80l-.80,.80zM304.3,873.8l.80-.80l.80,.80l-.80,.80zM305.1,874.6l.80-.80l.80,.80l-.80,.80zM305.9,875.4l.80-.80l.80,.80l-.80,.80zM306.7,876.2l.80-.80l.80,.80l-.80,.80zM307.5,877.0l.80-.80l.80,.80l-.80,.80zM308.3,877.8l.80-.80l.80,.80l-.80,.80zM309.1,878.6l.80-.80l.80,.80l-.80,.80zM309.9,879.3l.80-.80l.80,.80l-.80,.80zM312.3,881.7l.80-.80l.80,.80l-.80,.80zM313.9,883.3l.80-.80l.80,.80l-.80,.80zM314.7,884.1l.80-.80l.80,.80l-.80,.80zM315.5,884.9l.80-.80l.80,.80l-.80,.80zM316.3,885.7l.80-.80l.80,.80l-.80,.80zM317.1,886.5l.80-.80l.80,.80l-.80,.80zM317.9,887.3l.80-.80l.80,.80l-.80,.80zM318.7,888.1l.80-.80l.80,.80l-.80,.80zM319.5,888.9l.80-.80l.80,.80l-.80,.80zM321.1,890.5l.80-.80l.80,.80l-.80,.80zM322.7,892.1l.80-.80l.80,.80l-.80,.80zM323.5,892.9l.80-.80l.80,.80l-.80,.80zM324.3,893.7l.80-.80l.80,.80l-.80,.80zM325.1,894.5l.80-.80l.80,.80l-.80,.80zM284.3,852.2l.80-.80l.80,.80l-.80,.80zM293.1,861.0l.80-.80l.80,.80l-.80,.80zM297.1,865.0l.80-.80l.80,.80l-.80,.80zM297.9,865.8l.80-.80l.80,.80l-.80,.80zM303.5,871.4l.80-.80l.80,.80l-.80,.80zM306.7,874.6l.80-.80l.80,.80l-.80,.80zM309.9,877.8l.80-.80l.80,.80l-.80,.80zM318.7,886.5l.80-.80l.80,.80l-.80,.80zM320.3,888.1l.80-.80l.80,.80l-.80,.80zM321.9,889.7l.80-.80l.80,.80l-.80,.80zM325.9,893.7l.80-.80l.80,.80l-.80,.80zM287.5,853.8l.80-.80l.80,.80l-.80,.80zM297.9,864.2l.80-.80l.80,.80l-.80,.80zM298.7,865.0l.80-.80l.80,.80l-.80,.80zM305.1,871.4l.80-.80l.80,.80l-.80,.80zM309.1,875.4l.80-.80l.80,.80l-.80,.80zM310.7,877.0l.80-.80l.80,.80l-.80,.80zM313.9,880.1l.80-.80l.80,.80l-.80,.80zM319.5,885.7l.80-.80l.80,.80l-.80,.80zM322.7,888.9l.80-.80l.80,.80l-.80,.80zM324.3,890.5l.80-.80l.80,.80l-.80,.80zM279.5,844.2l.80-.80l.80,.80l-.80,.80zM281.1,845.8l.80-.80l.80,.80l-.80,.80zM283.5,848.2l.80-.80l.80,.80l-.80,.80zM285.9,850.6l.80-.80l.80,.80l-.80,.80zM287.5,852.2l.80-.80l.80,.80l-.80,.80zM288.3,853.0l.80-.80l.80,.80l-.80,.80zM289.9,854.6l.80-.80l.80,.80l-.80,.80zM290.7,855.4l.80-.80l.80,.80l-.80,.80zM291.5,856.2l.80-.80l.80,.80l-.80,.80zM294.7,859.4l.80-.80l.80,.80l-.80,.80zM295.5,860.2l.80-.80l.80,.80l-.80,.80zM297.9,862.6l.80-.80l.80,.80l-.80,.80zM298.7,863.4l.80-.80l.80,.80l-.80,.80zM299.5,864.2l.80-.80l.80,.80l-.80,.80zM300.3,865.0l.80-.80l.80,.80l-.80,.80zM301.9,866.6l.80-.80l.80,.80l-.80,.80zM303.5,868.2l.80-.80l.80,.80l-.80,.80zM304.3,869.0l.80-.80l.80,.80l-.80,.80zM305.9,870.6l.80-.80l.80,.80l-.80,.80zM307.5,872.2l.80-.80l.80,.80l-.80,.80zM309.1,873.8l.80-.80l.80,.80l-.80,.80zM309.9,874.6l.80-.80l.80,.80l-.80,.80zM310.7,875.4l.80-.80l.80,.80l-.80,.80zM311.5,876.2l.80-.80l.80,.80l-.80,.80zM312.3,877.0l.80-.80l.80,.80l-.80,.80zM313.9,878.6l.80-.80l.80,.80l-.80,.80zM314.7,879.3l.80-.80l.80,.80l-.80,.80zM315.5,880.1l.80-.80l.80,.80l-.80,.80zM317.1,881.7l.80-.80l.80,.80l-.80,.80zM319.5,884.1l.80-.80l.80,.80l-.80,.80zM320.3,884.9l.80-.80l.80,.80l-.80,.80zM321.1,885.7l.80-.80l.80,.80l-.80,.80zM321.9,886.5l.80-.80l.80,.80l-.80,.80zM322.7,887.3l.80-.80l.80,.80l-.80,.80zM323.5,888.1l.80-.80l.80,.80l-.80,.80zM324.3,888.9l.80-.80l.80,.80l-.80,.80zM325.1,889.7l.80-.80l.80,.80l-.80,.80zM327.5,892.1l.80-.80l.80,.80l-.80,.80zM291.5,854.6l.80-.80l.80,.80l-.80,.80zM295.5,858.6l.80-.80l.80,.80l-.80,.80zM300.3,863.4l.80-.80l.80,.80l-.80,.80zM302.7,865.8l.80-.80l.80,.80l-.80,.80zM305.9,869.0l.80-.80l.80,.80l-.80,.80zM306.7,869.8l.80-.80l.80,.80l-.80,.80zM308.3,871.4l.80-.80l.80,.80l-.80,.80zM309.1,872.2l.80-.80l.80,.80l-.80,.80zM310.7,873.8l.80-.80l.80,.80l-.80,.80zM313.1,876.2l.80-.80l.80,.80l-.80,.80zM315.5,878.6l.80-.80l.80,.80l-.80,.80zM317.9,880.9l.80-.80l.80,.80l-.80,.80zM320.3,883.3l.80-.80l.80,.80l-.80,.80zM321.1,884.1l.80-.80l.80,.80l-.80,.80zM324.3,887.3l.80-.80l.80,.80l-.80,.80zM325.9,888.9l.80-.80l.80,.80l-.80,.80zM282.7,844.2l.80-.80l.80,.80l-.80,.80zM285.1,846.6l.80-.80l.80,.80l-.80,.80zM289.9,851.4l.80-.80l.80,.80l-.80,.80zM290.7,852.2l.80-.80l.80,.80l-.80,.80zM291.5,853.0l.80-.80l.80,.80l-.80,.80zM292.3,853.8l.80-.80l.80,.80l-.80,.80zM293.1,854.6l.80-.80l.80,.80l-.80,.80zM295.5,857.0l.80-.80l.80,.80l-.80,.80zM296.3,857.8l.80-.80l.80,.80l-.80,.80zM297.1,858.6l.80-.80l.80,.80l-.80,.80zM298.7,860.2l.80-.80l.80,.80l-.80,.80zM299.5,861.0l.80-.80l.80,.80l-.80,.80zM300.3,861.8l.80-.80l.80,.80l-.80,.80zM301.1,862.6l.80-.80l.80,.80l-.80,.80zM301.9,863.4l.80-.80l.80,.80l-.80,.80zM302.7,864.2l.80-.80l.80,.80l-.80,.80zM303.5,865.0l.80-.80l.80,.80l-.80,.80zM305.1,866.6l.80-.80l.80,.80l-.80,.80zM306.7,868.2l.80-.80l.80,.80l-.80,.80zM307.5,869.0l.80-.80l.80,.80l-.80,.80zM309.1,870.6l.80-.80l.80,.80l-.80,.80zM309.9,871.4l.80-.80l.80,.80l-.80,.80zM310.7,872.2l.80-.80l.80,.80l-.80,.80zM311.5,873.0l.80-.80l.80,.80l-.80,.80zM312.3,873.8l.80-.80l.80,.80l-.80,.80zM313.1,874.6l.80-.80l.80,.80l-.80,.80zM316.3,877.8l.80-.80l.80,.80l-.80,.80zM317.9,879.3l.80-.80l.80,.80l-.80,.80zM318.7,880.1l.80-.80l.80,.80l-.80,.80zM319.5,880.9l.80-.80l.80,.80l-.80,.80zM321.1,882.5l.80-.80l.80,.80l-.80,.80zM321.9,883.3l.80-.80l.80,.80l-.80,.80zM323.5,884.9l.80-.80l.80,.80l-.80,.80zM325.1,886.5l.80-.80l.80,.80l-.80,.80zM326.7,888.1l.80-.80l.80,.80l-.80,.80zM328.3,889.7l.80-.80l.80,.80l-.80,.80zM293.9,853.8l.80-.80l.80,.80l-.80,.80zM297.9,857.8l.80-.80l.80,.80l-.80,.80zM301.1,861.0l.80-.80l.80,.80l-.80,.80zM304.3,864.2l.80-.80l.80,.80l-.80,.80zM307.5,867.4l.80-.80l.80,.80l-.80,.80zM308.3,868.2l.80-.80l.80,.80l-.80,.80zM312.3,872.2l.80-.80l.80,.80l-.80,.80zM313.9,873.8l.80-.80l.80,.80l-.80,.80zM317.1,877.0l.80-.80l.80,.80l-.80,.80zM319.5,879.3l.80-.80l.80,.80l-.80,.80zM321.1,880.9l.80-.80l.80,.80l-.80,.80zM325.9,885.7l.80-.80l.80,.80l-.80,.80zM326.7,886.5l.80-.80l.80,.80l-.80,.80zM327.5,887.3l.80-.80l.80,.80l-.80,.80zM284.3,842.6l.80-.80l.80,.80l-.80,.80zM285.1,843.4l.80-.80l.80,.80l-.80,.80zM286.7,845.0l.80-.80l.80,.80l-.80,.80zM289.9,848.2l.80-.80l.80,.80l-.80,.80zM290.7,849.0l.80-.80l.80,.80l-.80,.80zM291.5,849.8l.80-.80l.80,.80l-.80,.80zM292.3,850.6l.80-.80l.80,.80l-.80,.80zM293.1,851.4l.80-.80l.80,.80l-.80,.80zM293.9,852.2l.80-.80l.80,.80l-.80,.80zM294.7,853.0l.80-.80l.80,.80l-.80,.80zM297.9,856.2l.80-.80l.80,.80l-.80,.80zM298.7,857.0l.80-.80l.80,.80l-.80,.80zM299.5,857.8l.80-.80l.80,.80l-.80,.80zM300.3,858.6l.80-.80l.80,.80l-.80,.80zM301.1,859.4l.80-.80l.80,.80l-.80,.80zM301.9,860.2l.80-.80l.80,.80l-.80,.80zM302.7,861.0l.80-.80l.80,.80l-.80,.80zM303.5,861.8l.80-.80l.80,.80l-.80,.80zM304.3,862.6l.80-.80l.80,.80l-.80,.80zM305.1,863.4l.80-.80l.80,.80l-.80,.80zM305.9,864.2l.80-.80l.80,.80l-.80,.80zM306.7,865.0l.80-.80l.80,.80l-.80,.80zM308.3,866.6l.80-.80l.80,.80l-.80,.80zM309.1,867.4l.80-.80l.80,.80l-.80,.80zM309.9,868.2l.80-.80l.80,.80l-.80,.80zM310.7,869.0l.80-.80l.80,.80l-.80,.80zM311.5,869.8l.80-.80l.80,.80l-.80,.80zM313.1,871.4l.80-.80l.80,.80l-.80,.80zM314.7,873.0l.80-.80l.80,.80l-.80,.80zM315.5,873.8l.80-.80l.80,.80l-.80,.80zM317.9,876.2l.80-.80l.80,.80l-.80,.80zM318.7,877.0l.80-.80l.80,.80l-.80,.80zM319.5,877.8l.80-.80l.80,.80l-.80,.80zM320.3,878.6l.80-.80l.80,.80l-.80,.80zM321.1,879.3l.80-.80l.80,.80l-.80,.80zM322.7,880.9l.80-.80l.80,.80l-.80,.80zM323.5,881.7l.80-.80l.80,.80l-.80,.80zM325.1,883.3l.80-.80l.80,.80l-.80,.80zM325.9,884.1l.80-.80l.80,.80l-.80,.80zM326.7,884.9l.80-.80l.80,.80l-.80,.80zM327.5,885.7l.80-.80l.80,.80l-.80,.80zM328.3,886.5l.80-.80l.80,.80l-.80,.80zM330.7,888.9l.80-.80l.80,.80l-.80,.80zM287.5,844.2l.80-.80l.80,.80l-.80,.80zM289.9,846.6l.80-.80l.80,.80l-.80,.80zM291.5,848.2l.80-.80l.80,.80l-.80,.80zM292.3,849.0l.80-.80l.80,.80l-.80,.80zM293.9,850.6l.80-.80l.80,.80l-.80,.80zM295.5,852.2l.80-.80l.80,.80l-.80,.80zM297.1,853.8l.80-.80l.80,.80l-.80,.80zM297.9,854.6l.80-.80l.80,.80l-.80,.80zM298.7,855.4l.80-.80l.80,.80l-.80,.80zM301.1,857.8l.80-.80l.80,.80l-.80,.80zM301.9,858.6l.80-.80l.80,.80l-.80,.80zM302.7,859.4l.80-.80l.80,.80l-.80,.80zM303.5,860.2l.80-.80l.80,.80l-.80,.80zM304.3,861.0l.80-.80l.80,.80l-.80,.80zM305.1,861.8l.80-.80l.80,.80l-.80,.80zM305.9,862.6l.80-.80l.80,.80l-.80,.80zM307.5,864.2l.80-.80l.80,.80l-.80,.80zM309.1,865.8l.80-.80l.80,.80l-.80,.80zM309.9,866.6l.80-.80l.80,.80l-.80,.80zM312.3,869.0l.80-.80l.80,.80l-.80,.80zM313.9,870.6l.80-.80l.80,.80l-.80,.80zM315.5,872.2l.80-.80l.80,.80l-.80,.80zM316.3,873.0l.80-.80l.80,.80l-.80,.80zM317.9,874.6l.80-.80l.80,.80l-.80,.80zM318.7,875.4l.80-.80l.80,.80l-.80,.80zM319.5,876.2l.80-.80l.80,.80l-.80,.80zM320.3,877.0l.80-.80l.80,.80l-.80,.80zM321.1,877.8l.80-.80l.80,.80l-.80,.80zM321.9,878.6l.80-.80l.80,.80l-.80,.80zM322.7,879.3l.80-.80l.80,.80l-.80,.80zM323.5,880.1l.80-.80l.80,.80l-.80,.80zM324.3,880.9l.80-.80l.80,.80l-.80,.80zM325.1,881.7l.80-.80l.80,.80l-.80,.80zM325.9,882.5l.80-.80l.80,.80l-.80,.80zM327.5,884.1l.80-.80l.80,.80l-.80,.80zM328.3,884.9l.80-.80l.80,.80l-.80,.80zM329.1,885.7l.80-.80l.80,.80l-.80,.80zM330.7,887.3l.80-.80l.80,.80l-.80,.80zM331.5,888.1l.80-.80l.80,.80l-.80,.80zM299.5,854.6l.80-.80l.80,.80l-.80,.80zM303.5,858.6l.80-.80l.80,.80l-.80,.80zM304.3,859.4l.80-.80l.80,.80l-.80,.80zM310.7,865.8l.80-.80l.80,.80l-.80,.80zM316.3,871.4l.80-.80l.80,.80l-.80,.80zM321.9,877.0l.80-.80l.80,.80l-.80,.80zM325.1,880.1l.80-.80l.80,.80l-.80,.80zM329.9,884.9l.80-.80l.80,.80l-.80,.80zM293.9,847.4l.80-.80l.80,.80l-.80,.80zM295.5,849.0l.80-.80l.80,.80l-.80,.80zM296.3,849.8l.80-.80l.80,.80l-.80,.80zM297.1,850.6l.80-.80l.80,.80l-.80,.80zM298.7,852.2l.80-.80l.80,.80l-.80,.80zM300.3,853.8l.80-.80l.80,.80l-.80,.80zM301.1,854.6l.80-.80l.80,.80l-.80,.80zM303.5,857.0l.80-.80l.80,.80l-.80,.80zM304.3,857.8l.80-.80l.80,.80l-.80,.80zM305.1,858.6l.80-.80l.80,.80l-.80,.80zM306.7,860.2l.80-.80l.80,.80l-.80,.80zM307.5,861.0l.80-.80l.80,.80l-.80,.80zM308.3,861.8l.80-.80l.80,.80l-.80,.80zM309.1,862.6l.80-.80l.80,.80l-.80,.80zM309.9,863.4l.80-.80l.80,.80l-.80,.80zM311.5,865.0l.80-.80l.80,.80l-.80,.80zM312.3,865.8l.80-.80l.80,.80l-.80,.80zM313.1,866.6l.80-.80l.80,.80l-.80,.80zM313.9,867.4l.80-.80l.80,.80l-.80,.80zM315.5,869.0l.80-.80l.80,.80l-.80,.80zM317.1,870.6l.80-.80l.80,.80l-.80,.80zM319.5,873.0l.80-.80l.80,.80l-.80,.80zM320.3,873.8l.80-.80l.80,.80l-.80,.80zM322.7,876.2l.80-.80l.80,.80l-.80,.80zM324.3,877.8l.80-.80l.80,.80l-.80,.80zM325.1,878.6l.80-.80l.80,.80l-.80,.80zM325.9,879.3l.80-.80l.80,.80l-.80,.80zM327.5,880.9l.80-.80l.80,.80l-.80,.80zM328.3,881.7l.80-.80l.80,.80l-.80,.80zM329.1,882.5l.80-.80l.80,.80l-.80,.80zM330.7,884.1l.80-.80l.80,.80l-.80,.80zM331.5,884.9l.80-.80l.80,.80l-.80,.80zM332.3,885.7l.80-.80l.80,.80l-.80,.80zM333.1,886.5l.80-.80l.80,.80l-.80,.80zM301.1,853.0l.80-.80l.80,.80l-.80,.80zM304.3,856.2l.80-.80l.80,.80l-.80,.80zM305.9,857.8l.80-.80l.80,.80l-.80,.80zM317.9,869.8l.80-.80l.80,.80l-.80,.80zM321.1,873.0l.80-.80l.80,.80l-.80,.80zM323.5,875.4l.80-.80l.80,.80l-.80,.80zM326.7,878.6l.80-.80l.80,.80l-.80,.80zM295.5,845.8l.80-.80l.80,.80l-.80,.80zM302.7,853.0l.80-.80l.80,.80l-.80,.80zM305.1,855.4l.80-.80l.80,.80l-.80,.80zM305.9,856.2l.80-.80l.80,.80l-.80,.80zM309.1,859.4l.80-.80l.80,.80l-.80,.80zM312.3,862.6l.80-.80l.80,.80l-.80,.80zM313.1,863.4l.80-.80l.80,.80l-.80,.80zM317.1,867.4l.80-.80l.80,.80l-.80,.80zM318.7,869.0l.80-.80l.80,.80l-.80,.80zM321.9,872.2l.80-.80l.80,.80l-.80,.80zM322.7,873.0l.80-.80l.80,.80l-.80,.80zM324.3,874.6l.80-.80l.80,.80l-.80,.80zM325.9,876.2l.80-.80l.80,.80l-.80,.80zM327.5,877.8l.80-.80l.80,.80l-.80,.80zM329.1,879.3l.80-.80l.80,.80l-.80,.80zM330.7,880.9l.80-.80l.80,.80l-.80,.80zM332.3,882.5l.80-.80l.80,.80l-.80,.80zM294.7,843.4l.80-.80l.80,.80l-.80,.80zM296.3,845.0l.80-.80l.80,.80l-.80,.80zM297.9,846.6l.80-.80l.80,.80l-.80,.80zM298.7,847.4l.80-.80l.80,.80l-.80,.80zM299.5,848.2l.80-.80l.80,.80l-.80,.80zM302.7,851.4l.80-.80l.80,.80l-.80,.80zM303.5,852.2l.80-.80l.80,.80l-.80,.80zM305.9,854.6l.80-.80l.80,.80l-.80,.80zM306.7,855.4l.80-.80l.80,.80l-.80,.80zM307.5,856.2l.80-.80l.80,.80l-.80,.80zM309.9,858.6l.80-.80l.80,.80l-.80,.80zM311.5,860.2l.80-.80l.80,.80l-.80,.80zM312.3,861.0l.80-.80l.80,.80l-.80,.80zM313.9,862.6l.80-.80l.80,.80l-.80,.80zM315.5,864.2l.80-.80l.80,.80l-.80,.80zM316.3,865.0l.80-.80l.80,.80l-.80,.80zM317.1,865.8l.80-.80l.80,.80l-.80,.80zM317.9,866.6l.80-.80l.80,.80l-.80,.80zM318.7,867.4l.80-.80l.80,.80l-.80,.80zM319.5,868.2l.80-.80l.80,.80l-.80,.80zM321.9,870.6l.80-.80l.80,.80l-.80,.80zM322.7,871.4l.80-.80l.80,.80l-.80,.80zM323.5,872.2l.80-.80l.80,.80l-.80,.80zM325.1,873.8l.80-.80l.80,.80l-.80,.80zM325.9,874.6l.80-.80l.80,.80l-.80,.80zM326.7,875.4l.80-.80l.80,.80l-.80,.80zM327.5,876.2l.80-.80l.80,.80l-.80,.80zM328.3,877.0l.80-.80l.80,.80l-.80,.80zM329.1,877.8l.80-.80l.80,.80l-.80,.80zM329.9,878.6l.80-.80l.80,.80l-.80,.80zM330.7,879.3l.80-.80l.80,.80l-.80,.80zM331.5,880.1l.80-.80l.80,.80l-.80,.80zM333.1,881.7l.80-.80l.80,.80l-.80,.80zM335.5,884.1l.80-.80l.80,.80l-.80,.80zM297.1,844.2l.80-.80l.80,.80l-.80,.80zM297.9,845.0l.80-.80l.80,.80l-.80,.80zM298.7,845.8l.80-.80l.80,.80l-.80,.80zM299.5,846.6l.80-.80l.80,.80l-.80,.80zM302.7,849.8l.80-.80l.80,.80l-.80,.80zM303.5,850.6l.80-.80l.80,.80l-.80,.80zM304.3,851.4l.80-.80l.80,.80l-.80,.80zM305.1,852.2l.80-.80l.80,.80l-.80,.80zM305.9,853.0l.80-.80l.80,.80l-.80,.80zM306.7,853.8l.80-.80l.80,.80l-.80,.80zM307.5,854.6l.80-.80l.80,.80l-.80,.80zM308.3,855.4l.80-.80l.80,.80l-.80,.80zM309.9,857.0l.80-.80l.80,.80l-.80,.80zM310.7,857.8l.80-.80l.80,.80l-.80,.80zM312.3,859.4l.80-.80l.80,.80l-.80,.80zM313.9,861.0l.80-.80l.80,.80l-.80,.80zM314.7,861.8l.80-.80l.80,.80l-.80,.80zM318.7,865.8l.80-.80l.80,.80l-.80,.80zM320.3,867.4l.80-.80l.80,.80l-.80,.80zM323.5,870.6l.80-.80l.80,.80l-.80,.80zM325.9,873.0l.80-.80l.80,.80l-.80,.80zM327.5,874.6l.80-.80l.80,.80l-.80,.80zM329.1,876.2l.80-.80l.80,.80l-.80,.80zM330.7,877.8l.80-.80l.80,.80l-.80,.80zM332.3,879.3l.80-.80l.80,.80l-.80,.80zM333.9,880.9l.80-.80l.80,.80l-.80,.80zM336.3,883.3l.80-.80l.80,.80l-.80,.80zM299.5,845.0l.80-.80l.80,.80l-.80,.80zM304.3,849.8l.80-.80l.80,.80l-.80,.80zM305.1,850.6l.80-.80l.80,.80l-.80,.80zM309.1,854.6l.80-.80l.80,.80l-.80,.80zM311.5,857.0l.80-.80l.80,.80l-.80,.80zM313.1,858.6l.80-.80l.80,.80l-.80,.80zM317.9,863.4l.80-.80l.80,.80l-.80,.80zM319.5,865.0l.80-.80l.80,.80l-.80,.80zM321.1,866.6l.80-.80l.80,.80l-.80,.80zM324.3,869.8l.80-.80l.80,.80l-.80,.80zM326.7,872.2l.80-.80l.80,.80l-.80,.80zM329.1,874.6l.80-.80l.80,.80l-.80,.80zM333.1,878.6l.80-.80l.80,.80l-.80,.80zM334.7,880.1l.80-.80l.80,.80l-.80,.80zM298.7,842.6l.80-.80l.80,.80l-.80,.80zM300.3,844.2l.80-.80l.80,.80l-.80,.80zM301.1,845.0l.80-.80l.80,.80l-.80,.80zM301.9,845.8l.80-.80l.80,.80l-.80,.80zM303.5,847.4l.80-.80l.80,.80l-.80,.80zM304.3,848.2l.80-.80l.80,.80l-.80,.80zM305.1,849.0l.80-.80l.80,.80l-.80,.80zM305.9,849.8l.80-.80l.80,.80l-.80,.80zM306.7,850.6l.80-.80l.80,.80l-.80,.80zM308.3,852.2l.80-.80l.80,.80l-.80,.80zM309.1,853.0l.80-.80l.80,.80l-.80,.80zM309.9,853.8l.80-.80l.80,.80l-.80,.80zM311.5,855.4l.80-.80l.80,.80l-.80,.80zM312.3,856.2l.80-.80l.80,.80l-.80,.80zM313.1,857.0l.80-.80l.80,.80l-.80,.80zM313.9,857.8l.80-.80l.80,.80l-.80,.80zM314.7,858.6l.80-.80l.80,.80l-.80,.80zM315.5,859.4l.80-.80l.80,.80l-.80,.80zM316.3,860.2l.80-.80l.80,.80l-.80,.80zM317.9,861.8l.80-.80l.80,.80l-.80,.80zM318.7,862.6l.80-.80l.80,.80l-.80,.80zM320.3,864.2l.80-.80l.80,.80l-.80,.80zM321.9,865.8l.80-.80l.80,.80l-.80,.80zM322.7,866.6l.80-.80l.80,.80l-.80,.80zM324.3,868.2l.80-.80l.80,.80l-.80,.80zM325.1,869.0l.80-.80l.80,.80l-.80,.80zM327.5,871.4l.80-.80l.80,.80l-.80,.80zM330.7,874.6l.80-.80l.80,.80l-.80,.80zM331.5,875.4l.80-.80l.80,.80l-.80,.80zM332.3,876.2l.80-.80l.80,.80l-.80,.80zM333.1,877.0l.80-.80l.80,.80l-.80,.80zM333.9,877.8l.80-.80l.80,.80l-.80,.80zM334.7,878.6l.80-.80l.80,.80l-.80,.80zM335.5,879.3l.80-.80l.80,.80l-.80,.80zM337.1,880.9l.80-.80l.80,.80l-.80,.80zM337.9,881.7l.80-.80l.80,.80l-.80,.80zM302.7,845.0l.80-.80l.80,.80l-.80,.80zM306.7,849.0l.80-.80l.80,.80l-.80,.80zM309.1,851.4l.80-.80l.80,.80l-.80,.80zM317.1,859.4l.80-.80l.80,.80l-.80,.80zM319.5,861.8l.80-.80l.80,.80l-.80,.80zM321.1,863.4l.80-.80l.80,.80l-.80,.80zM322.7,865.0l.80-.80l.80,.80l-.80,.80zM325.9,868.2l.80-.80l.80,.80l-.80,.80zM328.3,870.6l.80-.80l.80,.80l-.80,.80zM334.7,877.0l.80-.80l.80,.80l-.80,.80zM336.3,878.6l.80-.80l.80,.80l-.80,.80zM303.5,844.2l.80-.80l.80,.80l-.80,.80zM305.9,846.6l.80-.80l.80,.80l-.80,.80zM306.7,847.4l.80-.80l.80,.80l-.80,.80zM309.9,850.6l.80-.80l.80,.80l-.80,.80zM310.7,851.4l.80-.80l.80,.80l-.80,.80zM311.5,852.2l.80-.80l.80,.80l-.80,.80zM313.9,854.6l.80-.80l.80,.80l-.80,.80zM314.7,855.4l.80-.80l.80,.80l-.80,.80zM315.5,856.2l.80-.80l.80,.80l-.80,.80zM316.3,857.0l.80-.80l.80,.80l-.80,.80zM317.1,857.8l.80-.80l.80,.80l-.80,.80zM317.9,858.6l.80-.80l.80,.80l-.80,.80zM319.5,860.2l.80-.80l.80,.80l-.80,.80zM320.3,861.0l.80-.80l.80,.80l-.80,.80zM321.9,862.6l.80-.80l.80,.80l-.80,.80zM323.5,864.2l.80-.80l.80,.80l-.80,.80zM324.3,865.0l.80-.80l.80,.80l-.80,.80zM326.7,867.4l.80-.80l.80,.80l-.80,.80zM328.3,869.0l.80-.80l.80,.80l-.80,.80zM329.1,869.8l.80-.80l.80,.80l-.80,.80zM332.3,873.0l.80-.80l.80,.80l-.80,.80zM333.1,873.8l.80-.80l.80,.80l-.80,.80zM333.9,874.6l.80-.80l.80,.80l-.80,.80zM334.7,875.4l.80-.80l.80,.80l-.80,.80zM335.5,876.2l.80-.80l.80,.80l-.80,.80zM336.3,877.0l.80-.80l.80,.80l-.80,.80zM337.1,877.8l.80-.80l.80,.80l-.80,.80zM304.3,843.4l.80-.80l.80,.80l-.80,.80zM307.5,846.6l.80-.80l.80,.80l-.80,.80zM310.7,849.8l.80-.80l.80,.80l-.80,.80zM311.5,850.6l.80-.80l.80,.80l-.80,.80zM312.3,851.4l.80-.80l.80,.80l-.80,.80zM314.7,853.8l.80-.80l.80,.80l-.80,.80zM316.3,855.4l.80-.80l.80,.80l-.80,.80zM318.7,857.8l.80-.80l.80,.80l-.80,.80zM320.3,859.4l.80-.80l.80,.80l-.80,.80zM321.1,860.2l.80-.80l.80,.80l-.80,.80zM322.7,861.8l.80-.80l.80,.80l-.80,.80zM324.3,863.4l.80-.80l.80,.80l-.80,.80zM326.7,865.8l.80-.80l.80,.80l-.80,.80zM327.5,866.6l.80-.80l.80,.80l-.80,.80zM329.9,869.0l.80-.80l.80,.80l-.80,.80zM330.7,869.8l.80-.80l.80,.80l-.80,.80zM332.3,871.4l.80-.80l.80,.80l-.80,.80zM333.1,872.2l.80-.80l.80,.80l-.80,.80zM334.7,873.8l.80-.80l.80,.80l-.80,.80zM336.3,875.4l.80-.80l.80,.80l-.80,.80zM337.1,876.2l.80-.80l.80,.80l-.80,.80zM337.9,877.0l.80-.80l.80,.80l-.80,.80zM305.1,842.6l.80-.80l.80,.80l-.80,.80zM306.7,844.2l.80-.80l.80,.80l-.80,.80zM307.5,845.0l.80-.80l.80,.80l-.80,.80zM308.3,845.8l.80-.80l.80,.80l-.80,.80zM309.1,846.6l.80-.80l.80,.80l-.80,.80zM311.5,849.0l.80-.80l.80,.80l-.80,.80zM312.3,849.8l.80-.80l.80,.80l-.80,.80zM313.1,850.6l.80-.80l.80,.80l-.80,.80zM313.9,851.4l.80-.80l.80,.80l-.80,.80zM314.7,852.2l.80-.80l.80,.80l-.80,.80zM315.5,853.0l.80-.80l.80,.80l-.80,.80zM317.1,854.6l.80-.80l.80,.80l-.80,.80zM317.9,855.4l.80-.80l.80,.80l-.80,.80zM318.7,856.2l.80-.80l.80,.80l-.80,.80zM319.5,857.0l.80-.80l.80,.80l-.80,.80zM321.1,858.6l.80-.80l.80,.80l-.80,.80zM321.9,859.4l.80-.80l.80,.80l-.80,.80zM323.5,861.0l.80-.80l.80,.80l-.80,.80zM324.3,861.8l.80-.80l.80,.80l-.80,.80zM325.1,862.6l.80-.80l.80,.80l-.80,.80zM327.5,865.0l.80-.80l.80,.80l-.80,.80zM328.3,865.8l.80-.80l.80,.80l-.80,.80zM329.1,866.6l.80-.80l.80,.80l-.80,.80zM330.7,868.2l.80-.80l.80,.80l-.80,.80zM331.5,869.0l.80-.80l.80,.80l-.80,.80zM332.3,869.8l.80-.80l.80,.80l-.80,.80zM333.9,871.4l.80-.80l.80,.80l-.80,.80zM334.7,872.2l.80-.80l.80,.80l-.80,.80zM335.5,873.0l.80-.80l.80,.80l-.80,.80zM337.1,874.6l.80-.80l.80,.80l-.80,.80zM338.7,876.2l.80-.80l.80,.80l-.80,.80zM339.5,877.0l.80-.80l.80,.80l-.80,.80zM340.3,877.8l.80-.80l.80,.80l-.80,.80zM316.3,852.2l.80-.80l.80,.80l-.80,.80zM319.5,855.4l.80-.80l.80,.80l-.80,.80zM329.1,865.0l.80-.80l.80,.80l-.80,.80zM339.5,875.4l.80-.80l.80,.80l-.80,.80zM309.9,844.2l.80-.80l.80,.80l-.80,.80zM329.9,864.2l.80-.80l.80,.80l-.80,.80zM335.5,869.8l.80-.80l.80,.80l-.80,.80zM310.7,843.4l.80-.80l.80,.80l-.80,.80zM315.5,848.2l.80-.80l.80,.80l-.80,.80zM317.9,850.6l.80-.80l.80,.80l-.80,.80zM321.1,853.8l.80-.80l.80,.80l-.80,.80zM321.9,854.6l.80-.80l.80,.80l-.80,.80zM327.5,860.2l.80-.80l.80,.80l-.80,.80zM330.7,863.4l.80-.80l.80,.80l-.80,.80zM333.1,865.8l.80-.80l.80,.80l-.80,.80zM335.5,868.2l.80-.80l.80,.80l-.80,.80zM336.3,869.0l.80-.80l.80,.80l-.80,.80zM337.9,870.6l.80-.80l.80,.80l-.80,.80zM339.5,872.2l.80-.80l.80,.80l-.80,.80zM341.1,873.8l.80-.80l.80,.80l-.80,.80zM311.5,842.6l.80-.80l.80,.80l-.80,.80zM312.3,843.4l.80-.80l.80,.80l-.80,.80zM313.1,844.2l.80-.80l.80,.80l-.80,.80zM314.7,845.8l.80-.80l.80,.80l-.80,.80zM315.5,846.6l.80-.80l.80,.80l-.80,.80zM316.3,847.4l.80-.80l.80,.80l-.80,.80zM317.1,848.2l.80-.80l.80,.80l-.80,.80zM318.7,849.8l.80-.80l.80,.80l-.80,.80zM320.3,851.4l.80-.80l.80,.80l-.80,.80zM321.1,852.2l.80-.80l.80,.80l-.80,.80zM321.9,853.0l.80-.80l.80,.80l-.80,.80zM322.7,853.8l.80-.80l.80,.80l-.80,.80zM325.1,856.2l.80-.80l.80,.80l-.80,.80zM326.7,857.8l.80-.80l.80,.80l-.80,.80zM328.3,859.4l.80-.80l.80,.80l-.80,.80zM330.7,861.8l.80-.80l.80,.80l-.80,.80zM331.5,862.6l.80-.80l.80,.80l-.80,.80zM333.9,865.0l.80-.80l.80,.80l-.80,.80zM334.7,865.8l.80-.80l.80,.80l-.80,.80zM335.5,866.6l.80-.80l.80,.80l-.80,.80zM336.3,867.4l.80-.80l.80,.80l-.80,.80zM337.1,868.2l.80-.80l.80,.80l-.80,.80zM338.7,869.8l.80-.80l.80,.80l-.80,.80zM340.3,871.4l.80-.80l.80,.80l-.80,.80zM341.1,872.2l.80-.80l.80,.80l-.80,.80zM341.9,873.0l.80-.80l.80,.80l-.80,.80zM342.6,873.8l.80-.80l.80,.80l-.80,.80zM344.2,875.4l.80-.80l.80,.80l-.80,.80zM313.1,842.6l.80-.80l.80,.80l-.80,.80zM315.5,845.0l.80-.80l.80,.80l-.80,.80zM316.3,845.8l.80-.80l.80,.80l-.80,.80zM317.1,846.6l.80-.80l.80,.80l-.80,.80zM319.5,849.0l.80-.80l.80,.80l-.80,.80zM321.1,850.6l.80-.80l.80,.80l-.80,.80zM321.9,851.4l.80-.80l.80,.80l-.80,.80zM322.7,852.2l.80-.80l.80,.80l-.80,.80zM323.5,853.0l.80-.80l.80,.80l-.80,.80zM325.1,854.6l.80-.80l.80,.80l-.80,.80zM326.7,856.2l.80-.80l.80,.80l-.80,.80zM327.5,857.0l.80-.80l.80,.80l-.80,.80zM328.3,857.8l.80-.80l.80,.80l-.80,.80zM329.1,858.6l.80-.80l.80,.80l-.80,.80zM329.9,859.4l.80-.80l.80,.80l-.80,.80zM332.3,861.8l.80-.80l.80,.80l-.80,.80zM333.1,862.6l.80-.80l.80,.80l-.80,.80zM334.7,864.2l.80-.80l.80,.80l-.80,.80zM336.3,865.8l.80-.80l.80,.80l-.80,.80zM337.9,867.4l.80-.80l.80,.80l-.80,.80zM338.7,868.2l.80-.80l.80,.80l-.80,.80zM339.5,869.0l.80-.80l.80,.80l-.80,.80zM341.1,870.6l.80-.80l.80,.80l-.80,.80zM341.9,871.4l.80-.80l.80,.80l-.80,.80zM342.6,872.2l.80-.80l.80,.80l-.80,.80zM345.0,874.6l.80-.80l.80,.80l-.80,.80zM317.1,845.0l.80-.80l.80,.80l-.80,.80zM320.3,848.2l.80-.80l.80,.80l-.80,.80zM324.3,852.2l.80-.80l.80,.80l-.80,.80zM326.7,854.6l.80-.80l.80,.80l-.80,.80zM328.3,856.2l.80-.80l.80,.80l-.80,.80zM329.9,857.8l.80-.80l.80,.80l-.80,.80zM333.1,861.0l.80-.80l.80,.80l-.80,.80zM335.5,863.4l.80-.80l.80,.80l-.80,.80zM338.7,866.6l.80-.80l.80,.80l-.80,.80zM341.9,869.8l.80-.80l.80,.80l-.80,.80zM345.8,873.8l.80-.80l.80,.80l-.80,.80zM318.7,845.0l.80-.80l.80,.80l-.80,.80zM321.1,847.4l.80-.80l.80,.80l-.80,.80zM329.1,855.4l.80-.80l.80,.80l-.80,.80zM333.9,860.2l.80-.80l.80,.80l-.80,.80zM336.3,862.6l.80-.80l.80,.80l-.80,.80zM344.2,870.6l.80-.80l.80,.80l-.80,.80zM317.9,842.6l.80-.80l.80,.80l-.80,.80zM318.7,843.4l.80-.80l.80,.80l-.80,.80zM319.5,844.2l.80-.80l.80,.80l-.80,.80zM320.3,845.0l.80-.80l.80,.80l-.80,.80zM321.1,845.8l.80-.80l.80,.80l-.80,.80zM321.9,846.6l.80-.80l.80,.80l-.80,.80zM323.5,848.2l.80-.80l.80,.80l-.80,.80zM325.1,849.8l.80-.80l.80,.80l-.80,.80zM325.9,850.6l.80-.80l.80,.80l-.80,.80zM327.5,852.2l.80-.80l.80,.80l-.80,.80zM328.3,853.0l.80-.80l.80,.80l-.80,.80zM329.9,854.6l.80-.80l.80,.80l-.80,.80zM331.5,856.2l.80-.80l.80,.80l-.80,.80zM332.3,857.0l.80-.80l.80,.80l-.80,.80zM333.9,858.6l.80-.80l.80,.80l-.80,.80zM334.7,859.4l.80-.80l.80,.80l-.80,.80zM335.5,860.2l.80-.80l.80,.80l-.80,.80zM336.3,861.0l.80-.80l.80,.80l-.80,.80zM337.1,861.8l.80-.80l.80,.80l-.80,.80zM337.9,862.6l.80-.80l.80,.80l-.80,.80zM340.3,865.0l.80-.80l.80,.80l-.80,.80zM341.9,866.6l.80-.80l.80,.80l-.80,.80zM342.6,867.4l.80-.80l.80,.80l-.80,.80zM343.4,868.2l.80-.80l.80,.80l-.80,.80zM345.0,869.8l.80-.80l.80,.80l-.80,.80zM346.6,871.4l.80-.80l.80,.80l-.80,.80zM347.4,872.2l.80-.80l.80,.80l-.80,.80zM319.5,842.6l.80-.80l.80,.80l-.80,.80zM324.3,847.4l.80-.80l.80,.80l-.80,.80zM330.7,853.8l.80-.80l.80,.80l-.80,.80zM332.3,855.4l.80-.80l.80,.80l-.80,.80zM335.5,858.6l.80-.80l.80,.80l-.80,.80zM344.2,867.4l.80-.80l.80,.80l-.80,.80zM321.1,842.6l.80-.80l.80,.80l-.80,.80zM323.5,845.0l.80-.80l.80,.80l-.80,.80zM327.5,849.0l.80-.80l.80,.80l-.80,.80zM329.1,850.6l.80-.80l.80,.80l-.80,.80zM329.9,851.4l.80-.80l.80,.80l-.80,.80zM331.5,853.0l.80-.80l.80,.80l-.80,.80zM336.3,857.8l.80-.80l.80,.80l-.80,.80zM338.7,860.2l.80-.80l.80,.80l-.80,.80zM341.9,863.4l.80-.80l.80,.80l-.80,.80zM343.4,865.0l.80-.80l.80,.80l-.80,.80zM345.0,866.6l.80-.80l.80,.80l-.80,.80zM346.6,868.2l.80-.80l.80,.80l-.80,.80zM349.0,870.6l.80-.80l.80,.80l-.80,.80zM347.4,867.4l.80-.80l.80,.80l-.80,.80zM340.3,858.6l.80-.80l.80,.80l-.80,.80zM325.9,842.6l.80-.80l.80,.80l-.80,.80zM329.9,846.6l.80-.80l.80,.80l-.80,.80zM338.7,855.4l.80-.80l.80,.80l-.80,.80zM340.3,857.0l.80-.80l.80,.80l-.80,.80zM341.1,857.8l.80-.80l.80,.80l-.80,.80zM342.6,859.4l.80-.80l.80,.80l-.80,.80zM344.2,861.0l.80-.80l.80,.80l-.80,.80zM345.8,862.6l.80-.80l.80,.80l-.80,.80zM347.4,864.2l.80-.80l.80,.80l-.80,.80zM349.0,865.8l.80-.80l.80,.80l-.80,.80zM331.5,845.0l.80-.80l.80,.80l-.80,.80zM335.5,849.0l.80-.80l.80,.80l-.80,.80zM337.1,850.6l.80-.80l.80,.80l-.80,.80zM340.3,853.8l.80-.80l.80,.80l-.80,.80zM342.6,856.2l.80-.80l.80,.80l-.80,.80zM347.4,861.0l.80-.80l.80,.80l-.80,.80zM350.6,864.2l.80-.80l.80,.80l-.80,.80zM351.4,863.4l.80-.80l.80,.80l-.80,.80zM341.9,852.2l.80-.80l.80,.80l-.80,.80zM344.2,854.6l.80-.80l.80,.80l-.80,.80zM352.2,862.6l.80-.80l.80,.80l-.80,.80zM333.9,842.6l.80-.80l.80,.80l-.80,.80zM336.3,845.0l.80-.80l.80,.80l-.80,.80zM337.9,846.6l.80-.80l.80,.80l-.80,.80zM339.5,848.2l.80-.80l.80,.80l-.80,.80zM342.6,851.4l.80-.80l.80,.80l-.80,.80zM345.0,853.8l.80-.80l.80,.80l-.80,.80zM348.2,857.0l.80-.80l.80,.80l-.80,.80zM349.8,858.6l.80-.80l.80,.80l-.80,.80zM351.4,860.2l.80-.80l.80,.80l-.80,.80zM353.0,861.8l.80-.80l.80,.80l-.80,.80zM341.1,846.6l.80-.80l.80,.80l-.80,.80zM346.6,852.2l.80-.80l.80,.80l-.80,.80zM349.8,855.4l.80-.80l.80,.80l-.80,.80zM353.0,858.6l.80-.80l.80,.80l-.80,.80zM338.7,842.6l.80-.80l.80,.80l-.80,.80zM353.8,857.8l.80-.80l.80,.80l-.80,.80zM356.2,858.6l.80-.80l.80,.80l-.80,.80zM341.9,842.6l.80-.80l.80,.80l-.80,.80zM352.2,853.0l.80-.80l.80,.80l-.80,.80zM355.4,856.2l.80-.80l.80,.80l-.80,.80zM357.0,857.8l.80-.80l.80,.80l-.80,.80zM348.2,845.8l.80-.80l.80,.80l-.80,.80zM350.6,848.2l.80-.80l.80,.80l-.80,.80zM355.4,853.0l.80-.80l.80,.80l-.80,.80zM357.0,854.6l.80-.80l.80,.80l-.80,.80zM358.6,856.2l.80-.80l.80,.80l-.80,.80zM351.4,842.6l.80-.80l.80,.80l-.80,.80zM353.8,845.0l.80-.80l.80,.80l-.80,.80zM357.0,848.2l.80-.80l.80,.80l-.80,.80zM358.6,849.8l.80-.80l.80,.80l-.80,.80zM360.2,851.4l.80-.80l.80,.80l-.80,.80zM361.8,853.0l.80-.80l.80,.80l-.80,.80zM356.2,842.6l.80-.80l.80,.80l-.80,.80zM362.6,849.0l.80-.80l.80,.80l-.80,.80zM364.2,850.6l.80-.80l.80,.80l-.80,.80zM362.6,842.6l.80-.80l.80,.80l-.80,.80zM365.8,845.8l.80-.80l.80,.80l-.80,.80zM367.4,847.4l.80-.80l.80,.80l-.80,.80zM370.6,844.2l.80-.80l.80,.80l-.80,.80z" fill="#fae8e8"/>
<path d="M388.0,843 L475.0,843 L431.50,886.50 Z" fill="#cb1818"/>
<path d="M408.1,863.5l.81-.81l.81,.81l-.81,.81zM410.6,866.0l.81-.81l.81,.81l-.81,.81zM413.0,868.4l.81-.81l.81,.81l-.81,.81zM415.4,870.8l.81-.81l.81,.81l-.81,.81zM421.0,876.4l.81-.81l.81,.81l-.81,.81zM423.4,878.8l.81-.81l.81,.81l-.81,.81zM424.2,879.7l.81-.81l.81,.81l-.81,.81zM425.9,881.3l.81-.81l.81,.81l-.81,.81zM426.7,882.1l.81-.81l.81,.81l-.81,.81zM429.1,884.5l.81-.81l.81,.81l-.81,.81zM429.9,885.3l.81-.81l.81,.81l-.81,.81zM409.8,863.5l.81-.81l.81,.81l-.81,.81zM413.8,867.6l.81-.81l.81,.81l-.81,.81zM421.8,875.6l.81-.81l.81,.81l-.81,.81zM424.2,878.0l.81-.81l.81,.81l-.81,.81zM425.1,878.8l.81-.81l.81,.81l-.81,.81zM426.7,880.5l.81-.81l.81,.81l-.81,.81zM428.3,882.1l.81-.81l.81,.81l-.81,.81zM429.9,883.7l.81-.81l.81,.81l-.81,.81zM430.7,884.5l.81-.81l.81,.81l-.81,.81zM402.5,854.7l.81-.81l.81,.81l-.81,.81zM408.1,860.3l.81-.81l.81,.81l-.81,.81zM408.9,861.1l.81-.81l.81,.81l-.81,.81zM409.8,861.9l.81-.81l.81,.81l-.81,.81zM411.4,863.5l.81-.81l.81,.81l-.81,.81zM412.2,864.3l.81-.81l.81,.81l-.81,.81zM413.0,865.2l.81-.81l.81,.81l-.81,.81zM414.6,866.8l.81-.81l.81,.81l-.81,.81zM415.4,867.6l.81-.81l.81,.81l-.81,.81zM417.0,869.2l.81-.81l.81,.81l-.81,.81zM417.8,870.0l.81-.81l.81,.81l-.81,.81zM419.4,871.6l.81-.81l.81,.81l-.81,.81zM421.8,874.0l.81-.81l.81,.81l-.81,.81zM422.6,874.8l.81-.81l.81,.81l-.81,.81zM423.4,875.6l.81-.81l.81,.81l-.81,.81zM424.2,876.4l.81-.81l.81,.81l-.81,.81zM425.1,877.2l.81-.81l.81,.81l-.81,.81zM427.5,879.7l.81-.81l.81,.81l-.81,.81zM428.3,880.5l.81-.81l.81,.81l-.81,.81zM429.1,881.3l.81-.81l.81,.81l-.81,.81zM429.9,882.1l.81-.81l.81,.81l-.81,.81zM430.7,882.9l.81-.81l.81,.81l-.81,.81zM431.5,883.7l.81-.81l.81,.81l-.81,.81zM432.3,884.5l.81-.81l.81,.81l-.81,.81zM392.8,843.4l.81-.81l.81,.81l-.81,.81zM394.4,845.0l.81-.81l.81,.81l-.81,.81zM396.9,847.4l.81-.81l.81,.81l-.81,.81zM400.1,850.7l.81-.81l.81,.81l-.81,.81zM404.9,855.5l.81-.81l.81,.81l-.81,.81zM405.7,856.3l.81-.81l.81,.81l-.81,.81zM408.9,859.5l.81-.81l.81,.81l-.81,.81zM409.8,860.3l.81-.81l.81,.81l-.81,.81zM410.6,861.1l.81-.81l.81,.81l-.81,.81zM413.0,863.5l.81-.81l.81,.81l-.81,.81zM413.8,864.3l.81-.81l.81,.81l-.81,.81zM414.6,865.2l.81-.81l.81,.81l-.81,.81zM415.4,866.0l.81-.81l.81,.81l-.81,.81zM416.2,866.8l.81-.81l.81,.81l-.81,.81zM417.8,868.4l.81-.81l.81,.81l-.81,.81zM418.6,869.2l.81-.81l.81,.81l-.81,.81zM420.2,870.8l.81-.81l.81,.81l-.81,.81zM421.8,872.4l.81-.81l.81,.81l-.81,.81zM422.6,873.2l.81-.81l.81,.81l-.81,.81zM423.4,874.0l.81-.81l.81,.81l-.81,.81zM424.2,874.8l.81-.81l.81,.81l-.81,.81zM425.1,875.6l.81-.81l.81,.81l-.81,.81zM425.9,876.4l.81-.81l.81,.81l-.81,.81zM426.7,877.2l.81-.81l.81,.81l-.81,.81zM428.3,878.8l.81-.81l.81,.81l-.81,.81zM429.1,879.7l.81-.81l.81,.81l-.81,.81zM429.9,880.5l.81-.81l.81,.81l-.81,.81zM430.7,881.3l.81-.81l.81,.81l-.81,.81zM431.5,882.1l.81-.81l.81,.81l-.81,.81zM432.3,882.9l.81-.81l.81,.81l-.81,.81zM433.1,883.7l.81-.81l.81,.81l-.81,.81zM409.8,858.7l.81-.81l.81,.81l-.81,.81zM410.6,859.5l.81-.81l.81,.81l-.81,.81zM411.4,860.3l.81-.81l.81,.81l-.81,.81zM412.2,861.1l.81-.81l.81,.81l-.81,.81zM413.0,861.9l.81-.81l.81,.81l-.81,.81zM414.6,863.5l.81-.81l.81,.81l-.81,.81zM416.2,865.2l.81-.81l.81,.81l-.81,.81zM417.0,866.0l.81-.81l.81,.81l-.81,.81zM418.6,867.6l.81-.81l.81,.81l-.81,.81zM421.0,870.0l.81-.81l.81,.81l-.81,.81zM423.4,872.4l.81-.81l.81,.81l-.81,.81zM424.2,873.2l.81-.81l.81,.81l-.81,.81zM425.9,874.8l.81-.81l.81,.81l-.81,.81zM426.7,875.6l.81-.81l.81,.81l-.81,.81zM427.5,876.4l.81-.81l.81,.81l-.81,.81zM429.1,878.0l.81-.81l.81,.81l-.81,.81zM429.9,878.8l.81-.81l.81,.81l-.81,.81zM431.5,880.5l.81-.81l.81,.81l-.81,.81zM432.3,881.3l.81-.81l.81,.81l-.81,.81zM433.1,882.1l.81-.81l.81,.81l-.81,.81zM398.5,845.8l.81-.81l.81,.81l-.81,.81zM399.3,846.6l.81-.81l.81,.81l-.81,.81zM401.7,849.0l.81-.81l.81,.81l-.81,.81zM412.2,859.5l.81-.81l.81,.81l-.81,.81zM413.0,860.3l.81-.81l.81,.81l-.81,.81zM413.8,861.1l.81-.81l.81,.81l-.81,.81zM414.6,861.9l.81-.81l.81,.81l-.81,.81zM415.4,862.7l.81-.81l.81,.81l-.81,.81zM417.0,864.3l.81-.81l.81,.81l-.81,.81zM417.8,865.2l.81-.81l.81,.81l-.81,.81zM419.4,866.8l.81-.81l.81,.81l-.81,.81zM421.0,868.4l.81-.81l.81,.81l-.81,.81zM422.6,870.0l.81-.81l.81,.81l-.81,.81zM423.4,870.8l.81-.81l.81,.81l-.81,.81zM424.2,871.6l.81-.81l.81,.81l-.81,.81zM425.1,872.4l.81-.81l.81,.81l-.81,.81zM425.9,873.2l.81-.81l.81,.81l-.81,.81zM426.7,874.0l.81-.81l.81,.81l-.81,.81zM427.5,874.8l.81-.81l.81,.81l-.81,.81zM428.3,875.6l.81-.81l.81,.81l-.81,.81zM429.1,876.4l.81-.81l.81,.81l-.81,.81zM429.9,877.2l.81-.81l.81,.81l-.81,.81zM430.7,878.0l.81-.81l.81,.81l-.81,.81zM431.5,878.8l.81-.81l.81,.81l-.81,.81zM432.3,879.7l.81-.81l.81,.81l-.81,.81zM433.1,880.5l.81-.81l.81,.81l-.81,.81zM433.9,881.3l.81-.81l.81,.81l-.81,.81zM434.7,882.1l.81-.81l.81,.81l-.81,.81zM418.6,864.3l.81-.81l.81,.81l-.81,.81zM420.2,866.0l.81-.81l.81,.81l-.81,.81zM425.9,871.6l.81-.81l.81,.81l-.81,.81zM428.3,874.0l.81-.81l.81,.81l-.81,.81zM430.7,876.4l.81-.81l.81,.81l-.81,.81zM431.5,877.2l.81-.81l.81,.81l-.81,.81zM433.9,879.7l.81-.81l.81,.81l-.81,.81zM434.7,880.5l.81-.81l.81,.81l-.81,.81zM413.8,857.9l.81-.81l.81,.81l-.81,.81zM418.6,862.7l.81-.81l.81,.81l-.81,.81zM419.4,863.5l.81-.81l.81,.81l-.81,.81zM425.9,870.0l.81-.81l.81,.81l-.81,.81zM426.7,870.8l.81-.81l.81,.81l-.81,.81zM431.5,875.6l.81-.81l.81,.81l-.81,.81zM432.3,876.4l.81-.81l.81,.81l-.81,.81zM404.1,846.6l.81-.81l.81,.81l-.81,.81zM408.9,851.5l.81-.81l.81,.81l-.81,.81zM413.8,856.3l.81-.81l.81,.81l-.81,.81zM414.6,857.1l.81-.81l.81,.81l-.81,.81zM415.4,857.9l.81-.81l.81,.81l-.81,.81zM417.0,859.5l.81-.81l.81,.81l-.81,.81zM417.8,860.3l.81-.81l.81,.81l-.81,.81zM419.4,861.9l.81-.81l.81,.81l-.81,.81zM420.2,862.7l.81-.81l.81,.81l-.81,.81zM421.8,864.3l.81-.81l.81,.81l-.81,.81zM422.6,865.2l.81-.81l.81,.81l-.81,.81zM423.4,866.0l.81-.81l.81,.81l-.81,.81zM424.2,866.8l.81-.81l.81,.81l-.81,.81zM426.7,869.2l.81-.81l.81,.81l-.81,.81zM427.5,870.0l.81-.81l.81,.81l-.81,.81zM428.3,870.8l.81-.81l.81,.81l-.81,.81zM429.1,871.6l.81-.81l.81,.81l-.81,.81zM429.9,872.4l.81-.81l.81,.81l-.81,.81zM431.5,874.0l.81-.81l.81,.81l-.81,.81zM432.3,874.8l.81-.81l.81,.81l-.81,.81zM433.1,875.6l.81-.81l.81,.81l-.81,.81zM433.9,876.4l.81-.81l.81,.81l-.81,.81zM434.7,877.2l.81-.81l.81,.81l-.81,.81zM435.5,878.0l.81-.81l.81,.81l-.81,.81zM436.3,878.8l.81-.81l.81,.81l-.81,.81zM437.1,879.7l.81-.81l.81,.81l-.81,.81zM408.1,849.0l.81-.81l.81,.81l-.81,.81zM414.6,855.5l.81-.81l.81,.81l-.81,.81zM415.4,856.3l.81-.81l.81,.81l-.81,.81zM417.0,857.9l.81-.81l.81,.81l-.81,.81zM417.8,858.7l.81-.81l.81,.81l-.81,.81zM418.6,859.5l.81-.81l.81,.81l-.81,.81zM420.2,861.1l.81-.81l.81,.81l-.81,.81zM421.0,861.9l.81-.81l.81,.81l-.81,.81zM421.8,862.7l.81-.81l.81,.81l-.81,.81zM422.6,863.5l.81-.81l.81,.81l-.81,.81zM425.1,866.0l.81-.81l.81,.81l-.81,.81zM426.7,867.6l.81-.81l.81,.81l-.81,.81zM427.5,868.4l.81-.81l.81,.81l-.81,.81zM428.3,869.2l.81-.81l.81,.81l-.81,.81zM429.1,870.0l.81-.81l.81,.81l-.81,.81zM429.9,870.8l.81-.81l.81,.81l-.81,.81zM430.7,871.6l.81-.81l.81,.81l-.81,.81zM431.5,872.4l.81-.81l.81,.81l-.81,.81zM432.3,873.2l.81-.81l.81,.81l-.81,.81zM433.1,874.0l.81-.81l.81,.81l-.81,.81zM433.9,874.8l.81-.81l.81,.81l-.81,.81zM434.7,875.6l.81-.81l.81,.81l-.81,.81zM436.3,877.2l.81-.81l.81,.81l-.81,.81zM437.1,878.0l.81-.81l.81,.81l-.81,.81zM437.9,878.8l.81-.81l.81,.81l-.81,.81zM416.2,855.5l.81-.81l.81,.81l-.81,.81zM421.8,861.1l.81-.81l.81,.81l-.81,.81zM428.3,867.6l.81-.81l.81,.81l-.81,.81zM429.1,868.4l.81-.81l.81,.81l-.81,.81zM434.7,874.0l.81-.81l.81,.81l-.81,.81zM436.3,875.6l.81-.81l.81,.81l-.81,.81zM437.1,876.4l.81-.81l.81,.81l-.81,.81zM437.9,877.2l.81-.81l.81,.81l-.81,.81zM417.0,854.7l.81-.81l.81,.81l-.81,.81zM419.4,857.1l.81-.81l.81,.81l-.81,.81zM422.6,860.3l.81-.81l.81,.81l-.81,.81zM429.9,867.6l.81-.81l.81,.81l-.81,.81zM430.7,868.4l.81-.81l.81,.81l-.81,.81zM431.5,869.2l.81-.81l.81,.81l-.81,.81zM432.3,870.0l.81-.81l.81,.81l-.81,.81zM434.7,872.4l.81-.81l.81,.81l-.81,.81zM435.5,873.2l.81-.81l.81,.81l-.81,.81zM437.9,875.6l.81-.81l.81,.81l-.81,.81zM438.8,876.4l.81-.81l.81,.81l-.81,.81zM410.6,846.6l.81-.81l.81,.81l-.81,.81zM417.0,853.1l.81-.81l.81,.81l-.81,.81zM417.8,853.9l.81-.81l.81,.81l-.81,.81zM418.6,854.7l.81-.81l.81,.81l-.81,.81zM419.4,855.5l.81-.81l.81,.81l-.81,.81zM420.2,856.3l.81-.81l.81,.81l-.81,.81zM421.8,857.9l.81-.81l.81,.81l-.81,.81zM422.6,858.7l.81-.81l.81,.81l-.81,.81zM423.4,859.5l.81-.81l.81,.81l-.81,.81zM424.2,860.3l.81-.81l.81,.81l-.81,.81zM425.1,861.1l.81-.81l.81,.81l-.81,.81zM426.7,862.7l.81-.81l.81,.81l-.81,.81zM429.1,865.2l.81-.81l.81,.81l-.81,.81zM429.9,866.0l.81-.81l.81,.81l-.81,.81zM430.7,866.8l.81-.81l.81,.81l-.81,.81zM431.5,867.6l.81-.81l.81,.81l-.81,.81zM432.3,868.4l.81-.81l.81,.81l-.81,.81zM433.1,869.2l.81-.81l.81,.81l-.81,.81zM433.9,870.0l.81-.81l.81,.81l-.81,.81zM435.5,871.6l.81-.81l.81,.81l-.81,.81zM436.3,872.4l.81-.81l.81,.81l-.81,.81zM437.1,873.2l.81-.81l.81,.81l-.81,.81zM437.9,874.0l.81-.81l.81,.81l-.81,.81zM438.8,874.8l.81-.81l.81,.81l-.81,.81zM439.6,875.6l.81-.81l.81,.81l-.81,.81zM440.4,876.4l.81-.81l.81,.81l-.81,.81zM424.2,858.7l.81-.81l.81,.81l-.81,.81zM430.7,865.2l.81-.81l.81,.81l-.81,.81zM431.5,866.0l.81-.81l.81,.81l-.81,.81zM433.9,868.4l.81-.81l.81,.81l-.81,.81zM437.1,871.6l.81-.81l.81,.81l-.81,.81zM439.6,874.0l.81-.81l.81,.81l-.81,.81zM440.4,874.8l.81-.81l.81,.81l-.81,.81zM419.4,852.3l.81-.81l.81,.81l-.81,.81zM424.2,857.1l.81-.81l.81,.81l-.81,.81zM425.1,857.9l.81-.81l.81,.81l-.81,.81zM432.3,865.2l.81-.81l.81,.81l-.81,.81zM437.1,870.0l.81-.81l.81,.81l-.81,.81zM440.4,873.2l.81-.81l.81,.81l-.81,.81zM441.2,874.0l.81-.81l.81,.81l-.81,.81zM420.2,851.5l.81-.81l.81,.81l-.81,.81zM425.1,856.3l.81-.81l.81,.81l-.81,.81zM425.9,857.1l.81-.81l.81,.81l-.81,.81zM427.5,858.7l.81-.81l.81,.81l-.81,.81zM433.1,864.3l.81-.81l.81,.81l-.81,.81zM433.9,865.2l.81-.81l.81,.81l-.81,.81zM435.5,866.8l.81-.81l.81,.81l-.81,.81zM438.8,870.0l.81-.81l.81,.81l-.81,.81zM441.2,872.4l.81-.81l.81,.81l-.81,.81zM421.0,850.7l.81-.81l.81,.81l-.81,.81zM423.4,853.1l.81-.81l.81,.81l-.81,.81zM424.2,853.9l.81-.81l.81,.81l-.81,.81zM425.9,855.5l.81-.81l.81,.81l-.81,.81zM426.7,856.3l.81-.81l.81,.81l-.81,.81zM428.3,857.9l.81-.81l.81,.81l-.81,.81zM432.3,861.9l.81-.81l.81,.81l-.81,.81zM433.1,862.7l.81-.81l.81,.81l-.81,.81zM433.9,863.5l.81-.81l.81,.81l-.81,.81zM434.7,864.3l.81-.81l.81,.81l-.81,.81zM436.3,866.0l.81-.81l.81,.81l-.81,.81zM438.8,868.4l.81-.81l.81,.81l-.81,.81zM439.6,869.2l.81-.81l.81,.81l-.81,.81zM442.0,871.6l.81-.81l.81,.81l-.81,.81zM442.8,872.4l.81-.81l.81,.81l-.81,.81zM429.1,857.1l.81-.81l.81,.81l-.81,.81zM433.9,861.9l.81-.81l.81,.81l-.81,.81zM434.7,862.7l.81-.81l.81,.81l-.81,.81zM437.1,865.2l.81-.81l.81,.81l-.81,.81zM440.4,868.4l.81-.81l.81,.81l-.81,.81zM443.6,871.6l.81-.81l.81,.81l-.81,.81zM421.0,847.4l.81-.81l.81,.81l-.81,.81zM422.6,849.0l.81-.81l.81,.81l-.81,.81zM423.4,849.8l.81-.81l.81,.81l-.81,.81zM425.1,851.5l.81-.81l.81,.81l-.81,.81zM425.9,852.3l.81-.81l.81,.81l-.81,.81zM426.7,853.1l.81-.81l.81,.81l-.81,.81zM427.5,853.9l.81-.81l.81,.81l-.81,.81zM428.3,854.7l.81-.81l.81,.81l-.81,.81zM429.9,856.3l.81-.81l.81,.81l-.81,.81zM432.3,858.7l.81-.81l.81,.81l-.81,.81zM434.7,861.1l.81-.81l.81,.81l-.81,.81zM435.5,861.9l.81-.81l.81,.81l-.81,.81zM436.3,862.7l.81-.81l.81,.81l-.81,.81zM437.9,864.3l.81-.81l.81,.81l-.81,.81zM439.6,866.0l.81-.81l.81,.81l-.81,.81zM440.4,866.8l.81-.81l.81,.81l-.81,.81zM441.2,867.6l.81-.81l.81,.81l-.81,.81zM442.0,868.4l.81-.81l.81,.81l-.81,.81zM443.6,870.0l.81-.81l.81,.81l-.81,.81zM444.4,870.8l.81-.81l.81,.81l-.81,.81zM423.4,848.2l.81-.81l.81,.81l-.81,.81zM425.9,850.7l.81-.81l.81,.81l-.81,.81zM429.1,853.9l.81-.81l.81,.81l-.81,.81zM430.7,855.5l.81-.81l.81,.81l-.81,.81zM435.5,860.3l.81-.81l.81,.81l-.81,.81zM436.3,861.1l.81-.81l.81,.81l-.81,.81zM441.2,866.0l.81-.81l.81,.81l-.81,.81zM442.0,866.8l.81-.81l.81,.81l-.81,.81zM443.6,868.4l.81-.81l.81,.81l-.81,.81zM444.4,869.2l.81-.81l.81,.81l-.81,.81zM445.2,870.0l.81-.81l.81,.81l-.81,.81zM429.1,852.3l.81-.81l.81,.81l-.81,.81zM429.9,853.1l.81-.81l.81,.81l-.81,.81zM439.6,862.7l.81-.81l.81,.81l-.81,.81zM442.0,865.2l.81-.81l.81,.81l-.81,.81zM442.8,866.0l.81-.81l.81,.81l-.81,.81zM430.7,852.3l.81-.81l.81,.81l-.81,.81zM446.8,868.4l.81-.81l.81,.81l-.81,.81zM443.6,863.5l.81-.81l.81,.81l-.81,.81zM447.6,867.6l.81-.81l.81,.81l-.81,.81zM425.1,843.4l.81-.81l.81,.81l-.81,.81zM426.7,845.0l.81-.81l.81,.81l-.81,.81zM428.3,846.6l.81-.81l.81,.81l-.81,.81zM429.1,847.4l.81-.81l.81,.81l-.81,.81zM429.9,848.2l.81-.81l.81,.81l-.81,.81zM431.5,849.8l.81-.81l.81,.81l-.81,.81zM432.3,850.7l.81-.81l.81,.81l-.81,.81zM433.9,852.3l.81-.81l.81,.81l-.81,.81zM437.9,856.3l.81-.81l.81,.81l-.81,.81zM438.8,857.1l.81-.81l.81,.81l-.81,.81zM439.6,857.9l.81-.81l.81,.81l-.81,.81zM440.4,858.7l.81-.81l.81,.81l-.81,.81zM441.2,859.5l.81-.81l.81,.81l-.81,.81zM442.0,860.3l.81-.81l.81,.81l-.81,.81zM444.4,862.7l.81-.81l.81,.81l-.81,.81zM445.2,863.5l.81-.81l.81,.81l-.81,.81zM446.8,865.2l.81-.81l.81,.81l-.81,.81zM447.6,866.0l.81-.81l.81,.81l-.81,.81zM448.4,866.8l.81-.81l.81,.81l-.81,.81zM432.3,849.0l.81-.81l.81,.81l-.81,.81zM440.4,857.1l.81-.81l.81,.81l-.81,.81zM445.2,861.9l.81-.81l.81,.81l-.81,.81zM428.3,843.4l.81-.81l.81,.81l-.81,.81zM429.1,844.2l.81-.81l.81,.81l-.81,.81zM430.7,845.8l.81-.81l.81,.81l-.81,.81zM431.5,846.6l.81-.81l.81,.81l-.81,.81zM433.1,848.2l.81-.81l.81,.81l-.81,.81zM433.9,849.0l.81-.81l.81,.81l-.81,.81zM435.5,850.7l.81-.81l.81,.81l-.81,.81zM437.1,852.3l.81-.81l.81,.81l-.81,.81zM438.8,853.9l.81-.81l.81,.81l-.81,.81zM439.6,854.7l.81-.81l.81,.81l-.81,.81zM440.4,855.5l.81-.81l.81,.81l-.81,.81zM441.2,856.3l.81-.81l.81,.81l-.81,.81zM442.0,857.1l.81-.81l.81,.81l-.81,.81zM442.8,857.9l.81-.81l.81,.81l-.81,.81zM443.6,858.7l.81-.81l.81,.81l-.81,.81zM444.4,859.5l.81-.81l.81,.81l-.81,.81zM446.0,861.1l.81-.81l.81,.81l-.81,.81zM446.8,861.9l.81-.81l.81,.81l-.81,.81zM447.6,862.7l.81-.81l.81,.81l-.81,.81zM448.4,863.5l.81-.81l.81,.81l-.81,.81zM449.2,864.3l.81-.81l.81,.81l-.81,.81zM450.0,865.2l.81-.81l.81,.81l-.81,.81zM433.9,847.4l.81-.81l.81,.81l-.81,.81zM434.7,848.2l.81-.81l.81,.81l-.81,.81zM436.3,849.8l.81-.81l.81,.81l-.81,.81zM442.0,855.5l.81-.81l.81,.81l-.81,.81zM444.4,857.9l.81-.81l.81,.81l-.81,.81zM446.8,860.3l.81-.81l.81,.81l-.81,.81zM447.6,861.1l.81-.81l.81,.81l-.81,.81zM450.8,864.3l.81-.81l.81,.81l-.81,.81zM434.7,846.6l.81-.81l.81,.81l-.81,.81zM435.5,847.4l.81-.81l.81,.81l-.81,.81zM442.8,854.7l.81-.81l.81,.81l-.81,.81zM447.6,859.5l.81-.81l.81,.81l-.81,.81zM450.8,862.7l.81-.81l.81,.81l-.81,.81zM451.6,863.5l.81-.81l.81,.81l-.81,.81zM435.5,845.8l.81-.81l.81,.81l-.81,.81zM436.3,846.6l.81-.81l.81,.81l-.81,.81zM437.9,848.2l.81-.81l.81,.81l-.81,.81zM442.8,853.1l.81-.81l.81,.81l-.81,.81zM443.6,853.9l.81-.81l.81,.81l-.81,.81zM444.4,854.7l.81-.81l.81,.81l-.81,.81zM446.0,856.3l.81-.81l.81,.81l-.81,.81zM448.4,858.7l.81-.81l.81,.81l-.81,.81zM449.2,859.5l.81-.81l.81,.81l-.81,.81zM451.6,861.9l.81-.81l.81,.81l-.81,.81zM452.4,862.7l.81-.81l.81,.81l-.81,.81zM438.8,847.4l.81-.81l.81,.81l-.81,.81zM453.2,861.9l.81-.81l.81,.81l-.81,.81zM454.1,861.1l.81-.81l.81,.81l-.81,.81zM437.9,843.4l.81-.81l.81,.81l-.81,.81zM438.8,844.2l.81-.81l.81,.81l-.81,.81zM439.6,845.0l.81-.81l.81,.81l-.81,.81zM440.4,845.8l.81-.81l.81,.81l-.81,.81zM443.6,849.0l.81-.81l.81,.81l-.81,.81zM445.2,850.7l.81-.81l.81,.81l-.81,.81zM446.0,851.5l.81-.81l.81,.81l-.81,.81zM447.6,853.1l.81-.81l.81,.81l-.81,.81zM448.4,853.9l.81-.81l.81,.81l-.81,.81zM449.2,854.7l.81-.81l.81,.81l-.81,.81zM450.8,856.3l.81-.81l.81,.81l-.81,.81zM451.6,857.1l.81-.81l.81,.81l-.81,.81zM452.4,857.9l.81-.81l.81,.81l-.81,.81zM454.1,859.5l.81-.81l.81,.81l-.81,.81zM454.9,860.3l.81-.81l.81,.81l-.81,.81zM439.6,843.4l.81-.81l.81,.81l-.81,.81zM440.4,844.2l.81-.81l.81,.81l-.81,.81zM441.2,845.0l.81-.81l.81,.81l-.81,.81zM445.2,849.0l.81-.81l.81,.81l-.81,.81zM446.0,849.8l.81-.81l.81,.81l-.81,.81zM446.8,850.7l.81-.81l.81,.81l-.81,.81zM447.6,851.5l.81-.81l.81,.81l-.81,.81zM448.4,852.3l.81-.81l.81,.81l-.81,.81zM449.2,853.1l.81-.81l.81,.81l-.81,.81zM450.8,854.7l.81-.81l.81,.81l-.81,.81zM451.6,855.5l.81-.81l.81,.81l-.81,.81zM452.4,856.3l.81-.81l.81,.81l-.81,.81zM453.2,857.1l.81-.81l.81,.81l-.81,.81zM454.1,857.9l.81-.81l.81,.81l-.81,.81zM454.9,858.7l.81-.81l.81,.81l-.81,.81zM455.7,859.5l.81-.81l.81,.81l-.81,.81zM456.5,860.3l.81-.81l.81,.81l-.81,.81zM442.0,844.2l.81-.81l.81,.81l-.81,.81zM452.4,854.7l.81-.81l.81,.81l-.81,.81zM456.5,858.7l.81-.81l.81,.81l-.81,.81zM442.8,843.4l.81-.81l.81,.81l-.81,.81zM443.6,844.2l.81-.81l.81,.81l-.81,.81zM445.2,845.8l.81-.81l.81,.81l-.81,.81zM447.6,848.2l.81-.81l.81,.81l-.81,.81zM448.4,849.0l.81-.81l.81,.81l-.81,.81zM449.2,849.8l.81-.81l.81,.81l-.81,.81zM450.0,850.7l.81-.81l.81,.81l-.81,.81zM450.8,851.5l.81-.81l.81,.81l-.81,.81zM451.6,852.3l.81-.81l.81,.81l-.81,.81zM453.2,853.9l.81-.81l.81,.81l-.81,.81zM454.1,854.7l.81-.81l.81,.81l-.81,.81zM454.9,855.5l.81-.81l.81,.81l-.81,.81zM456.5,857.1l.81-.81l.81,.81l-.81,.81zM457.3,857.9l.81-.81l.81,.81l-.81,.81zM454.1,853.1l.81-.81l.81,.81l-.81,.81zM458.9,854.7l.81-.81l.81,.81l-.81,.81zM459.7,855.5l.81-.81l.81,.81l-.81,.81zM460.5,854.7l.81-.81l.81,.81l-.81,.81zM461.3,853.9l.81-.81l.81,.81l-.81,.81zM453.2,844.2l.81-.81l.81,.81l-.81,.81zM455.7,846.6l.81-.81l.81,.81l-.81,.81zM458.1,849.0l.81-.81l.81,.81l-.81,.81zM462.1,853.1l.81-.81l.81,.81l-.81,.81zM462.9,853.9l.81-.81l.81,.81l-.81,.81zM454.1,843.4l.81-.81l.81,.81l-.81,.81zM454.9,844.2l.81-.81l.81,.81l-.81,.81zM455.7,845.0l.81-.81l.81,.81l-.81,.81zM456.5,845.8l.81-.81l.81,.81l-.81,.81zM458.1,847.4l.81-.81l.81,.81l-.81,.81zM458.9,848.2l.81-.81l.81,.81l-.81,.81zM459.7,849.0l.81-.81l.81,.81l-.81,.81zM460.5,849.8l.81-.81l.81,.81l-.81,.81zM462.1,851.5l.81-.81l.81,.81l-.81,.81zM462.9,852.3l.81-.81l.81,.81l-.81,.81zM463.7,853.1l.81-.81l.81,.81l-.81,.81zM459.7,847.4l.81-.81l.81,.81l-.81,.81zM462.9,850.7l.81-.81l.81,.81l-.81,.81zM458.1,844.2l.81-.81l.81,.81l-.81,.81zM460.5,846.6l.81-.81l.81,.81l-.81,.81zM463.7,849.8l.81-.81l.81,.81l-.81,.81zM458.9,843.4l.81-.81l.81,.81l-.81,.81zM462.9,847.4l.81-.81l.81,.81l-.81,.81zM464.5,849.0l.81-.81l.81,.81l-.81,.81zM465.3,849.8l.81-.81l.81,.81l-.81,.81zM465.3,848.2l.81-.81l.81,.81l-.81,.81zM464.5,844.2l.81-.81l.81,.81l-.81,.81zM466.9,846.6l.81-.81l.81,.81l-.81,.81zM467.8,847.4l.81-.81l.81,.81l-.81,.81zM467.8,845.8l.81-.81l.81,.81l-.81,.81zM468.6,846.6l.81-.81l.81,.81l-.81,.81zM468.6,845.0l.81-.81l.81,.81l-.81,.81zM469.4,844.2l.81-.81l.81,.81l-.81,.81zM470.2,843.4l.81-.81l.81,.81l-.81,.81zM471.0,844.2l.81-.81l.81,.81l-.81,.81zM471.8,843.4l.81-.81l.81,.81l-.81,.81z" fill="#fae8e8"/>
</svg></body></html>
